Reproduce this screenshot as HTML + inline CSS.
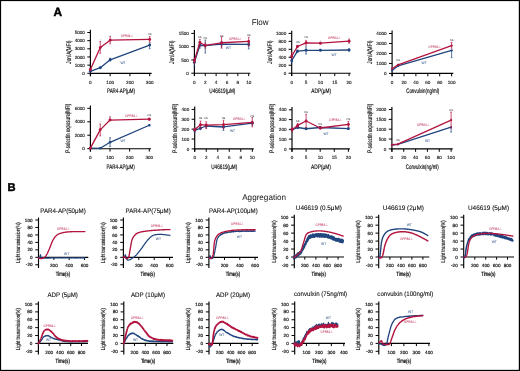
<!DOCTYPE html>
<html><head><meta charset="utf-8"><style>
html,body{margin:0;padding:0;background:#fff;}
body{width:520px;height:371px;overflow:hidden;position:relative;}
svg{position:absolute;left:0;top:0;will-change:transform;}
text{font-family:"Liberation Sans", sans-serif;text-rendering:geometricPrecision;}
</style></head><body>
<svg width="520" height="371" viewBox="0 0 520 371">
<rect x="0" y="0" width="520" height="371" fill="#fff"/>
<text transform="translate(53.50,16.30)" font-size="11.9" text-anchor="start" fill="#000" font-weight="bold" stroke="#000" stroke-width="0.45">A</text>
<text transform="translate(251.70,25.20)" font-size="8.3" text-anchor="start" fill="#111" font-weight="normal" textLength="16.90" lengthAdjust="spacingAndGlyphs" >Flow</text>
<line x1="90.40" y1="29.70" x2="90.40" y2="76.20" stroke="#000" stroke-width="1.15"/>
<line x1="89.93" y1="73.30" x2="151.60" y2="73.30" stroke="#000" stroke-width="1.15"/>
<line x1="87.30" y1="73.30" x2="90.40" y2="73.30" stroke="#000" stroke-width="1.0"/>
<text transform="translate(84.90,74.95)" font-size="4.6" text-anchor="end" fill="#222" stroke="#222" stroke-width="0.14" font-weight="normal" >0</text>
<line x1="87.30" y1="65.14" x2="90.40" y2="65.14" stroke="#000" stroke-width="1.0"/>
<text transform="translate(84.90,66.79)" font-size="4.6" text-anchor="end" fill="#222" stroke="#222" stroke-width="0.14" font-weight="normal" >1000</text>
<line x1="87.30" y1="56.98" x2="90.40" y2="56.98" stroke="#000" stroke-width="1.0"/>
<text transform="translate(84.90,58.63)" font-size="4.6" text-anchor="end" fill="#222" stroke="#222" stroke-width="0.14" font-weight="normal" >2000</text>
<line x1="87.30" y1="48.82" x2="90.40" y2="48.82" stroke="#000" stroke-width="1.0"/>
<text transform="translate(84.90,50.47)" font-size="4.6" text-anchor="end" fill="#222" stroke="#222" stroke-width="0.14" font-weight="normal" >3000</text>
<line x1="87.30" y1="40.66" x2="90.40" y2="40.66" stroke="#000" stroke-width="1.0"/>
<text transform="translate(84.90,42.31)" font-size="4.6" text-anchor="end" fill="#222" stroke="#222" stroke-width="0.14" font-weight="normal" >4000</text>
<line x1="87.30" y1="32.50" x2="90.40" y2="32.50" stroke="#000" stroke-width="1.0"/>
<text transform="translate(84.90,34.15)" font-size="4.6" text-anchor="end" fill="#222" stroke="#222" stroke-width="0.14" font-weight="normal" >5000</text>
<line x1="90.40" y1="73.30" x2="90.40" y2="76.20" stroke="#000" stroke-width="1.0"/>
<text transform="translate(90.40,83.65)" font-size="4.6" text-anchor="middle" fill="#222" stroke="#222" stroke-width="0.14" font-weight="normal" >0</text>
<line x1="110.17" y1="73.30" x2="110.17" y2="76.20" stroke="#000" stroke-width="1.0"/>
<text transform="translate(110.17,83.65)" font-size="4.6" text-anchor="middle" fill="#222" stroke="#222" stroke-width="0.14" font-weight="normal" >100</text>
<line x1="129.93" y1="73.30" x2="129.93" y2="76.20" stroke="#000" stroke-width="1.0"/>
<text transform="translate(129.93,83.65)" font-size="4.6" text-anchor="middle" fill="#222" stroke="#222" stroke-width="0.14" font-weight="normal" >200</text>
<line x1="149.70" y1="73.30" x2="149.70" y2="76.20" stroke="#000" stroke-width="1.0"/>
<text transform="translate(149.70,83.65)" font-size="4.6" text-anchor="middle" fill="#222" stroke="#222" stroke-width="0.14" font-weight="normal" >300</text>
<text transform="translate(121.00,92.70)" font-size="6.6" text-anchor="middle" fill="#000" font-weight="normal" stroke="#000" stroke-width="0.14" textLength="28.00" lengthAdjust="spacingAndGlyphs" >PAR4-AP(μM)</text>
<text transform="translate(70.50,52.10) rotate(-90)" font-size="6.6" text-anchor="middle" fill="#000" font-weight="normal" stroke="#000" stroke-width="0.14" textLength="23.20" lengthAdjust="spacingAndGlyphs" >Jon/A(MFI)</text>
<path d="M90.40,71.30 L100.28,67.70 L110.17,59.80 L149.70,45.11" fill="none" stroke="#21457F" stroke-width="1.3" stroke-linejoin="round" stroke-linecap="round"/>
<circle cx="90.40" cy="71.30" r="1.44" fill="#21457F"/>
<line x1="100.28" y1="67.21" x2="100.28" y2="68.19" stroke="#21457F" stroke-width="0.75"/>
<line x1="99.38" y1="67.21" x2="101.18" y2="67.21" stroke="#21457F" stroke-width="0.6"/>
<line x1="99.38" y1="68.19" x2="101.18" y2="68.19" stroke="#21457F" stroke-width="0.6"/>
<circle cx="100.28" cy="67.70" r="1.44" fill="#21457F"/>
<line x1="110.17" y1="58.17" x2="110.17" y2="61.03" stroke="#21457F" stroke-width="0.75"/>
<line x1="109.27" y1="58.17" x2="111.07" y2="58.17" stroke="#21457F" stroke-width="0.6"/>
<line x1="109.27" y1="61.03" x2="111.07" y2="61.03" stroke="#21457F" stroke-width="0.6"/>
<circle cx="110.17" cy="59.80" r="1.44" fill="#21457F"/>
<line x1="149.70" y1="43.07" x2="149.70" y2="48.78" stroke="#21457F" stroke-width="0.75"/>
<line x1="148.80" y1="43.07" x2="150.60" y2="43.07" stroke="#21457F" stroke-width="0.6"/>
<line x1="148.80" y1="48.78" x2="150.60" y2="48.78" stroke="#21457F" stroke-width="0.6"/>
<circle cx="149.70" cy="45.11" r="1.44" fill="#21457F"/>
<path d="M90.40,69.51 L100.28,47.60 L110.17,40.17 L149.70,39.40" fill="none" stroke="#B3143F" stroke-width="1.3" stroke-linejoin="round" stroke-linecap="round"/>
<line x1="90.40" y1="68.69" x2="90.40" y2="70.32" stroke="#B3143F" stroke-width="0.75"/>
<line x1="89.50" y1="68.69" x2="91.30" y2="68.69" stroke="#B3143F" stroke-width="0.6"/>
<line x1="89.50" y1="70.32" x2="91.30" y2="70.32" stroke="#B3143F" stroke-width="0.6"/>
<circle cx="90.40" cy="69.51" r="1.44" fill="#B3143F"/>
<line x1="100.28" y1="41.48" x2="100.28" y2="53.31" stroke="#B3143F" stroke-width="0.75"/>
<line x1="99.38" y1="41.48" x2="101.18" y2="41.48" stroke="#B3143F" stroke-width="0.6"/>
<line x1="99.38" y1="53.31" x2="101.18" y2="53.31" stroke="#B3143F" stroke-width="0.6"/>
<circle cx="100.28" cy="47.60" r="1.44" fill="#B3143F"/>
<line x1="110.17" y1="36.50" x2="110.17" y2="43.84" stroke="#B3143F" stroke-width="0.75"/>
<line x1="109.27" y1="36.50" x2="111.07" y2="36.50" stroke="#B3143F" stroke-width="0.6"/>
<line x1="109.27" y1="43.84" x2="111.07" y2="43.84" stroke="#B3143F" stroke-width="0.6"/>
<circle cx="110.17" cy="40.17" r="1.44" fill="#B3143F"/>
<line x1="149.70" y1="36.55" x2="149.70" y2="42.26" stroke="#B3143F" stroke-width="0.75"/>
<line x1="148.80" y1="36.55" x2="150.60" y2="36.55" stroke="#B3143F" stroke-width="0.6"/>
<line x1="148.80" y1="42.26" x2="150.60" y2="42.26" stroke="#B3143F" stroke-width="0.6"/>
<circle cx="149.70" cy="39.40" r="1.44" fill="#B3143F"/>
<text transform="translate(149.70,34.50)" font-size="3.3" text-anchor="middle" fill="#333" font-weight="normal" textLength="3.60" lengthAdjust="spacingAndGlyphs" >ns</text>
<text transform="translate(100.50,42.10)" font-size="4.2" text-anchor="middle" fill="#9bb" font-weight="normal" >*</text>
<text transform="translate(110.20,37.60)" font-size="4.2" text-anchor="middle" fill="#9bb" font-weight="normal" >*</text>
<text transform="translate(127.00,36.80)" font-size="3.6" text-anchor="middle" fill="#B3143F" font-weight="normal" textLength="12.50" lengthAdjust="spacingAndGlyphs" >GPR84-/-</text>
<text transform="translate(123.00,63.60)" font-size="3.6" text-anchor="middle" fill="#21457F" font-weight="normal" textLength="5.20" lengthAdjust="spacingAndGlyphs" >WT</text>
<line x1="194.40" y1="30.10" x2="194.40" y2="76.10" stroke="#000" stroke-width="1.15"/>
<line x1="193.93" y1="73.20" x2="250.30" y2="73.20" stroke="#000" stroke-width="1.15"/>
<line x1="191.30" y1="73.20" x2="194.40" y2="73.20" stroke="#000" stroke-width="1.0"/>
<text transform="translate(188.90,74.85)" font-size="4.6" text-anchor="end" fill="#222" stroke="#222" stroke-width="0.14" font-weight="normal" >0</text>
<line x1="191.30" y1="59.93" x2="194.40" y2="59.93" stroke="#000" stroke-width="1.0"/>
<text transform="translate(188.90,61.58)" font-size="4.6" text-anchor="end" fill="#222" stroke="#222" stroke-width="0.14" font-weight="normal" >500</text>
<line x1="191.30" y1="46.67" x2="194.40" y2="46.67" stroke="#000" stroke-width="1.0"/>
<text transform="translate(188.90,48.32)" font-size="4.6" text-anchor="end" fill="#222" stroke="#222" stroke-width="0.14" font-weight="normal" >1000</text>
<line x1="191.30" y1="33.40" x2="194.40" y2="33.40" stroke="#000" stroke-width="1.0"/>
<text transform="translate(188.90,35.05)" font-size="4.6" text-anchor="end" fill="#222" stroke="#222" stroke-width="0.14" font-weight="normal" >1500</text>
<line x1="194.40" y1="73.20" x2="194.40" y2="76.10" stroke="#000" stroke-width="1.0"/>
<text transform="translate(194.40,83.55)" font-size="4.6" text-anchor="middle" fill="#222" stroke="#222" stroke-width="0.14" font-weight="normal" >0</text>
<line x1="205.26" y1="73.20" x2="205.26" y2="76.10" stroke="#000" stroke-width="1.0"/>
<text transform="translate(205.26,83.55)" font-size="4.6" text-anchor="middle" fill="#222" stroke="#222" stroke-width="0.14" font-weight="normal" >2</text>
<line x1="216.12" y1="73.20" x2="216.12" y2="76.10" stroke="#000" stroke-width="1.0"/>
<text transform="translate(216.12,83.55)" font-size="4.6" text-anchor="middle" fill="#222" stroke="#222" stroke-width="0.14" font-weight="normal" >4</text>
<line x1="226.98" y1="73.20" x2="226.98" y2="76.10" stroke="#000" stroke-width="1.0"/>
<text transform="translate(226.98,83.55)" font-size="4.6" text-anchor="middle" fill="#222" stroke="#222" stroke-width="0.14" font-weight="normal" >6</text>
<line x1="237.84" y1="73.20" x2="237.84" y2="76.10" stroke="#000" stroke-width="1.0"/>
<text transform="translate(237.84,83.55)" font-size="4.6" text-anchor="middle" fill="#222" stroke="#222" stroke-width="0.14" font-weight="normal" >8</text>
<line x1="248.70" y1="73.20" x2="248.70" y2="76.10" stroke="#000" stroke-width="1.0"/>
<text transform="translate(248.70,83.55)" font-size="4.6" text-anchor="middle" fill="#222" stroke="#222" stroke-width="0.14" font-weight="normal" >10</text>
<text transform="translate(222.35,92.70)" font-size="6.6" text-anchor="middle" fill="#000" font-weight="normal" stroke="#000" stroke-width="0.14" textLength="26.00" lengthAdjust="spacingAndGlyphs" >U46619(μM)</text>
<text transform="translate(174.10,52.10) rotate(-90)" font-size="6.6" text-anchor="middle" fill="#000" font-weight="normal" stroke="#000" stroke-width="0.14" textLength="23.20" lengthAdjust="spacingAndGlyphs" >Jon/A(MFI)</text>
<path d="M194.40,62.37 L199.83,45.26 L205.26,45.61 L221.55,44.17 L248.70,44.46" fill="none" stroke="#21457F" stroke-width="1.3" stroke-linejoin="round" stroke-linecap="round"/>
<line x1="194.40" y1="60.78" x2="194.40" y2="66.89" stroke="#21457F" stroke-width="0.75"/>
<line x1="193.50" y1="60.78" x2="195.30" y2="60.78" stroke="#21457F" stroke-width="0.6"/>
<line x1="193.50" y1="66.89" x2="195.30" y2="66.89" stroke="#21457F" stroke-width="0.6"/>
<circle cx="194.40" cy="62.37" r="1.44" fill="#21457F"/>
<line x1="199.83" y1="42.34" x2="199.83" y2="48.18" stroke="#21457F" stroke-width="0.75"/>
<line x1="198.93" y1="42.34" x2="200.73" y2="42.34" stroke="#21457F" stroke-width="0.6"/>
<line x1="198.93" y1="48.18" x2="200.73" y2="48.18" stroke="#21457F" stroke-width="0.6"/>
<circle cx="199.83" cy="45.26" r="1.44" fill="#21457F"/>
<line x1="205.26" y1="40.03" x2="205.26" y2="53.03" stroke="#21457F" stroke-width="0.75"/>
<line x1="204.36" y1="40.03" x2="206.16" y2="40.03" stroke="#21457F" stroke-width="0.6"/>
<line x1="204.36" y1="53.03" x2="206.16" y2="53.03" stroke="#21457F" stroke-width="0.6"/>
<circle cx="205.26" cy="45.61" r="1.44" fill="#21457F"/>
<line x1="221.55" y1="41.52" x2="221.55" y2="46.83" stroke="#21457F" stroke-width="0.75"/>
<line x1="220.65" y1="41.52" x2="222.45" y2="41.52" stroke="#21457F" stroke-width="0.6"/>
<line x1="220.65" y1="46.83" x2="222.45" y2="46.83" stroke="#21457F" stroke-width="0.6"/>
<circle cx="221.55" cy="44.17" r="1.44" fill="#21457F"/>
<line x1="248.70" y1="42.34" x2="248.70" y2="48.98" stroke="#21457F" stroke-width="0.75"/>
<line x1="247.80" y1="42.34" x2="249.60" y2="42.34" stroke="#21457F" stroke-width="0.6"/>
<line x1="247.80" y1="48.98" x2="249.60" y2="48.98" stroke="#21457F" stroke-width="0.6"/>
<circle cx="248.70" cy="44.46" r="1.44" fill="#21457F"/>
<path d="M194.40,60.78 L199.83,42.55 L205.26,45.47 L221.55,42.77 L248.70,41.47" fill="none" stroke="#B3143F" stroke-width="1.3" stroke-linejoin="round" stroke-linecap="round"/>
<line x1="194.40" y1="58.13" x2="194.40" y2="63.44" stroke="#B3143F" stroke-width="0.75"/>
<line x1="193.50" y1="58.13" x2="195.30" y2="58.13" stroke="#B3143F" stroke-width="0.6"/>
<line x1="193.50" y1="63.44" x2="195.30" y2="63.44" stroke="#B3143F" stroke-width="0.6"/>
<circle cx="194.40" cy="60.78" r="1.44" fill="#B3143F"/>
<line x1="199.83" y1="39.37" x2="199.83" y2="45.74" stroke="#B3143F" stroke-width="0.75"/>
<line x1="198.93" y1="39.37" x2="200.73" y2="39.37" stroke="#B3143F" stroke-width="0.6"/>
<line x1="198.93" y1="45.74" x2="200.73" y2="45.74" stroke="#B3143F" stroke-width="0.6"/>
<circle cx="199.83" cy="42.55" r="1.44" fill="#B3143F"/>
<line x1="205.26" y1="42.82" x2="205.26" y2="48.13" stroke="#B3143F" stroke-width="0.75"/>
<line x1="204.36" y1="42.82" x2="206.16" y2="42.82" stroke="#B3143F" stroke-width="0.6"/>
<line x1="204.36" y1="48.13" x2="206.16" y2="48.13" stroke="#B3143F" stroke-width="0.6"/>
<circle cx="205.26" cy="45.47" r="1.44" fill="#B3143F"/>
<line x1="221.55" y1="36.80" x2="221.55" y2="48.21" stroke="#B3143F" stroke-width="0.75"/>
<line x1="220.65" y1="36.80" x2="222.45" y2="36.80" stroke="#B3143F" stroke-width="0.6"/>
<line x1="220.65" y1="48.21" x2="222.45" y2="48.21" stroke="#B3143F" stroke-width="0.6"/>
<circle cx="221.55" cy="42.77" r="1.44" fill="#B3143F"/>
<line x1="248.70" y1="37.22" x2="248.70" y2="46.11" stroke="#B3143F" stroke-width="0.75"/>
<line x1="247.80" y1="37.22" x2="249.60" y2="37.22" stroke="#B3143F" stroke-width="0.6"/>
<line x1="247.80" y1="46.11" x2="249.60" y2="46.11" stroke="#B3143F" stroke-width="0.6"/>
<circle cx="248.70" cy="41.47" r="1.44" fill="#B3143F"/>
<text transform="translate(199.70,38.10)" font-size="3.3" text-anchor="middle" fill="#333" font-weight="normal" textLength="3.60" lengthAdjust="spacingAndGlyphs" >ns</text>
<text transform="translate(205.20,38.70)" font-size="3.3" text-anchor="middle" fill="#333" font-weight="normal" textLength="3.60" lengthAdjust="spacingAndGlyphs" >ns</text>
<text transform="translate(221.60,36.70)" font-size="3.3" text-anchor="middle" fill="#333" font-weight="normal" textLength="3.60" lengthAdjust="spacingAndGlyphs" >ns</text>
<text transform="translate(248.70,35.60)" font-size="3.3" text-anchor="middle" fill="#333" font-weight="normal" textLength="3.60" lengthAdjust="spacingAndGlyphs" >ns</text>
<text transform="translate(235.20,39.70)" font-size="3.6" text-anchor="middle" fill="#B3143F" font-weight="normal" textLength="12.50" lengthAdjust="spacingAndGlyphs" >GPR84-/-</text>
<text transform="translate(228.40,49.20)" font-size="3.6" text-anchor="middle" fill="#21457F" font-weight="normal" textLength="5.20" lengthAdjust="spacingAndGlyphs" >WT</text>
<line x1="291.70" y1="30.70" x2="291.70" y2="76.10" stroke="#000" stroke-width="1.15"/>
<line x1="291.23" y1="73.20" x2="350.70" y2="73.20" stroke="#000" stroke-width="1.15"/>
<line x1="288.60" y1="73.20" x2="291.70" y2="73.20" stroke="#000" stroke-width="1.0"/>
<text transform="translate(286.20,74.85)" font-size="4.6" text-anchor="end" fill="#222" stroke="#222" stroke-width="0.14" font-weight="normal" >0</text>
<line x1="288.60" y1="65.24" x2="291.70" y2="65.24" stroke="#000" stroke-width="1.0"/>
<text transform="translate(286.20,66.89)" font-size="4.6" text-anchor="end" fill="#222" stroke="#222" stroke-width="0.14" font-weight="normal" >200</text>
<line x1="288.60" y1="57.28" x2="291.70" y2="57.28" stroke="#000" stroke-width="1.0"/>
<text transform="translate(286.20,58.93)" font-size="4.6" text-anchor="end" fill="#222" stroke="#222" stroke-width="0.14" font-weight="normal" >400</text>
<line x1="288.60" y1="49.32" x2="291.70" y2="49.32" stroke="#000" stroke-width="1.0"/>
<text transform="translate(286.20,50.97)" font-size="4.6" text-anchor="end" fill="#222" stroke="#222" stroke-width="0.14" font-weight="normal" >600</text>
<line x1="288.60" y1="41.36" x2="291.70" y2="41.36" stroke="#000" stroke-width="1.0"/>
<text transform="translate(286.20,43.01)" font-size="4.6" text-anchor="end" fill="#222" stroke="#222" stroke-width="0.14" font-weight="normal" >800</text>
<line x1="288.60" y1="33.40" x2="291.70" y2="33.40" stroke="#000" stroke-width="1.0"/>
<text transform="translate(286.20,35.05)" font-size="4.6" text-anchor="end" fill="#222" stroke="#222" stroke-width="0.14" font-weight="normal" >1000</text>
<line x1="291.70" y1="73.20" x2="291.70" y2="76.10" stroke="#000" stroke-width="1.0"/>
<text transform="translate(291.70,83.55)" font-size="4.6" text-anchor="middle" fill="#222" stroke="#222" stroke-width="0.14" font-weight="normal" >0</text>
<line x1="306.05" y1="73.20" x2="306.05" y2="76.10" stroke="#000" stroke-width="1.0"/>
<text transform="translate(306.05,83.55)" font-size="4.6" text-anchor="middle" fill="#222" stroke="#222" stroke-width="0.14" font-weight="normal" >5</text>
<line x1="320.40" y1="73.20" x2="320.40" y2="76.10" stroke="#000" stroke-width="1.0"/>
<text transform="translate(320.40,83.55)" font-size="4.6" text-anchor="middle" fill="#222" stroke="#222" stroke-width="0.14" font-weight="normal" >10</text>
<line x1="334.75" y1="73.20" x2="334.75" y2="76.10" stroke="#000" stroke-width="1.0"/>
<text transform="translate(334.75,83.55)" font-size="4.6" text-anchor="middle" fill="#222" stroke="#222" stroke-width="0.14" font-weight="normal" >15</text>
<line x1="349.10" y1="73.20" x2="349.10" y2="76.10" stroke="#000" stroke-width="1.0"/>
<text transform="translate(349.10,83.55)" font-size="4.6" text-anchor="middle" fill="#222" stroke="#222" stroke-width="0.14" font-weight="normal" >20</text>
<text transform="translate(321.20,92.70)" font-size="6.6" text-anchor="middle" fill="#000" font-weight="normal" stroke="#000" stroke-width="0.14" textLength="19.70" lengthAdjust="spacingAndGlyphs" >ADP(μM)</text>
<text transform="translate(271.50,52.10) rotate(-90)" font-size="6.6" text-anchor="middle" fill="#000" font-weight="normal" stroke="#000" stroke-width="0.14" textLength="23.20" lengthAdjust="spacingAndGlyphs" >Jon/A(MFI)</text>
<path d="M291.70,60.78 L297.44,51.19 L306.05,50.31 L320.40,50.31 L349.10,50.00" fill="none" stroke="#21457F" stroke-width="1.3" stroke-linejoin="round" stroke-linecap="round"/>
<line x1="291.70" y1="58.79" x2="291.70" y2="62.77" stroke="#21457F" stroke-width="0.75"/>
<line x1="290.80" y1="58.79" x2="292.60" y2="58.79" stroke="#21457F" stroke-width="0.6"/>
<line x1="290.80" y1="62.77" x2="292.60" y2="62.77" stroke="#21457F" stroke-width="0.6"/>
<circle cx="291.70" cy="60.78" r="1.44" fill="#21457F"/>
<line x1="297.44" y1="50.00" x2="297.44" y2="52.38" stroke="#21457F" stroke-width="0.75"/>
<line x1="296.54" y1="50.00" x2="298.34" y2="50.00" stroke="#21457F" stroke-width="0.6"/>
<line x1="296.54" y1="52.38" x2="298.34" y2="52.38" stroke="#21457F" stroke-width="0.6"/>
<circle cx="297.44" cy="51.19" r="1.44" fill="#21457F"/>
<line x1="306.05" y1="46.73" x2="306.05" y2="54.10" stroke="#21457F" stroke-width="0.75"/>
<line x1="305.15" y1="46.73" x2="306.95" y2="46.73" stroke="#21457F" stroke-width="0.6"/>
<line x1="305.15" y1="54.10" x2="306.95" y2="54.10" stroke="#21457F" stroke-width="0.6"/>
<circle cx="306.05" cy="50.31" r="1.44" fill="#21457F"/>
<line x1="320.40" y1="49.52" x2="320.40" y2="51.11" stroke="#21457F" stroke-width="0.75"/>
<line x1="319.50" y1="49.52" x2="321.30" y2="49.52" stroke="#21457F" stroke-width="0.6"/>
<line x1="319.50" y1="51.11" x2="321.30" y2="51.11" stroke="#21457F" stroke-width="0.6"/>
<circle cx="320.40" cy="50.31" r="1.44" fill="#21457F"/>
<line x1="349.10" y1="48.80" x2="349.10" y2="51.19" stroke="#21457F" stroke-width="0.75"/>
<line x1="348.20" y1="48.80" x2="350.00" y2="48.80" stroke="#21457F" stroke-width="0.6"/>
<line x1="348.20" y1="51.19" x2="350.00" y2="51.19" stroke="#21457F" stroke-width="0.6"/>
<circle cx="349.10" cy="50.00" r="1.44" fill="#21457F"/>
<path d="M291.70,56.28 L297.44,46.49 L306.05,42.79 L320.40,43.19 L349.10,41.20" fill="none" stroke="#B3143F" stroke-width="1.3" stroke-linejoin="round" stroke-linecap="round"/>
<line x1="291.70" y1="51.91" x2="291.70" y2="58.67" stroke="#B3143F" stroke-width="0.75"/>
<line x1="290.80" y1="51.91" x2="292.60" y2="51.91" stroke="#B3143F" stroke-width="0.6"/>
<line x1="290.80" y1="58.67" x2="292.60" y2="58.67" stroke="#B3143F" stroke-width="0.6"/>
<circle cx="291.70" cy="56.28" r="1.44" fill="#B3143F"/>
<line x1="297.44" y1="45.30" x2="297.44" y2="47.69" stroke="#B3143F" stroke-width="0.75"/>
<line x1="296.54" y1="45.30" x2="298.34" y2="45.30" stroke="#B3143F" stroke-width="0.6"/>
<line x1="296.54" y1="47.69" x2="298.34" y2="47.69" stroke="#B3143F" stroke-width="0.6"/>
<circle cx="297.44" cy="46.49" r="1.44" fill="#B3143F"/>
<line x1="306.05" y1="40.40" x2="306.05" y2="45.18" stroke="#B3143F" stroke-width="0.75"/>
<line x1="305.15" y1="40.40" x2="306.95" y2="40.40" stroke="#B3143F" stroke-width="0.6"/>
<line x1="305.15" y1="45.18" x2="306.95" y2="45.18" stroke="#B3143F" stroke-width="0.6"/>
<circle cx="306.05" cy="42.79" r="1.44" fill="#B3143F"/>
<line x1="320.40" y1="42.39" x2="320.40" y2="43.99" stroke="#B3143F" stroke-width="0.75"/>
<line x1="319.50" y1="42.39" x2="321.30" y2="42.39" stroke="#B3143F" stroke-width="0.6"/>
<line x1="319.50" y1="43.99" x2="321.30" y2="43.99" stroke="#B3143F" stroke-width="0.6"/>
<circle cx="320.40" cy="43.19" r="1.44" fill="#B3143F"/>
<line x1="349.10" y1="39.21" x2="349.10" y2="43.19" stroke="#B3143F" stroke-width="0.75"/>
<line x1="348.20" y1="39.21" x2="350.00" y2="39.21" stroke="#B3143F" stroke-width="0.6"/>
<line x1="348.20" y1="43.19" x2="350.00" y2="43.19" stroke="#B3143F" stroke-width="0.6"/>
<circle cx="349.10" cy="41.20" r="1.44" fill="#B3143F"/>
<text transform="translate(297.80,43.30)" font-size="3.3" text-anchor="middle" fill="#333" font-weight="normal" textLength="3.60" lengthAdjust="spacingAndGlyphs" >ns</text>
<text transform="translate(306.20,38.10)" font-size="3.3" text-anchor="middle" fill="#333" font-weight="normal" textLength="3.60" lengthAdjust="spacingAndGlyphs" >ns</text>
<text transform="translate(320.50,42.50)" font-size="4.2" text-anchor="middle" fill="#9bb" font-weight="normal" >*</text>
<text transform="translate(349.10,39.80)" font-size="4.2" text-anchor="middle" fill="#9bb" font-weight="normal" >*</text>
<text transform="translate(334.20,38.90)" font-size="3.6" text-anchor="middle" fill="#B3143F" font-weight="normal" textLength="12.50" lengthAdjust="spacingAndGlyphs" >GPR84-/-</text>
<text transform="translate(334.20,55.90)" font-size="3.6" text-anchor="middle" fill="#21457F" font-weight="normal" textLength="5.20" lengthAdjust="spacingAndGlyphs" >WT</text>
<line x1="392.10" y1="30.50" x2="392.10" y2="76.30" stroke="#000" stroke-width="1.15"/>
<line x1="391.63" y1="73.40" x2="453.30" y2="73.40" stroke="#000" stroke-width="1.15"/>
<line x1="389.00" y1="73.40" x2="392.10" y2="73.40" stroke="#000" stroke-width="1.0"/>
<text transform="translate(386.60,75.05)" font-size="4.6" text-anchor="end" fill="#222" stroke="#222" stroke-width="0.14" font-weight="normal" >0</text>
<line x1="389.00" y1="63.43" x2="392.10" y2="63.43" stroke="#000" stroke-width="1.0"/>
<text transform="translate(386.60,65.08)" font-size="4.6" text-anchor="end" fill="#222" stroke="#222" stroke-width="0.14" font-weight="normal" >1000</text>
<line x1="389.00" y1="53.45" x2="392.10" y2="53.45" stroke="#000" stroke-width="1.0"/>
<text transform="translate(386.60,55.10)" font-size="4.6" text-anchor="end" fill="#222" stroke="#222" stroke-width="0.14" font-weight="normal" >2000</text>
<line x1="389.00" y1="43.48" x2="392.10" y2="43.48" stroke="#000" stroke-width="1.0"/>
<text transform="translate(386.60,45.12)" font-size="4.6" text-anchor="end" fill="#222" stroke="#222" stroke-width="0.14" font-weight="normal" >3000</text>
<line x1="389.00" y1="33.50" x2="392.10" y2="33.50" stroke="#000" stroke-width="1.0"/>
<text transform="translate(386.60,35.15)" font-size="4.6" text-anchor="end" fill="#222" stroke="#222" stroke-width="0.14" font-weight="normal" >4000</text>
<line x1="392.10" y1="73.40" x2="392.10" y2="76.30" stroke="#000" stroke-width="1.0"/>
<text transform="translate(392.10,83.75)" font-size="4.6" text-anchor="middle" fill="#222" stroke="#222" stroke-width="0.14" font-weight="normal" >0</text>
<line x1="404.00" y1="73.40" x2="404.00" y2="76.30" stroke="#000" stroke-width="1.0"/>
<text transform="translate(404.00,83.75)" font-size="4.6" text-anchor="middle" fill="#222" stroke="#222" stroke-width="0.14" font-weight="normal" >20</text>
<line x1="415.90" y1="73.40" x2="415.90" y2="76.30" stroke="#000" stroke-width="1.0"/>
<text transform="translate(415.90,83.75)" font-size="4.6" text-anchor="middle" fill="#222" stroke="#222" stroke-width="0.14" font-weight="normal" >40</text>
<line x1="427.80" y1="73.40" x2="427.80" y2="76.30" stroke="#000" stroke-width="1.0"/>
<text transform="translate(427.80,83.75)" font-size="4.6" text-anchor="middle" fill="#222" stroke="#222" stroke-width="0.14" font-weight="normal" >60</text>
<line x1="439.70" y1="73.40" x2="439.70" y2="76.30" stroke="#000" stroke-width="1.0"/>
<text transform="translate(439.70,83.75)" font-size="4.6" text-anchor="middle" fill="#222" stroke="#222" stroke-width="0.14" font-weight="normal" >80</text>
<line x1="451.60" y1="73.40" x2="451.60" y2="76.30" stroke="#000" stroke-width="1.0"/>
<text transform="translate(451.60,83.75)" font-size="4.6" text-anchor="middle" fill="#222" stroke="#222" stroke-width="0.14" font-weight="normal" >100</text>
<text transform="translate(422.70,92.70)" font-size="6.6" text-anchor="middle" fill="#000" font-weight="normal" stroke="#000" stroke-width="0.14" textLength="33.00" lengthAdjust="spacingAndGlyphs" >Convulxin(ng/ml)</text>
<text transform="translate(371.60,52.10) rotate(-90)" font-size="6.6" text-anchor="middle" fill="#000" font-weight="normal" stroke="#000" stroke-width="0.14" textLength="23.20" lengthAdjust="spacingAndGlyphs" >Jon/A(MFI)</text>
<path d="M392.10,70.51 L398.05,65.82 L451.60,50.46" fill="none" stroke="#21457F" stroke-width="1.3" stroke-linejoin="round" stroke-linecap="round"/>
<circle cx="392.10" cy="70.51" r="1.15" fill="#21457F"/>
<line x1="398.05" y1="65.32" x2="398.05" y2="66.32" stroke="#21457F" stroke-width="0.75"/>
<line x1="397.15" y1="65.32" x2="398.95" y2="65.32" stroke="#21457F" stroke-width="0.6"/>
<line x1="397.15" y1="66.32" x2="398.95" y2="66.32" stroke="#21457F" stroke-width="0.6"/>
<circle cx="398.05" cy="65.82" r="1.15" fill="#21457F"/>
<line x1="451.60" y1="50.46" x2="451.60" y2="57.64" stroke="#21457F" stroke-width="0.75"/>
<line x1="450.70" y1="50.46" x2="452.50" y2="50.46" stroke="#21457F" stroke-width="0.6"/>
<line x1="450.70" y1="57.64" x2="452.50" y2="57.64" stroke="#21457F" stroke-width="0.6"/>
<circle cx="451.60" cy="50.46" r="1.15" fill="#21457F"/>
<path d="M392.10,68.71 L398.05,64.82 L451.60,45.67" fill="none" stroke="#B3143F" stroke-width="1.3" stroke-linejoin="round" stroke-linecap="round"/>
<circle cx="392.10" cy="68.71" r="1.15" fill="#B3143F"/>
<line x1="398.05" y1="64.32" x2="398.05" y2="65.32" stroke="#B3143F" stroke-width="0.75"/>
<line x1="397.15" y1="64.32" x2="398.95" y2="64.32" stroke="#B3143F" stroke-width="0.6"/>
<line x1="397.15" y1="65.32" x2="398.95" y2="65.32" stroke="#B3143F" stroke-width="0.6"/>
<circle cx="398.05" cy="64.82" r="1.15" fill="#B3143F"/>
<line x1="451.60" y1="42.38" x2="451.60" y2="48.26" stroke="#B3143F" stroke-width="0.75"/>
<line x1="450.70" y1="42.38" x2="452.50" y2="42.38" stroke="#B3143F" stroke-width="0.6"/>
<line x1="450.70" y1="48.26" x2="452.50" y2="48.26" stroke="#B3143F" stroke-width="0.6"/>
<circle cx="451.60" cy="45.67" r="1.15" fill="#B3143F"/>
<text transform="translate(398.10,61.40)" font-size="3.3" text-anchor="middle" fill="#333" font-weight="normal" textLength="3.60" lengthAdjust="spacingAndGlyphs" >ns</text>
<text transform="translate(451.60,41.20)" font-size="3.3" text-anchor="middle" fill="#333" font-weight="normal" textLength="3.60" lengthAdjust="spacingAndGlyphs" >ns</text>
<text transform="translate(434.80,47.50)" font-size="3.6" text-anchor="middle" fill="#B3143F" font-weight="normal" textLength="12.50" lengthAdjust="spacingAndGlyphs" >GPR84-/-</text>
<text transform="translate(424.20,64.10)" font-size="3.6" text-anchor="middle" fill="#21457F" font-weight="normal" textLength="5.20" lengthAdjust="spacingAndGlyphs" >WT</text>
<line x1="90.40" y1="105.40" x2="90.40" y2="151.60" stroke="#000" stroke-width="1.15"/>
<line x1="89.93" y1="148.70" x2="151.00" y2="148.70" stroke="#000" stroke-width="1.15"/>
<line x1="87.30" y1="148.70" x2="90.40" y2="148.70" stroke="#000" stroke-width="1.0"/>
<text transform="translate(84.90,150.35)" font-size="4.6" text-anchor="end" fill="#222" stroke="#222" stroke-width="0.14" font-weight="normal" >0</text>
<line x1="87.30" y1="135.23" x2="90.40" y2="135.23" stroke="#000" stroke-width="1.0"/>
<text transform="translate(84.90,136.88)" font-size="4.6" text-anchor="end" fill="#222" stroke="#222" stroke-width="0.14" font-weight="normal" >2000</text>
<line x1="87.30" y1="121.77" x2="90.40" y2="121.77" stroke="#000" stroke-width="1.0"/>
<text transform="translate(84.90,123.42)" font-size="4.6" text-anchor="end" fill="#222" stroke="#222" stroke-width="0.14" font-weight="normal" >4000</text>
<line x1="87.30" y1="108.30" x2="90.40" y2="108.30" stroke="#000" stroke-width="1.0"/>
<text transform="translate(84.90,109.95)" font-size="4.6" text-anchor="end" fill="#222" stroke="#222" stroke-width="0.14" font-weight="normal" >6000</text>
<line x1="90.40" y1="148.70" x2="90.40" y2="151.60" stroke="#000" stroke-width="1.0"/>
<text transform="translate(90.40,159.05)" font-size="4.6" text-anchor="middle" fill="#222" stroke="#222" stroke-width="0.14" font-weight="normal" >0</text>
<line x1="110.03" y1="148.70" x2="110.03" y2="151.60" stroke="#000" stroke-width="1.0"/>
<text transform="translate(110.03,159.05)" font-size="4.6" text-anchor="middle" fill="#222" stroke="#222" stroke-width="0.14" font-weight="normal" >100</text>
<line x1="129.67" y1="148.70" x2="129.67" y2="151.60" stroke="#000" stroke-width="1.0"/>
<text transform="translate(129.67,159.05)" font-size="4.6" text-anchor="middle" fill="#222" stroke="#222" stroke-width="0.14" font-weight="normal" >200</text>
<line x1="149.30" y1="148.70" x2="149.30" y2="151.60" stroke="#000" stroke-width="1.0"/>
<text transform="translate(149.30,159.05)" font-size="4.6" text-anchor="middle" fill="#222" stroke="#222" stroke-width="0.14" font-weight="normal" >300</text>
<text transform="translate(120.70,168.60)" font-size="6.6" text-anchor="middle" fill="#000" font-weight="normal" stroke="#000" stroke-width="0.14" textLength="28.30" lengthAdjust="spacingAndGlyphs" >PAR4-AP(μM)</text>
<text transform="translate(69.90,128.20) rotate(-90)" font-size="6.6" text-anchor="middle" fill="#000" font-weight="normal" stroke="#000" stroke-width="0.14" textLength="49.00" lengthAdjust="spacingAndGlyphs" >P-selectin exposure(MFI)</text>
<path d="M90.40,148.16 L100.22,148.30 L110.03,142.30 L149.30,125.27" fill="none" stroke="#21457F" stroke-width="1.3" stroke-linejoin="round" stroke-linecap="round"/>
<circle cx="90.40" cy="148.16" r="1.26" fill="#21457F"/>
<circle cx="100.22" cy="148.30" r="1.26" fill="#21457F"/>
<line x1="110.03" y1="137.66" x2="110.03" y2="146.68" stroke="#21457F" stroke-width="0.75"/>
<line x1="109.13" y1="137.66" x2="110.93" y2="137.66" stroke="#21457F" stroke-width="0.6"/>
<line x1="109.13" y1="146.68" x2="110.93" y2="146.68" stroke="#21457F" stroke-width="0.6"/>
<circle cx="110.03" cy="142.30" r="1.26" fill="#21457F"/>
<circle cx="149.30" cy="125.27" r="1.26" fill="#21457F"/>
<path d="M90.40,148.16 L100.22,129.85 L110.03,120.08 L149.30,119.14" fill="none" stroke="#B3143F" stroke-width="1.3" stroke-linejoin="round" stroke-linecap="round"/>
<circle cx="90.40" cy="148.16" r="1.49" fill="#B3143F"/>
<line x1="100.22" y1="123.99" x2="100.22" y2="135.91" stroke="#B3143F" stroke-width="0.75"/>
<line x1="99.32" y1="123.99" x2="101.12" y2="123.99" stroke="#B3143F" stroke-width="0.6"/>
<line x1="99.32" y1="135.91" x2="101.12" y2="135.91" stroke="#B3143F" stroke-width="0.6"/>
<circle cx="100.22" cy="129.85" r="1.49" fill="#B3143F"/>
<line x1="110.03" y1="116.72" x2="110.03" y2="120.08" stroke="#B3143F" stroke-width="0.75"/>
<line x1="109.13" y1="116.72" x2="110.93" y2="116.72" stroke="#B3143F" stroke-width="0.6"/>
<line x1="109.13" y1="120.08" x2="110.93" y2="120.08" stroke="#B3143F" stroke-width="0.6"/>
<circle cx="110.03" cy="120.08" r="1.49" fill="#B3143F"/>
<line x1="149.30" y1="118.13" x2="149.30" y2="120.15" stroke="#B3143F" stroke-width="0.75"/>
<line x1="148.40" y1="118.13" x2="150.20" y2="118.13" stroke="#B3143F" stroke-width="0.6"/>
<line x1="148.40" y1="120.15" x2="150.20" y2="120.15" stroke="#B3143F" stroke-width="0.6"/>
<circle cx="149.30" cy="119.14" r="1.49" fill="#B3143F"/>
<text transform="translate(149.30,115.70)" font-size="3.3" text-anchor="middle" fill="#333" font-weight="normal" textLength="3.60" lengthAdjust="spacingAndGlyphs" >ns</text>
<text transform="translate(110.00,119.40)" font-size="4.2" text-anchor="middle" fill="#9bb" font-weight="normal" >*</text>
<text transform="translate(100.20,124.10)" font-size="4.2" text-anchor="middle" fill="#9bb" font-weight="normal" >*</text>
<text transform="translate(131.50,116.70)" font-size="3.6" text-anchor="middle" fill="#B3143F" font-weight="normal" textLength="12.50" lengthAdjust="spacingAndGlyphs" >GPR84-/-</text>
<text transform="translate(123.00,142.30)" font-size="3.6" text-anchor="middle" fill="#21457F" font-weight="normal" textLength="5.20" lengthAdjust="spacingAndGlyphs" >WT</text>
<line x1="194.70" y1="106.60" x2="194.70" y2="151.80" stroke="#000" stroke-width="1.15"/>
<line x1="194.23" y1="148.90" x2="253.80" y2="148.90" stroke="#000" stroke-width="1.15"/>
<line x1="191.60" y1="148.90" x2="194.70" y2="148.90" stroke="#000" stroke-width="1.0"/>
<text transform="translate(189.20,150.55)" font-size="4.6" text-anchor="end" fill="#222" stroke="#222" stroke-width="0.14" font-weight="normal" >0</text>
<line x1="191.60" y1="139.03" x2="194.70" y2="139.03" stroke="#000" stroke-width="1.0"/>
<text transform="translate(189.20,140.68)" font-size="4.6" text-anchor="end" fill="#222" stroke="#222" stroke-width="0.14" font-weight="normal" >100</text>
<line x1="191.60" y1="129.15" x2="194.70" y2="129.15" stroke="#000" stroke-width="1.0"/>
<text transform="translate(189.20,130.80)" font-size="4.6" text-anchor="end" fill="#222" stroke="#222" stroke-width="0.14" font-weight="normal" >200</text>
<line x1="191.60" y1="119.28" x2="194.70" y2="119.28" stroke="#000" stroke-width="1.0"/>
<text transform="translate(189.20,120.93)" font-size="4.6" text-anchor="end" fill="#222" stroke="#222" stroke-width="0.14" font-weight="normal" >300</text>
<line x1="191.60" y1="109.40" x2="194.70" y2="109.40" stroke="#000" stroke-width="1.0"/>
<text transform="translate(189.20,111.05)" font-size="4.6" text-anchor="end" fill="#222" stroke="#222" stroke-width="0.14" font-weight="normal" >400</text>
<line x1="194.70" y1="148.90" x2="194.70" y2="151.80" stroke="#000" stroke-width="1.0"/>
<text transform="translate(194.70,159.25)" font-size="4.6" text-anchor="middle" fill="#222" stroke="#222" stroke-width="0.14" font-weight="normal" >0</text>
<line x1="206.22" y1="148.90" x2="206.22" y2="151.80" stroke="#000" stroke-width="1.0"/>
<text transform="translate(206.22,159.25)" font-size="4.6" text-anchor="middle" fill="#222" stroke="#222" stroke-width="0.14" font-weight="normal" >2</text>
<line x1="217.74" y1="148.90" x2="217.74" y2="151.80" stroke="#000" stroke-width="1.0"/>
<text transform="translate(217.74,159.25)" font-size="4.6" text-anchor="middle" fill="#222" stroke="#222" stroke-width="0.14" font-weight="normal" >4</text>
<line x1="229.26" y1="148.90" x2="229.26" y2="151.80" stroke="#000" stroke-width="1.0"/>
<text transform="translate(229.26,159.25)" font-size="4.6" text-anchor="middle" fill="#222" stroke="#222" stroke-width="0.14" font-weight="normal" >6</text>
<line x1="240.78" y1="148.90" x2="240.78" y2="151.80" stroke="#000" stroke-width="1.0"/>
<text transform="translate(240.78,159.25)" font-size="4.6" text-anchor="middle" fill="#222" stroke="#222" stroke-width="0.14" font-weight="normal" >8</text>
<line x1="252.30" y1="148.90" x2="252.30" y2="151.80" stroke="#000" stroke-width="1.0"/>
<text transform="translate(252.30,159.25)" font-size="4.6" text-anchor="middle" fill="#222" stroke="#222" stroke-width="0.14" font-weight="normal" >10</text>
<text transform="translate(224.25,168.60)" font-size="6.6" text-anchor="middle" fill="#000" font-weight="normal" stroke="#000" stroke-width="0.14" textLength="26.00" lengthAdjust="spacingAndGlyphs" >U46619(μM)</text>
<text transform="translate(176.50,128.20) rotate(-90)" font-size="6.6" text-anchor="middle" fill="#000" font-weight="normal" stroke="#000" stroke-width="0.14" textLength="49.00" lengthAdjust="spacingAndGlyphs" >P-selectin exposure(MFI)</text>
<path d="M194.70,130.14 L200.46,128.26 L206.22,125.99 L223.50,126.98 L252.30,123.23" fill="none" stroke="#21457F" stroke-width="1.3" stroke-linejoin="round" stroke-linecap="round"/>
<line x1="194.70" y1="128.16" x2="194.70" y2="132.11" stroke="#21457F" stroke-width="0.75"/>
<line x1="193.80" y1="128.16" x2="195.60" y2="128.16" stroke="#21457F" stroke-width="0.6"/>
<line x1="193.80" y1="132.11" x2="195.60" y2="132.11" stroke="#21457F" stroke-width="0.6"/>
<circle cx="194.70" cy="130.14" r="1.44" fill="#21457F"/>
<line x1="200.46" y1="126.78" x2="200.46" y2="129.74" stroke="#21457F" stroke-width="0.75"/>
<line x1="199.56" y1="126.78" x2="201.36" y2="126.78" stroke="#21457F" stroke-width="0.6"/>
<line x1="199.56" y1="129.74" x2="201.36" y2="129.74" stroke="#21457F" stroke-width="0.6"/>
<circle cx="200.46" cy="128.26" r="1.44" fill="#21457F"/>
<line x1="206.22" y1="124.02" x2="206.22" y2="127.97" stroke="#21457F" stroke-width="0.75"/>
<line x1="205.32" y1="124.02" x2="207.12" y2="124.02" stroke="#21457F" stroke-width="0.6"/>
<line x1="205.32" y1="127.97" x2="207.12" y2="127.97" stroke="#21457F" stroke-width="0.6"/>
<circle cx="206.22" cy="125.99" r="1.44" fill="#21457F"/>
<line x1="223.50" y1="124.02" x2="223.50" y2="130.43" stroke="#21457F" stroke-width="0.75"/>
<line x1="222.60" y1="124.02" x2="224.40" y2="124.02" stroke="#21457F" stroke-width="0.6"/>
<line x1="222.60" y1="130.43" x2="224.40" y2="130.43" stroke="#21457F" stroke-width="0.6"/>
<circle cx="223.50" cy="126.98" r="1.44" fill="#21457F"/>
<line x1="252.30" y1="121.25" x2="252.30" y2="125.20" stroke="#21457F" stroke-width="0.75"/>
<line x1="251.40" y1="121.25" x2="253.20" y2="121.25" stroke="#21457F" stroke-width="0.6"/>
<line x1="251.40" y1="125.20" x2="253.20" y2="125.20" stroke="#21457F" stroke-width="0.6"/>
<circle cx="252.30" cy="123.23" r="1.44" fill="#21457F"/>
<path d="M194.70,129.64 L200.46,124.71 L206.22,125.20 L223.50,124.71 L252.30,122.44" fill="none" stroke="#B3143F" stroke-width="1.3" stroke-linejoin="round" stroke-linecap="round"/>
<line x1="194.70" y1="128.16" x2="194.70" y2="131.12" stroke="#B3143F" stroke-width="0.75"/>
<line x1="193.80" y1="128.16" x2="195.60" y2="128.16" stroke="#B3143F" stroke-width="0.6"/>
<line x1="193.80" y1="131.12" x2="195.60" y2="131.12" stroke="#B3143F" stroke-width="0.6"/>
<circle cx="194.70" cy="129.64" r="1.44" fill="#B3143F"/>
<line x1="200.46" y1="121.05" x2="200.46" y2="128.36" stroke="#B3143F" stroke-width="0.75"/>
<line x1="199.56" y1="121.05" x2="201.36" y2="121.05" stroke="#B3143F" stroke-width="0.6"/>
<line x1="199.56" y1="128.36" x2="201.36" y2="128.36" stroke="#B3143F" stroke-width="0.6"/>
<circle cx="200.46" cy="124.71" r="1.44" fill="#B3143F"/>
<line x1="206.22" y1="121.74" x2="206.22" y2="128.66" stroke="#B3143F" stroke-width="0.75"/>
<line x1="205.32" y1="121.74" x2="207.12" y2="121.74" stroke="#B3143F" stroke-width="0.6"/>
<line x1="205.32" y1="128.66" x2="207.12" y2="128.66" stroke="#B3143F" stroke-width="0.6"/>
<circle cx="206.22" cy="125.20" r="1.44" fill="#B3143F"/>
<line x1="223.50" y1="120.26" x2="223.50" y2="128.66" stroke="#B3143F" stroke-width="0.75"/>
<line x1="222.60" y1="120.26" x2="224.40" y2="120.26" stroke="#B3143F" stroke-width="0.6"/>
<line x1="222.60" y1="128.66" x2="224.40" y2="128.66" stroke="#B3143F" stroke-width="0.6"/>
<circle cx="223.50" cy="124.71" r="1.44" fill="#B3143F"/>
<line x1="252.30" y1="117.50" x2="252.30" y2="126.88" stroke="#B3143F" stroke-width="0.75"/>
<line x1="251.40" y1="117.50" x2="253.20" y2="117.50" stroke="#B3143F" stroke-width="0.6"/>
<line x1="251.40" y1="126.88" x2="253.20" y2="126.88" stroke="#B3143F" stroke-width="0.6"/>
<circle cx="252.30" cy="122.44" r="1.44" fill="#B3143F"/>
<text transform="translate(200.50,119.40)" font-size="3.3" text-anchor="middle" fill="#333" font-weight="normal" textLength="3.60" lengthAdjust="spacingAndGlyphs" >ns</text>
<text transform="translate(205.90,119.40)" font-size="3.3" text-anchor="middle" fill="#333" font-weight="normal" textLength="3.60" lengthAdjust="spacingAndGlyphs" >ns</text>
<text transform="translate(223.50,119.40)" font-size="3.3" text-anchor="middle" fill="#333" font-weight="normal" textLength="3.60" lengthAdjust="spacingAndGlyphs" >ns</text>
<text transform="translate(252.30,116.70)" font-size="3.3" text-anchor="middle" fill="#333" font-weight="normal" textLength="3.60" lengthAdjust="spacingAndGlyphs" >ns</text>
<text transform="translate(239.20,120.10)" font-size="3.6" text-anchor="middle" fill="#B3143F" font-weight="normal" textLength="12.50" lengthAdjust="spacingAndGlyphs" >GPR84-/-</text>
<text transform="translate(232.50,131.80)" font-size="3.6" text-anchor="middle" fill="#21457F" font-weight="normal" textLength="5.20" lengthAdjust="spacingAndGlyphs" >WT</text>
<line x1="292.00" y1="107.00" x2="292.00" y2="151.80" stroke="#000" stroke-width="1.15"/>
<line x1="291.53" y1="148.90" x2="349.90" y2="148.90" stroke="#000" stroke-width="1.15"/>
<line x1="288.90" y1="148.90" x2="292.00" y2="148.90" stroke="#000" stroke-width="1.0"/>
<text transform="translate(286.50,150.55)" font-size="4.6" text-anchor="end" fill="#222" stroke="#222" stroke-width="0.14" font-weight="normal" >0</text>
<line x1="288.90" y1="139.12" x2="292.00" y2="139.12" stroke="#000" stroke-width="1.0"/>
<text transform="translate(286.50,140.78)" font-size="4.6" text-anchor="end" fill="#222" stroke="#222" stroke-width="0.14" font-weight="normal" >100</text>
<line x1="288.90" y1="129.35" x2="292.00" y2="129.35" stroke="#000" stroke-width="1.0"/>
<text transform="translate(286.50,131.00)" font-size="4.6" text-anchor="end" fill="#222" stroke="#222" stroke-width="0.14" font-weight="normal" >200</text>
<line x1="288.90" y1="119.58" x2="292.00" y2="119.58" stroke="#000" stroke-width="1.0"/>
<text transform="translate(286.50,121.23)" font-size="4.6" text-anchor="end" fill="#222" stroke="#222" stroke-width="0.14" font-weight="normal" >300</text>
<line x1="288.90" y1="109.80" x2="292.00" y2="109.80" stroke="#000" stroke-width="1.0"/>
<text transform="translate(286.50,111.45)" font-size="4.6" text-anchor="end" fill="#222" stroke="#222" stroke-width="0.14" font-weight="normal" >400</text>
<line x1="292.00" y1="148.90" x2="292.00" y2="151.80" stroke="#000" stroke-width="1.0"/>
<text transform="translate(292.00,159.25)" font-size="4.6" text-anchor="middle" fill="#222" stroke="#222" stroke-width="0.14" font-weight="normal" >0</text>
<line x1="306.10" y1="148.90" x2="306.10" y2="151.80" stroke="#000" stroke-width="1.0"/>
<text transform="translate(306.10,159.25)" font-size="4.6" text-anchor="middle" fill="#222" stroke="#222" stroke-width="0.14" font-weight="normal" >5</text>
<line x1="320.20" y1="148.90" x2="320.20" y2="151.80" stroke="#000" stroke-width="1.0"/>
<text transform="translate(320.20,159.25)" font-size="4.6" text-anchor="middle" fill="#222" stroke="#222" stroke-width="0.14" font-weight="normal" >10</text>
<line x1="334.30" y1="148.90" x2="334.30" y2="151.80" stroke="#000" stroke-width="1.0"/>
<text transform="translate(334.30,159.25)" font-size="4.6" text-anchor="middle" fill="#222" stroke="#222" stroke-width="0.14" font-weight="normal" >15</text>
<line x1="348.40" y1="148.90" x2="348.40" y2="151.80" stroke="#000" stroke-width="1.0"/>
<text transform="translate(348.40,159.25)" font-size="4.6" text-anchor="middle" fill="#222" stroke="#222" stroke-width="0.14" font-weight="normal" >20</text>
<text transform="translate(320.95,168.60)" font-size="6.6" text-anchor="middle" fill="#000" font-weight="normal" stroke="#000" stroke-width="0.14" textLength="19.70" lengthAdjust="spacingAndGlyphs" >ADP(μM)</text>
<text transform="translate(273.50,128.20) rotate(-90)" font-size="6.6" text-anchor="middle" fill="#000" font-weight="normal" stroke="#000" stroke-width="0.14" textLength="49.00" lengthAdjust="spacingAndGlyphs" >P-selectin exposure(MFI)</text>
<path d="M292.00,129.84 L297.64,127.49 L306.10,128.76 L320.20,127.49 L348.40,128.67" fill="none" stroke="#21457F" stroke-width="1.3" stroke-linejoin="round" stroke-linecap="round"/>
<line x1="292.00" y1="128.86" x2="292.00" y2="130.82" stroke="#21457F" stroke-width="0.75"/>
<line x1="291.10" y1="128.86" x2="292.90" y2="128.86" stroke="#21457F" stroke-width="0.6"/>
<line x1="291.10" y1="130.82" x2="292.90" y2="130.82" stroke="#21457F" stroke-width="0.6"/>
<circle cx="292.00" cy="129.84" r="1.44" fill="#21457F"/>
<line x1="297.64" y1="126.52" x2="297.64" y2="128.47" stroke="#21457F" stroke-width="0.75"/>
<line x1="296.74" y1="126.52" x2="298.54" y2="126.52" stroke="#21457F" stroke-width="0.6"/>
<line x1="296.74" y1="128.47" x2="298.54" y2="128.47" stroke="#21457F" stroke-width="0.6"/>
<circle cx="297.64" cy="127.49" r="1.44" fill="#21457F"/>
<line x1="306.10" y1="127.98" x2="306.10" y2="129.55" stroke="#21457F" stroke-width="0.75"/>
<line x1="305.20" y1="127.98" x2="307.00" y2="127.98" stroke="#21457F" stroke-width="0.6"/>
<line x1="305.20" y1="129.55" x2="307.00" y2="129.55" stroke="#21457F" stroke-width="0.6"/>
<circle cx="306.10" cy="128.76" r="1.44" fill="#21457F"/>
<line x1="320.20" y1="126.52" x2="320.20" y2="128.47" stroke="#21457F" stroke-width="0.75"/>
<line x1="319.30" y1="126.52" x2="321.10" y2="126.52" stroke="#21457F" stroke-width="0.6"/>
<line x1="319.30" y1="128.47" x2="321.10" y2="128.47" stroke="#21457F" stroke-width="0.6"/>
<circle cx="320.20" cy="127.49" r="1.44" fill="#21457F"/>
<line x1="348.40" y1="127.88" x2="348.40" y2="129.45" stroke="#21457F" stroke-width="0.75"/>
<line x1="347.50" y1="127.88" x2="349.30" y2="127.88" stroke="#21457F" stroke-width="0.6"/>
<line x1="347.50" y1="129.45" x2="349.30" y2="129.45" stroke="#21457F" stroke-width="0.6"/>
<circle cx="348.40" cy="128.67" r="1.44" fill="#21457F"/>
<path d="M292.00,129.74 L297.64,125.44 L306.10,121.04 L320.20,127.98 L348.40,124.46" fill="none" stroke="#B3143F" stroke-width="1.3" stroke-linejoin="round" stroke-linecap="round"/>
<line x1="292.00" y1="127.79" x2="292.00" y2="131.70" stroke="#B3143F" stroke-width="0.75"/>
<line x1="291.10" y1="127.79" x2="292.90" y2="127.79" stroke="#B3143F" stroke-width="0.6"/>
<line x1="291.10" y1="131.70" x2="292.90" y2="131.70" stroke="#B3143F" stroke-width="0.6"/>
<circle cx="292.00" cy="129.74" r="1.44" fill="#B3143F"/>
<line x1="297.64" y1="123.48" x2="297.64" y2="127.39" stroke="#B3143F" stroke-width="0.75"/>
<line x1="296.74" y1="123.48" x2="298.54" y2="123.48" stroke="#B3143F" stroke-width="0.6"/>
<line x1="296.74" y1="127.39" x2="298.54" y2="127.39" stroke="#B3143F" stroke-width="0.6"/>
<circle cx="297.64" cy="125.44" r="1.44" fill="#B3143F"/>
<line x1="306.10" y1="114.20" x2="306.10" y2="127.59" stroke="#B3143F" stroke-width="0.75"/>
<line x1="305.20" y1="114.20" x2="307.00" y2="114.20" stroke="#B3143F" stroke-width="0.6"/>
<line x1="305.20" y1="127.59" x2="307.00" y2="127.59" stroke="#B3143F" stroke-width="0.6"/>
<circle cx="306.10" cy="121.04" r="1.44" fill="#B3143F"/>
<line x1="320.20" y1="126.81" x2="320.20" y2="129.15" stroke="#B3143F" stroke-width="0.75"/>
<line x1="319.30" y1="126.81" x2="321.10" y2="126.81" stroke="#B3143F" stroke-width="0.6"/>
<line x1="319.30" y1="129.15" x2="321.10" y2="129.15" stroke="#B3143F" stroke-width="0.6"/>
<circle cx="320.20" cy="127.98" r="1.44" fill="#B3143F"/>
<line x1="348.40" y1="121.53" x2="348.40" y2="126.81" stroke="#B3143F" stroke-width="0.75"/>
<line x1="347.50" y1="121.53" x2="349.30" y2="121.53" stroke="#B3143F" stroke-width="0.6"/>
<line x1="347.50" y1="126.81" x2="349.30" y2="126.81" stroke="#B3143F" stroke-width="0.6"/>
<circle cx="348.40" cy="124.46" r="1.44" fill="#B3143F"/>
<text transform="translate(297.60,121.80)" font-size="3.3" text-anchor="middle" fill="#333" font-weight="normal" textLength="3.60" lengthAdjust="spacingAndGlyphs" >ns</text>
<text transform="translate(305.90,113.00)" font-size="3.3" text-anchor="middle" fill="#333" font-weight="normal" textLength="3.60" lengthAdjust="spacingAndGlyphs" >ns</text>
<text transform="translate(320.10,124.50)" font-size="3.3" text-anchor="middle" fill="#333" font-weight="normal" textLength="3.60" lengthAdjust="spacingAndGlyphs" >ns</text>
<text transform="translate(348.40,120.20)" font-size="3.3" text-anchor="middle" fill="#333" font-weight="normal" textLength="3.60" lengthAdjust="spacingAndGlyphs" >ns</text>
<text transform="translate(335.60,120.50)" font-size="3.6" text-anchor="middle" fill="#B3143F" font-weight="normal" textLength="12.50" lengthAdjust="spacingAndGlyphs" >GPR84-/-</text>
<text transform="translate(326.10,134.50)" font-size="3.6" text-anchor="middle" fill="#21457F" font-weight="normal" textLength="5.20" lengthAdjust="spacingAndGlyphs" >WT</text>
<line x1="391.90" y1="107.00" x2="391.90" y2="151.80" stroke="#000" stroke-width="1.15"/>
<line x1="391.43" y1="148.90" x2="452.70" y2="148.90" stroke="#000" stroke-width="1.15"/>
<line x1="388.80" y1="148.90" x2="391.90" y2="148.90" stroke="#000" stroke-width="1.0"/>
<text transform="translate(386.40,150.55)" font-size="4.6" text-anchor="end" fill="#222" stroke="#222" stroke-width="0.14" font-weight="normal" >0</text>
<line x1="388.80" y1="139.05" x2="391.90" y2="139.05" stroke="#000" stroke-width="1.0"/>
<text transform="translate(386.40,140.70)" font-size="4.6" text-anchor="end" fill="#222" stroke="#222" stroke-width="0.14" font-weight="normal" >500</text>
<line x1="388.80" y1="129.20" x2="391.90" y2="129.20" stroke="#000" stroke-width="1.0"/>
<text transform="translate(386.40,130.85)" font-size="4.6" text-anchor="end" fill="#222" stroke="#222" stroke-width="0.14" font-weight="normal" >1000</text>
<line x1="388.80" y1="119.35" x2="391.90" y2="119.35" stroke="#000" stroke-width="1.0"/>
<text transform="translate(386.40,121.00)" font-size="4.6" text-anchor="end" fill="#222" stroke="#222" stroke-width="0.14" font-weight="normal" >1500</text>
<line x1="388.80" y1="109.50" x2="391.90" y2="109.50" stroke="#000" stroke-width="1.0"/>
<text transform="translate(386.40,111.15)" font-size="4.6" text-anchor="end" fill="#222" stroke="#222" stroke-width="0.14" font-weight="normal" >2000</text>
<line x1="391.90" y1="148.90" x2="391.90" y2="151.80" stroke="#000" stroke-width="1.0"/>
<text transform="translate(391.90,159.25)" font-size="4.6" text-anchor="middle" fill="#222" stroke="#222" stroke-width="0.14" font-weight="normal" >0</text>
<line x1="403.74" y1="148.90" x2="403.74" y2="151.80" stroke="#000" stroke-width="1.0"/>
<text transform="translate(403.74,159.25)" font-size="4.6" text-anchor="middle" fill="#222" stroke="#222" stroke-width="0.14" font-weight="normal" >20</text>
<line x1="415.58" y1="148.90" x2="415.58" y2="151.80" stroke="#000" stroke-width="1.0"/>
<text transform="translate(415.58,159.25)" font-size="4.6" text-anchor="middle" fill="#222" stroke="#222" stroke-width="0.14" font-weight="normal" >40</text>
<line x1="427.42" y1="148.90" x2="427.42" y2="151.80" stroke="#000" stroke-width="1.0"/>
<text transform="translate(427.42,159.25)" font-size="4.6" text-anchor="middle" fill="#222" stroke="#222" stroke-width="0.14" font-weight="normal" >60</text>
<line x1="439.26" y1="148.90" x2="439.26" y2="151.80" stroke="#000" stroke-width="1.0"/>
<text transform="translate(439.26,159.25)" font-size="4.6" text-anchor="middle" fill="#222" stroke="#222" stroke-width="0.14" font-weight="normal" >80</text>
<line x1="451.10" y1="148.90" x2="451.10" y2="151.80" stroke="#000" stroke-width="1.0"/>
<text transform="translate(451.10,159.25)" font-size="4.6" text-anchor="middle" fill="#222" stroke="#222" stroke-width="0.14" font-weight="normal" >100</text>
<text transform="translate(422.30,168.80)" font-size="6.6" text-anchor="middle" fill="#000" font-weight="normal" stroke="#000" stroke-width="0.14" textLength="33.00" lengthAdjust="spacingAndGlyphs" >Convulxin(ng/ml)</text>
<text transform="translate(372.00,128.20) rotate(-90)" font-size="6.6" text-anchor="middle" fill="#000" font-weight="normal" stroke="#000" stroke-width="0.14" textLength="49.00" lengthAdjust="spacingAndGlyphs" >P-selectin exposure(MFI)</text>
<path d="M391.90,145.06 L397.82,144.47 L451.10,127.23" fill="none" stroke="#21457F" stroke-width="1.3" stroke-linejoin="round" stroke-linecap="round"/>
<circle cx="391.90" cy="145.06" r="1.03" fill="#21457F"/>
<circle cx="397.82" cy="144.47" r="1.03" fill="#21457F"/>
<line x1="451.10" y1="127.23" x2="451.10" y2="132.16" stroke="#21457F" stroke-width="0.75"/>
<line x1="450.20" y1="127.23" x2="452.00" y2="127.23" stroke="#21457F" stroke-width="0.6"/>
<line x1="450.20" y1="132.16" x2="452.00" y2="132.16" stroke="#21457F" stroke-width="0.6"/>
<circle cx="451.10" cy="127.23" r="1.03" fill="#21457F"/>
<path d="M391.90,144.76 L397.82,144.17 L451.10,120.14" fill="none" stroke="#B3143F" stroke-width="1.3" stroke-linejoin="round" stroke-linecap="round"/>
<circle cx="391.90" cy="144.76" r="1.03" fill="#B3143F"/>
<circle cx="397.82" cy="144.17" r="1.03" fill="#B3143F"/>
<line x1="451.10" y1="112.06" x2="451.10" y2="128.02" stroke="#B3143F" stroke-width="0.75"/>
<line x1="450.20" y1="112.06" x2="452.00" y2="112.06" stroke="#B3143F" stroke-width="0.6"/>
<line x1="450.20" y1="128.02" x2="452.00" y2="128.02" stroke="#B3143F" stroke-width="0.6"/>
<circle cx="451.10" cy="120.14" r="1.03" fill="#B3143F"/>
<text transform="translate(398.00,140.80)" font-size="3.3" text-anchor="middle" fill="#333" font-weight="normal" textLength="3.60" lengthAdjust="spacingAndGlyphs" >ns</text>
<text transform="translate(451.10,110.80)" font-size="3.3" text-anchor="middle" fill="#333" font-weight="normal" textLength="3.60" lengthAdjust="spacingAndGlyphs" >ns</text>
<text transform="translate(423.20,125.60)" font-size="3.6" text-anchor="middle" fill="#B3143F" font-weight="normal" textLength="12.50" lengthAdjust="spacingAndGlyphs" >GPR84-/-</text>
<text transform="translate(427.50,141.90)" font-size="3.6" text-anchor="middle" fill="#21457F" font-weight="normal" textLength="5.20" lengthAdjust="spacingAndGlyphs" >WT</text>
<text transform="translate(7.60,191.30)" font-size="11.2" text-anchor="start" fill="#000" font-weight="bold" stroke="#000" stroke-width="0.45">B</text>
<text transform="translate(242.20,200.10)" font-size="8.2" text-anchor="start" fill="#111" font-weight="normal" textLength="43.80" lengthAdjust="spacingAndGlyphs" >Aggregation</text>
<line x1="38.50" y1="217.60" x2="38.50" y2="268.06" stroke="#000" stroke-width="1.15"/>
<line x1="38.03" y1="257.30" x2="88.30" y2="257.30" stroke="#000" stroke-width="1.15"/>
<line x1="35.30" y1="264.76" x2="38.50" y2="264.76" stroke="#000" stroke-width="1.0"/>
<text transform="translate(32.50,266.36)" font-size="4.6" text-anchor="end" fill="#1a1a1a" stroke="#1a1a1a" stroke-width="0.18" font-weight="normal" >-20</text>
<line x1="35.30" y1="257.30" x2="38.50" y2="257.30" stroke="#000" stroke-width="1.0"/>
<text transform="translate(32.50,258.90)" font-size="4.6" text-anchor="end" fill="#1a1a1a" stroke="#1a1a1a" stroke-width="0.18" font-weight="normal" >0</text>
<line x1="35.30" y1="249.84" x2="38.50" y2="249.84" stroke="#000" stroke-width="1.0"/>
<text transform="translate(32.50,251.44)" font-size="4.6" text-anchor="end" fill="#1a1a1a" stroke="#1a1a1a" stroke-width="0.18" font-weight="normal" >20</text>
<line x1="35.30" y1="242.38" x2="38.50" y2="242.38" stroke="#000" stroke-width="1.0"/>
<text transform="translate(32.50,243.98)" font-size="4.6" text-anchor="end" fill="#1a1a1a" stroke="#1a1a1a" stroke-width="0.18" font-weight="normal" >40</text>
<line x1="35.30" y1="234.92" x2="38.50" y2="234.92" stroke="#000" stroke-width="1.0"/>
<text transform="translate(32.50,236.52)" font-size="4.6" text-anchor="end" fill="#1a1a1a" stroke="#1a1a1a" stroke-width="0.18" font-weight="normal" >60</text>
<line x1="35.30" y1="227.46" x2="38.50" y2="227.46" stroke="#000" stroke-width="1.0"/>
<text transform="translate(32.50,229.06)" font-size="4.6" text-anchor="end" fill="#1a1a1a" stroke="#1a1a1a" stroke-width="0.18" font-weight="normal" >80</text>
<line x1="35.30" y1="220.00" x2="38.50" y2="220.00" stroke="#000" stroke-width="1.0"/>
<text transform="translate(32.50,221.60)" font-size="4.6" text-anchor="end" fill="#1a1a1a" stroke="#1a1a1a" stroke-width="0.18" font-weight="normal" >100</text>
<line x1="53.85" y1="257.30" x2="53.85" y2="260.00" stroke="#000" stroke-width="1.0"/>
<text transform="translate(53.85,267.16)" font-size="4.6" text-anchor="middle" fill="#1a1a1a" stroke="#1a1a1a" stroke-width="0.18" font-weight="normal" >200</text>
<line x1="69.20" y1="257.30" x2="69.20" y2="260.00" stroke="#000" stroke-width="1.0"/>
<text transform="translate(69.20,267.16)" font-size="4.6" text-anchor="middle" fill="#1a1a1a" stroke="#1a1a1a" stroke-width="0.18" font-weight="normal" >400</text>
<line x1="84.55" y1="257.30" x2="84.55" y2="260.00" stroke="#000" stroke-width="1.0"/>
<text transform="translate(84.55,267.16)" font-size="4.6" text-anchor="middle" fill="#1a1a1a" stroke="#1a1a1a" stroke-width="0.18" font-weight="normal" >600</text>
<text transform="translate(63.00,213.30)" font-size="6.6" text-anchor="middle" fill="#111" font-weight="normal" textLength="45.50" lengthAdjust="spacingAndGlyphs" stroke="#111" stroke-width="0.1">PAR4-AP(50μM)</text>
<text transform="translate(62.90,276.16)" font-size="6.2" text-anchor="middle" fill="#000" font-weight="normal" textLength="14.30" lengthAdjust="spacingAndGlyphs" stroke="#000" stroke-width="0.22">Time(s)</text>
<text transform="translate(19.90,242.68) rotate(-90)" font-size="5.9" text-anchor="middle" fill="#000" font-weight="normal" textLength="40.50" lengthAdjust="spacingAndGlyphs" stroke="#000" stroke-width="0.1">Light transmission(%)</text>
<path d="M38.50,257.75 L38.79,257.77 L39.08,257.64 L39.37,257.73 L39.66,257.30 L39.95,256.42 L40.24,255.31 L40.53,254.76 L40.82,257.11 L41.11,257.89 L41.40,258.23 L41.69,258.33 L41.98,258.25 L42.27,258.10 L42.56,258.25 L42.85,258.17 L43.14,258.04 L43.43,257.94 L43.72,258.06 L44.00,258.11 L44.29,257.94 L44.58,258.22 L44.87,257.97 L45.16,258.14 L45.45,258.18 L45.74,258.18 L46.03,258.12 L46.32,257.96 L46.61,258.15 L46.90,258.02 L47.19,258.00 L47.48,258.07 L47.77,258.01 L48.06,258.15 L48.35,258.14 L48.64,258.09 L48.93,257.94 L49.22,258.01 L49.51,258.03 L49.80,257.94 L50.09,257.97 L50.38,258.01 L50.67,257.85 L50.96,257.88 L51.25,258.00 L51.54,257.90 L51.83,257.91 L52.12,257.80 L52.41,257.83 L52.70,257.96 L52.99,257.75 L53.28,258.00 L53.57,257.91 L53.86,257.81 L54.15,257.99 L54.44,257.89 L54.72,258.02 L55.01,257.83 L55.30,257.80 L55.59,257.86 L55.88,257.77 L56.17,257.93 L56.46,257.82 L56.75,257.85 L57.04,257.85 L57.33,257.89 L57.62,257.77 L57.91,257.74 L58.20,257.88 L58.49,257.82 L58.78,258.00 L59.07,257.81 L59.36,257.83 L59.65,257.72 L59.94,257.77 L60.23,257.93 L60.52,257.90 L60.81,257.82 L61.10,258.01 L61.39,257.88 L61.68,257.97 L61.97,257.98 L62.26,258.00 L62.55,257.79 L62.84,257.98 L63.13,257.94 L63.42,257.90 L63.71,257.76 L64.00,257.99 L64.29,257.88 L64.58,257.85 L64.87,257.75 L65.16,257.77 L65.45,257.76 L65.73,257.93 L66.02,257.89 L66.31,257.91 L66.60,257.75 L66.89,257.73 L67.18,257.97 L67.47,257.96 L67.76,257.95 L68.05,257.95 L68.34,257.87 L68.63,257.84 L68.92,257.94 L69.21,258.02 L69.50,257.89 L69.79,257.91 L70.08,257.85 L70.37,257.74 L70.66,257.81 L70.95,257.87 L71.24,257.84 L71.53,257.82 L71.82,258.01 L72.11,257.75 L72.40,257.79 L72.69,257.76 L72.98,257.79 L73.27,257.91 L73.56,257.90 L73.85,257.99 L74.14,257.84 L74.43,258.01 L74.72,258.01 L75.01,257.96 L75.30,257.98 L75.59,257.93 L75.88,258.01 L76.17,258.03 L76.45,257.98 L76.74,258.00 L77.03,257.92 L77.32,258.02 L77.61,257.77 L77.90,257.85 L78.19,257.99 L78.48,257.96 L78.77,257.93 L79.06,257.92 L79.35,258.00 L79.64,257.78 L79.93,257.74 L80.22,257.89 L80.51,257.89 L80.80,258.01 L81.09,258.00 L81.38,257.93 L81.67,257.96 L81.96,257.79 L82.25,257.99 L82.54,258.03 L82.83,257.75 L83.12,257.88 L83.41,257.99 L83.70,257.87 L83.99,258.03 L84.28,257.88 L84.57,257.74 L84.86,257.78" fill="none" stroke="#21457F" stroke-width="1.25" stroke-linejoin="round" stroke-linecap="round"/>
<path d="M38.50,258.07 L38.89,258.13 L39.27,258.22 L39.66,258.31 L40.05,258.41 L40.43,258.49 L40.82,258.54 L41.20,258.55 L41.59,258.50 L41.98,258.39 L42.36,258.27 L42.75,258.13 L43.14,257.97 L43.52,257.79 L43.91,257.58 L44.29,257.33 L44.68,257.04 L45.07,256.71 L45.45,256.32 L45.84,255.87 L46.23,255.34 L46.61,254.72 L47.00,254.02 L47.39,253.25 L47.77,252.43 L48.16,251.58 L48.54,250.71 L48.93,249.83 L49.32,248.96 L49.70,248.03 L50.09,247.04 L50.48,246.01 L50.86,244.96 L51.25,243.93 L51.63,242.93 L52.02,242.01 L52.41,241.18 L52.79,240.46 L53.18,239.77 L53.57,239.13 L53.95,238.51 L54.34,237.94 L54.72,237.40 L55.11,236.90 L55.50,236.43 L55.88,236.01 L56.27,235.63 L56.66,235.28 L57.04,234.98 L57.43,234.70 L57.82,234.45 L58.20,234.23 L58.59,234.03 L58.97,233.85 L59.36,233.69 L59.75,233.55 L60.13,233.42 L60.52,233.30 L60.91,233.19 L61.29,233.08 L61.68,232.98 L62.06,232.87 L62.45,232.78 L62.84,232.68 L63.22,232.60 L63.61,232.52 L64.00,232.44 L64.38,232.37 L64.77,232.30 L65.16,232.24 L65.54,232.19 L65.93,232.13 L66.31,232.09 L66.70,232.04 L67.09,232.00 L67.47,231.96 L67.86,231.93 L68.25,231.89 L68.63,231.86 L69.02,231.84 L69.40,231.81 L69.79,231.79 L70.18,231.76 L70.56,231.74 L70.95,231.73 L71.34,231.71 L71.72,231.69 L72.11,231.68 L72.50,231.67 L72.88,231.66 L73.27,231.65 L73.65,231.64 L74.04,231.63 L74.43,231.62 L74.81,231.62 L75.20,231.61 L75.59,231.61 L75.97,231.61 L76.36,231.60 L76.74,231.60 L77.13,231.60 L77.52,231.60 L77.90,231.60 L78.29,231.60 L78.68,231.60 L79.06,231.60 L79.45,231.60 L79.83,231.60 L80.22,231.60 L80.61,231.60 L80.99,231.61 L81.38,231.61 L81.77,231.61 L82.15,231.61 L82.54,231.61 L82.93,231.60 L83.31,231.60 L83.70,231.60 L84.08,231.60 L84.47,231.59 L84.86,231.59" fill="none" stroke="#B3143F" stroke-width="1.35" stroke-linejoin="round" stroke-linecap="round"/>
<text transform="translate(63.30,229.70)" font-size="3.6" text-anchor="middle" fill="#B3143F" font-weight="normal" textLength="12.50" lengthAdjust="spacingAndGlyphs" >GPR84-/-</text>
<text transform="translate(66.70,255.30)" font-size="3.6" text-anchor="middle" fill="#21457F" font-weight="normal" textLength="5.20" lengthAdjust="spacingAndGlyphs" >WT</text>
<line x1="123.40" y1="217.60" x2="123.40" y2="268.06" stroke="#000" stroke-width="1.15"/>
<line x1="122.93" y1="257.30" x2="173.00" y2="257.30" stroke="#000" stroke-width="1.15"/>
<line x1="120.20" y1="264.76" x2="123.40" y2="264.76" stroke="#000" stroke-width="1.0"/>
<text transform="translate(117.40,266.36)" font-size="4.6" text-anchor="end" fill="#1a1a1a" stroke="#1a1a1a" stroke-width="0.18" font-weight="normal" >-20</text>
<line x1="120.20" y1="257.30" x2="123.40" y2="257.30" stroke="#000" stroke-width="1.0"/>
<text transform="translate(117.40,258.90)" font-size="4.6" text-anchor="end" fill="#1a1a1a" stroke="#1a1a1a" stroke-width="0.18" font-weight="normal" >0</text>
<line x1="120.20" y1="249.84" x2="123.40" y2="249.84" stroke="#000" stroke-width="1.0"/>
<text transform="translate(117.40,251.44)" font-size="4.6" text-anchor="end" fill="#1a1a1a" stroke="#1a1a1a" stroke-width="0.18" font-weight="normal" >20</text>
<line x1="120.20" y1="242.38" x2="123.40" y2="242.38" stroke="#000" stroke-width="1.0"/>
<text transform="translate(117.40,243.98)" font-size="4.6" text-anchor="end" fill="#1a1a1a" stroke="#1a1a1a" stroke-width="0.18" font-weight="normal" >40</text>
<line x1="120.20" y1="234.92" x2="123.40" y2="234.92" stroke="#000" stroke-width="1.0"/>
<text transform="translate(117.40,236.52)" font-size="4.6" text-anchor="end" fill="#1a1a1a" stroke="#1a1a1a" stroke-width="0.18" font-weight="normal" >60</text>
<line x1="120.20" y1="227.46" x2="123.40" y2="227.46" stroke="#000" stroke-width="1.0"/>
<text transform="translate(117.40,229.06)" font-size="4.6" text-anchor="end" fill="#1a1a1a" stroke="#1a1a1a" stroke-width="0.18" font-weight="normal" >80</text>
<line x1="120.20" y1="220.00" x2="123.40" y2="220.00" stroke="#000" stroke-width="1.0"/>
<text transform="translate(117.40,221.60)" font-size="4.6" text-anchor="end" fill="#1a1a1a" stroke="#1a1a1a" stroke-width="0.18" font-weight="normal" >100</text>
<line x1="138.80" y1="257.30" x2="138.80" y2="260.00" stroke="#000" stroke-width="1.0"/>
<text transform="translate(138.80,267.16)" font-size="4.6" text-anchor="middle" fill="#1a1a1a" stroke="#1a1a1a" stroke-width="0.18" font-weight="normal" >200</text>
<line x1="154.20" y1="257.30" x2="154.20" y2="260.00" stroke="#000" stroke-width="1.0"/>
<text transform="translate(154.20,267.16)" font-size="4.6" text-anchor="middle" fill="#1a1a1a" stroke="#1a1a1a" stroke-width="0.18" font-weight="normal" >400</text>
<line x1="169.60" y1="257.30" x2="169.60" y2="260.00" stroke="#000" stroke-width="1.0"/>
<text transform="translate(169.60,267.16)" font-size="4.6" text-anchor="middle" fill="#1a1a1a" stroke="#1a1a1a" stroke-width="0.18" font-weight="normal" >600</text>
<text transform="translate(148.10,213.30)" font-size="6.6" text-anchor="middle" fill="#111" font-weight="normal" textLength="45.20" lengthAdjust="spacingAndGlyphs" stroke="#111" stroke-width="0.1">PAR4-AP(75μM)</text>
<text transform="translate(147.70,276.16)" font-size="6.2" text-anchor="middle" fill="#000" font-weight="normal" textLength="14.30" lengthAdjust="spacingAndGlyphs" stroke="#000" stroke-width="0.22">Time(s)</text>
<text transform="translate(104.80,242.68) rotate(-90)" font-size="5.9" text-anchor="middle" fill="#000" font-weight="normal" textLength="40.50" lengthAdjust="spacingAndGlyphs" stroke="#000" stroke-width="0.1">Light transmission(%)</text>
<path d="M123.40,257.70 L123.79,257.52 L124.18,257.34 L124.56,256.94 L124.95,255.73 L125.34,254.72 L125.73,255.89 L126.11,257.75 L126.50,258.69 L126.89,259.43 L127.28,259.87 L127.66,260.01 L128.05,260.06 L128.44,260.05 L128.83,260.00 L129.21,259.90 L129.60,259.77 L129.99,259.60 L130.38,259.41 L130.76,259.21 L131.15,258.99 L131.54,258.76 L131.93,258.52 L132.31,258.27 L132.70,258.01 L133.09,257.74 L133.48,257.45 L133.86,257.15 L134.25,256.84 L134.64,256.52 L135.03,256.18 L135.41,255.83 L135.80,255.46 L136.19,255.08 L136.58,254.68 L136.96,254.26 L137.35,253.82 L137.74,253.36 L138.13,252.89 L138.52,252.40 L138.90,251.91 L139.29,251.40 L139.68,250.89 L140.07,250.38 L140.45,249.86 L140.84,249.34 L141.23,248.83 L141.62,248.32 L142.00,247.80 L142.39,247.26 L142.78,246.71 L143.17,246.15 L143.55,245.59 L143.94,245.02 L144.33,244.46 L144.72,243.90 L145.10,243.34 L145.49,242.80 L145.88,242.28 L146.27,241.77 L146.65,241.28 L147.04,240.82 L147.43,240.37 L147.82,239.93 L148.20,239.49 L148.59,239.06 L148.98,238.64 L149.37,238.23 L149.75,237.84 L150.14,237.47 L150.53,237.13 L150.92,236.80 L151.30,236.50 L151.69,236.23 L152.08,235.99 L152.47,235.78 L152.86,235.59 L153.24,235.42 L153.63,235.27 L154.02,235.13 L154.41,235.01 L154.79,234.90 L155.18,234.81 L155.57,234.73 L155.96,234.66 L156.34,234.60 L156.73,234.55 L157.12,234.51 L157.51,234.47 L157.89,234.44 L158.28,234.42 L158.67,234.40 L159.06,234.39 L159.44,234.38 L159.83,234.38 L160.22,234.38 L160.61,234.39 L160.99,234.40 L161.38,234.42 L161.77,234.44 L162.16,234.46 L162.54,234.49 L162.93,234.53 L163.32,234.56 L163.71,234.60 L164.09,234.65 L164.48,234.69 L164.87,234.74 L165.26,234.78 L165.64,234.83 L166.03,234.88 L166.42,234.93 L166.81,234.98 L167.20,235.02 L167.58,235.07 L167.97,235.12 L168.36,235.16 L168.75,235.21 L169.13,235.25 L169.52,235.28 L169.91,235.32" fill="none" stroke="#21457F" stroke-width="1.25" stroke-linejoin="round" stroke-linecap="round"/>
<path d="M123.40,257.70 L123.79,257.10 L124.18,256.62 L124.56,256.70 L124.95,257.16 L125.34,257.70 L125.73,258.08 L126.11,258.31 L126.50,258.49 L126.89,258.57 L127.28,258.51 L127.66,258.30 L128.05,258.01 L128.44,257.49 L128.83,256.59 L129.21,255.07 L129.60,252.87 L129.99,250.42 L130.38,248.12 L130.76,245.87 L131.15,243.63 L131.54,241.66 L131.93,240.16 L132.31,239.00 L132.70,238.11 L133.09,237.43 L133.48,236.89 L133.86,236.38 L134.25,235.90 L134.64,235.44 L135.03,235.01 L135.41,234.61 L135.80,234.24 L136.19,233.91 L136.58,233.62 L136.96,233.36 L137.35,233.15 L137.74,232.97 L138.13,232.81 L138.52,232.66 L138.90,232.52 L139.29,232.40 L139.68,232.28 L140.07,232.17 L140.45,232.07 L140.84,231.97 L141.23,231.88 L141.62,231.80 L142.00,231.73 L142.39,231.66 L142.78,231.60 L143.17,231.53 L143.55,231.48 L143.94,231.42 L144.33,231.37 L144.72,231.32 L145.10,231.27 L145.49,231.22 L145.88,231.17 L146.27,231.12 L146.65,231.07 L147.04,231.02 L147.43,230.97 L147.82,230.92 L148.20,230.87 L148.59,230.82 L148.98,230.78 L149.37,230.73 L149.75,230.69 L150.14,230.65 L150.53,230.61 L150.92,230.58 L151.30,230.54 L151.69,230.51 L152.08,230.47 L152.47,230.44 L152.86,230.41 L153.24,230.38 L153.63,230.35 L154.02,230.32 L154.41,230.29 L154.79,230.27 L155.18,230.24 L155.57,230.21 L155.96,230.19 L156.34,230.16 L156.73,230.14 L157.12,230.12 L157.51,230.09 L157.89,230.07 L158.28,230.04 L158.67,230.02 L159.06,229.99 L159.44,229.97 L159.83,229.95 L160.22,229.92 L160.61,229.90 L160.99,229.87 L161.38,229.85 L161.77,229.83 L162.16,229.81 L162.54,229.79 L162.93,229.78 L163.32,229.76 L163.71,229.74 L164.09,229.73 L164.48,229.72 L164.87,229.70 L165.26,229.69 L165.64,229.68 L166.03,229.67 L166.42,229.65 L166.81,229.64 L167.20,229.63 L167.58,229.62 L167.97,229.61 L168.36,229.59 L168.75,229.58 L169.13,229.57 L169.52,229.55 L169.91,229.54" fill="none" stroke="#B3143F" stroke-width="1.35" stroke-linejoin="round" stroke-linecap="round"/>
<text transform="translate(157.00,226.70)" font-size="3.6" text-anchor="middle" fill="#B3143F" font-weight="normal" textLength="12.50" lengthAdjust="spacingAndGlyphs" >GPR84-/-</text>
<text transform="translate(158.40,240.20)" font-size="3.6" text-anchor="middle" fill="#21457F" font-weight="normal" textLength="5.20" lengthAdjust="spacingAndGlyphs" >WT</text>
<line x1="208.90" y1="217.60" x2="208.90" y2="268.06" stroke="#000" stroke-width="1.15"/>
<line x1="208.43" y1="257.30" x2="258.00" y2="257.30" stroke="#000" stroke-width="1.15"/>
<line x1="205.70" y1="264.76" x2="208.90" y2="264.76" stroke="#000" stroke-width="1.0"/>
<text transform="translate(202.90,266.36)" font-size="4.6" text-anchor="end" fill="#1a1a1a" stroke="#1a1a1a" stroke-width="0.18" font-weight="normal" >-20</text>
<line x1="205.70" y1="257.30" x2="208.90" y2="257.30" stroke="#000" stroke-width="1.0"/>
<text transform="translate(202.90,258.90)" font-size="4.6" text-anchor="end" fill="#1a1a1a" stroke="#1a1a1a" stroke-width="0.18" font-weight="normal" >0</text>
<line x1="205.70" y1="249.84" x2="208.90" y2="249.84" stroke="#000" stroke-width="1.0"/>
<text transform="translate(202.90,251.44)" font-size="4.6" text-anchor="end" fill="#1a1a1a" stroke="#1a1a1a" stroke-width="0.18" font-weight="normal" >20</text>
<line x1="205.70" y1="242.38" x2="208.90" y2="242.38" stroke="#000" stroke-width="1.0"/>
<text transform="translate(202.90,243.98)" font-size="4.6" text-anchor="end" fill="#1a1a1a" stroke="#1a1a1a" stroke-width="0.18" font-weight="normal" >40</text>
<line x1="205.70" y1="234.92" x2="208.90" y2="234.92" stroke="#000" stroke-width="1.0"/>
<text transform="translate(202.90,236.52)" font-size="4.6" text-anchor="end" fill="#1a1a1a" stroke="#1a1a1a" stroke-width="0.18" font-weight="normal" >60</text>
<line x1="205.70" y1="227.46" x2="208.90" y2="227.46" stroke="#000" stroke-width="1.0"/>
<text transform="translate(202.90,229.06)" font-size="4.6" text-anchor="end" fill="#1a1a1a" stroke="#1a1a1a" stroke-width="0.18" font-weight="normal" >80</text>
<line x1="205.70" y1="220.00" x2="208.90" y2="220.00" stroke="#000" stroke-width="1.0"/>
<text transform="translate(202.90,221.60)" font-size="4.6" text-anchor="end" fill="#1a1a1a" stroke="#1a1a1a" stroke-width="0.18" font-weight="normal" >100</text>
<line x1="224.50" y1="257.30" x2="224.50" y2="260.00" stroke="#000" stroke-width="1.0"/>
<text transform="translate(224.50,267.16)" font-size="4.6" text-anchor="middle" fill="#1a1a1a" stroke="#1a1a1a" stroke-width="0.18" font-weight="normal" >200</text>
<line x1="239.80" y1="257.30" x2="239.80" y2="260.00" stroke="#000" stroke-width="1.0"/>
<text transform="translate(239.80,267.16)" font-size="4.6" text-anchor="middle" fill="#1a1a1a" stroke="#1a1a1a" stroke-width="0.18" font-weight="normal" >400</text>
<line x1="255.10" y1="257.30" x2="255.10" y2="260.00" stroke="#000" stroke-width="1.0"/>
<text transform="translate(255.10,267.16)" font-size="4.6" text-anchor="middle" fill="#1a1a1a" stroke="#1a1a1a" stroke-width="0.18" font-weight="normal" >600</text>
<text transform="translate(233.40,213.30)" font-size="6.6" text-anchor="middle" fill="#111" font-weight="normal" textLength="48.70" lengthAdjust="spacingAndGlyphs" stroke="#111" stroke-width="0.1">PAR4-AP(100μM)</text>
<text transform="translate(232.95,276.16)" font-size="6.2" text-anchor="middle" fill="#000" font-weight="normal" textLength="14.30" lengthAdjust="spacingAndGlyphs" stroke="#000" stroke-width="0.22">Time(s)</text>
<text transform="translate(190.30,242.68) rotate(-90)" font-size="5.9" text-anchor="middle" fill="#000" font-weight="normal" textLength="40.50" lengthAdjust="spacingAndGlyphs" stroke="#000" stroke-width="0.1">Light transmission(%)</text>
<path d="M209.20,257.57 L209.43,256.82 L209.66,255.80 L209.89,255.72 L210.12,255.74 L210.35,256.60 L210.58,257.15 L210.81,257.96 L211.04,258.44 L211.27,258.40 L211.49,258.48 L211.72,258.56 L211.95,258.51 L212.18,258.40 L212.41,258.30 L212.64,258.43 L212.87,257.96 L213.10,257.70 L213.33,257.45 L213.56,256.87 L213.79,256.01 L214.02,255.22 L214.25,254.04 L214.48,252.91 L214.71,252.24 L214.94,250.85 L215.17,249.72 L215.40,248.50 L215.63,247.50 L215.86,246.13 L216.08,244.65 L216.31,243.25 L216.54,241.95 L216.77,240.56 L217.00,239.52 L217.23,238.96 L217.46,238.67 L217.69,238.07 L217.92,237.54 L218.15,237.63 L218.38,236.90 L218.61,236.42 L218.84,236.22 L219.07,235.99 L219.30,235.95 L219.53,235.95 L219.76,235.35 L219.99,235.49 L220.22,235.02 L220.45,234.75 L220.67,234.99 L220.90,234.84 L221.13,234.32 L221.36,234.32 L221.59,234.55 L221.82,234.44 L222.05,234.30 L222.28,233.67 L222.51,233.62 L222.74,233.95 L222.97,233.39 L223.20,233.19 L223.43,233.32 L223.66,233.43 L223.89,233.22 L224.12,233.42 L224.35,233.43 L224.58,232.72 L224.81,232.87 L225.04,232.89 L225.26,232.56 L225.49,232.84 L225.72,232.50 L225.95,232.48 L226.18,232.84 L226.41,232.77 L226.64,232.70 L226.87,232.69 L227.10,232.41 L227.33,232.59 L227.56,232.45 L227.79,232.60 L228.02,232.03 L228.25,232.37 L228.48,232.26 L228.71,232.14 L228.94,231.88 L229.17,232.17 L229.40,231.81 L229.63,232.05 L229.85,232.00 L230.08,231.97 L230.31,232.28 L230.54,231.97 L230.77,232.11 L231.00,232.20 L231.23,231.64 L231.46,232.04 L231.69,231.81 L231.92,231.61 L232.15,231.70 L232.38,231.83 L232.61,231.68 L232.84,231.64 L233.07,231.46 L233.30,231.90 L233.53,231.57 L233.76,231.76 L233.99,231.72 L234.22,231.37 L234.44,231.53 L234.67,231.48 L234.90,231.33 L235.13,231.21 L235.36,231.51 L235.59,231.38 L235.82,231.44 L236.05,231.42 L236.28,231.28 L236.51,231.43 L236.74,231.36 L236.97,231.38 L237.20,231.06 L237.43,231.21 L237.66,231.08 L237.89,231.02 L238.12,231.47 L238.35,231.26 L238.58,230.99 L238.81,231.04 L239.03,231.51 L239.26,231.50 L239.49,231.28 L239.72,231.52 L239.95,231.39 L240.18,231.49 L240.41,231.08 L240.64,231.00 L240.87,230.91 L241.10,231.40 L241.33,231.01 L241.56,231.04 L241.79,231.38 L242.02,230.88 L242.25,230.82 L242.48,231.31 L242.71,230.81 L242.94,231.18 L243.17,231.11 L243.40,230.77 L243.62,230.87 L243.85,231.32 L244.08,231.13 L244.31,231.07 L244.54,231.19 L244.77,231.28 L245.00,231.20 L245.23,230.92 L245.46,231.39 L245.69,231.03 L245.92,231.11 L246.15,231.39 L246.38,231.18 L246.61,230.98 L246.84,231.05 L247.07,231.35 L247.30,230.73 L247.53,230.86 L247.76,230.74 L247.99,231.32 L248.21,231.21 L248.44,231.36 L248.67,230.87 L248.90,231.21 L249.13,231.30 L249.36,231.11 L249.59,230.78 L249.82,230.84 L250.05,231.21 L250.28,231.29 L250.51,230.77 L250.74,231.00 L250.97,230.92 L251.20,231.33 L251.43,231.35 L251.66,230.92 L251.89,231.10 L252.12,231.34 L252.35,230.76 L252.58,230.96 L252.80,230.85 L253.03,231.33 L253.26,230.81 L253.49,231.34 L253.72,230.80 L253.95,231.07 L254.18,231.15 L254.41,231.00 L254.64,230.75 L254.87,231.19 L255.10,231.28" fill="none" stroke="#21457F" stroke-width="1.25" stroke-linejoin="round" stroke-linecap="round"/>
<path d="M209.20,257.69 L209.49,257.95 L209.77,258.24 L210.06,258.46 L210.35,258.63 L210.63,258.57 L210.92,258.36 L211.21,258.20 L211.49,257.94 L211.78,257.83 L212.07,257.47 L212.36,257.07 L212.64,256.36 L212.93,255.52 L213.22,254.13 L213.50,251.65 L213.79,248.21 L214.08,245.03 L214.36,242.69 L214.65,241.21 L214.94,239.98 L215.22,239.28 L215.51,238.42 L215.80,237.93 L216.08,237.43 L216.37,236.89 L216.66,236.53 L216.95,236.08 L217.23,235.64 L217.52,235.22 L217.81,235.04 L218.09,234.63 L218.38,234.40 L218.67,234.17 L218.95,234.01 L219.24,233.83 L219.53,233.72 L219.81,233.55 L220.10,233.42 L220.39,233.13 L220.67,233.11 L220.96,233.00 L221.25,232.90 L221.54,232.61 L221.82,232.49 L222.11,232.43 L222.40,232.42 L222.68,232.33 L222.97,232.22 L223.26,232.09 L223.54,232.08 L223.83,231.93 L224.12,231.89 L224.40,231.66 L224.69,231.58 L224.98,231.61 L225.26,231.61 L225.55,231.38 L225.84,231.46 L226.13,231.39 L226.41,231.41 L226.70,231.27 L226.99,231.20 L227.27,231.14 L227.56,231.15 L227.85,231.03 L228.13,231.09 L228.42,230.99 L228.71,230.98 L228.99,230.87 L229.28,230.90 L229.57,230.87 L229.85,230.76 L230.14,230.74 L230.43,230.62 L230.72,230.60 L231.00,230.51 L231.29,230.50 L231.58,230.45 L231.86,230.39 L232.15,230.47 L232.44,230.45 L232.72,230.27 L233.01,230.43 L233.30,230.28 L233.58,230.27 L233.87,230.38 L234.16,230.18 L234.44,230.15 L234.73,230.18 L235.02,230.14 L235.31,230.10 L235.59,230.23 L235.88,230.13 L236.17,230.11 L236.45,230.02 L236.74,230.01 L237.03,229.99 L237.31,230.03 L237.60,229.94 L237.89,229.97 L238.17,229.96 L238.46,230.05 L238.75,230.08 L239.03,230.04 L239.32,229.97 L239.61,230.02 L239.90,229.84 L240.18,229.89 L240.47,229.86 L240.76,229.85 L241.04,229.82 L241.33,229.86 L241.62,229.96 L241.90,229.77 L242.19,229.77 L242.48,229.82 L242.76,229.80 L243.05,229.77 L243.34,229.89 L243.62,229.74 L243.91,229.84 L244.20,229.88 L244.49,229.83 L244.77,229.72 L245.06,229.83 L245.35,229.71 L245.63,229.66 L245.92,229.76 L246.21,229.78 L246.49,229.76 L246.78,229.71 L247.07,229.69 L247.35,229.73 L247.64,229.72 L247.93,229.84 L248.21,229.83 L248.50,229.80 L248.79,229.69 L249.08,229.79 L249.36,229.73 L249.65,229.86 L249.94,229.85 L250.22,229.80 L250.51,229.71 L250.80,229.70 L251.08,229.71 L251.37,229.79 L251.66,229.74 L251.94,229.75 L252.23,229.75 L252.52,229.83 L252.80,229.65 L253.09,229.81 L253.38,229.63 L253.67,229.64 L253.95,229.84 L254.24,229.74 L254.53,229.66 L254.81,229.62 L255.10,229.74" fill="none" stroke="#B3143F" stroke-width="1.35" stroke-linejoin="round" stroke-linecap="round"/>
<text transform="translate(237.30,224.60)" font-size="3.6" text-anchor="middle" fill="#B3143F" font-weight="normal" textLength="12.50" lengthAdjust="spacingAndGlyphs" >GPR84-/-</text>
<text transform="translate(239.40,237.50)" font-size="3.6" text-anchor="middle" fill="#21457F" font-weight="normal" textLength="5.20" lengthAdjust="spacingAndGlyphs" >WT</text>
<line x1="294.30" y1="214.80" x2="294.30" y2="268.26" stroke="#000" stroke-width="1.15"/>
<line x1="293.83" y1="257.00" x2="344.00" y2="257.00" stroke="#000" stroke-width="1.15"/>
<line x1="291.10" y1="264.96" x2="294.30" y2="264.96" stroke="#000" stroke-width="1.0"/>
<text transform="translate(288.30,266.56)" font-size="4.6" text-anchor="end" fill="#1a1a1a" stroke="#1a1a1a" stroke-width="0.18" font-weight="normal" >-20</text>
<line x1="291.10" y1="257.00" x2="294.30" y2="257.00" stroke="#000" stroke-width="1.0"/>
<text transform="translate(288.30,258.60)" font-size="4.6" text-anchor="end" fill="#1a1a1a" stroke="#1a1a1a" stroke-width="0.18" font-weight="normal" >0</text>
<line x1="291.10" y1="249.04" x2="294.30" y2="249.04" stroke="#000" stroke-width="1.0"/>
<text transform="translate(288.30,250.64)" font-size="4.6" text-anchor="end" fill="#1a1a1a" stroke="#1a1a1a" stroke-width="0.18" font-weight="normal" >20</text>
<line x1="291.10" y1="241.08" x2="294.30" y2="241.08" stroke="#000" stroke-width="1.0"/>
<text transform="translate(288.30,242.68)" font-size="4.6" text-anchor="end" fill="#1a1a1a" stroke="#1a1a1a" stroke-width="0.18" font-weight="normal" >40</text>
<line x1="291.10" y1="233.12" x2="294.30" y2="233.12" stroke="#000" stroke-width="1.0"/>
<text transform="translate(288.30,234.72)" font-size="4.6" text-anchor="end" fill="#1a1a1a" stroke="#1a1a1a" stroke-width="0.18" font-weight="normal" >60</text>
<line x1="291.10" y1="225.16" x2="294.30" y2="225.16" stroke="#000" stroke-width="1.0"/>
<text transform="translate(288.30,226.76)" font-size="4.6" text-anchor="end" fill="#1a1a1a" stroke="#1a1a1a" stroke-width="0.18" font-weight="normal" >80</text>
<line x1="291.10" y1="217.20" x2="294.30" y2="217.20" stroke="#000" stroke-width="1.0"/>
<text transform="translate(288.30,218.80)" font-size="4.6" text-anchor="end" fill="#1a1a1a" stroke="#1a1a1a" stroke-width="0.18" font-weight="normal" >100</text>
<line x1="304.80" y1="257.00" x2="304.80" y2="259.70" stroke="#000" stroke-width="1.0"/>
<text transform="translate(304.80,267.36)" font-size="4.6" text-anchor="middle" fill="#1a1a1a" stroke="#1a1a1a" stroke-width="0.18" font-weight="normal" >200</text>
<line x1="315.90" y1="257.00" x2="315.90" y2="259.70" stroke="#000" stroke-width="1.0"/>
<text transform="translate(315.90,267.36)" font-size="4.6" text-anchor="middle" fill="#1a1a1a" stroke="#1a1a1a" stroke-width="0.18" font-weight="normal" >400</text>
<line x1="327.00" y1="257.00" x2="327.00" y2="259.70" stroke="#000" stroke-width="1.0"/>
<text transform="translate(327.00,267.36)" font-size="4.6" text-anchor="middle" fill="#1a1a1a" stroke="#1a1a1a" stroke-width="0.18" font-weight="normal" >600</text>
<line x1="338.10" y1="257.00" x2="338.10" y2="259.70" stroke="#000" stroke-width="1.0"/>
<text transform="translate(338.10,267.36)" font-size="4.6" text-anchor="middle" fill="#1a1a1a" stroke="#1a1a1a" stroke-width="0.18" font-weight="normal" >800</text>
<text transform="translate(318.90,209.80)" font-size="6.6" text-anchor="middle" fill="#111" font-weight="normal" textLength="46.10" lengthAdjust="spacingAndGlyphs" stroke="#111" stroke-width="0.1">U46619 (0.5μM)</text>
<text transform="translate(318.65,276.36)" font-size="6.2" text-anchor="middle" fill="#000" font-weight="normal" textLength="14.30" lengthAdjust="spacingAndGlyphs" stroke="#000" stroke-width="0.22">Time(s)</text>
<text transform="translate(275.70,241.38) rotate(-90)" font-size="5.9" text-anchor="middle" fill="#000" font-weight="normal" textLength="42.00" lengthAdjust="spacingAndGlyphs" stroke="#000" stroke-width="0.1">Light transmission(%)</text>
<path d="M293.70,258.53 L293.82,258.63 L293.94,256.20 L294.05,258.46 L294.17,257.19 L294.29,258.50 L294.41,257.20 L294.53,255.74 L294.64,258.27 L294.76,255.99 L294.88,256.90 L295.00,255.61 L295.11,256.10 L295.23,257.52 L295.35,255.31 L295.47,256.53 L295.59,257.91 L295.70,257.89 L295.82,256.25 L295.94,256.30 L296.06,256.68 L296.18,257.11 L296.29,256.37 L296.41,256.37 L296.53,254.61 L296.65,257.19 L296.76,254.72 L296.88,254.35 L297.00,256.55 L297.12,253.89 L297.24,254.48 L297.35,253.78 L297.47,255.64 L297.59,255.29 L297.71,255.14 L297.83,253.12 L297.94,254.35 L298.06,254.99 L298.18,254.70 L298.30,255.11 L298.41,255.76 L298.53,255.51 L298.65,253.10 L298.77,254.77 L298.89,252.62 L299.00,254.73 L299.12,254.60 L299.24,253.73 L299.36,254.67 L299.48,253.99 L299.59,252.04 L299.71,252.17 L299.83,252.30 L299.95,252.77 L300.07,251.76 L300.18,251.55 L300.30,252.68 L300.42,252.00 L300.54,254.00 L300.65,251.68 L300.77,252.42 L300.89,251.30 L301.01,251.48 L301.13,252.45 L301.24,253.03 L301.36,250.05 L301.48,252.41 L301.60,251.12 L301.72,251.34 L301.83,251.28 L301.95,249.67 L302.07,248.71 L302.19,250.78 L302.30,249.31 L302.42,250.22 L302.54,249.19 L302.66,249.49 L302.78,249.99 L302.89,249.78 L303.01,249.41 L303.13,246.96 L303.25,248.03 L303.37,248.69 L303.48,246.27 L303.60,245.76 L303.72,247.27 L303.84,248.03 L303.95,247.63 L304.07,247.73 L304.19,246.70 L304.31,247.28 L304.43,246.58 L304.54,246.30 L304.66,245.09 L304.78,243.87 L304.90,244.09 L305.02,244.94 L305.13,244.70 L305.25,244.12 L305.37,244.35 L305.49,244.23 L305.61,244.86 L305.72,243.93 L305.84,241.48 L305.96,243.91 L306.08,242.45 L306.19,241.80 L306.31,240.80 L306.43,242.61 L306.55,242.18 L306.67,242.00 L306.78,241.27 L306.90,240.87 L307.02,239.01 L307.14,239.11 L307.26,238.80 L307.37,241.28 L307.49,241.02 L307.61,238.65 L307.73,237.84 L307.84,238.99 L307.96,238.43 L308.08,240.11 L308.20,238.69 L308.32,236.82 L308.43,236.98 L308.55,236.74 L308.67,236.23 L308.79,238.41 L308.91,238.75 L309.02,238.50 L309.14,237.23 L309.26,236.63 L309.38,235.71 L309.49,236.32 L309.61,236.48 L309.73,236.02 L309.85,236.93 L309.97,236.55 L310.08,238.11 L310.20,235.68 L310.32,237.37 L310.44,235.12 L310.56,235.94 L310.67,236.97 L310.79,237.48 L310.91,237.03 L311.03,235.76 L311.14,235.52 L311.26,237.34 L311.38,237.44 L311.50,235.96 L311.62,235.73 L311.73,236.32 L311.85,236.81 L311.97,235.58 L312.09,237.44 L312.21,236.48 L312.32,235.95 L312.44,234.35 L312.56,235.33 L312.68,234.54 L312.80,235.83 L312.91,236.58 L313.03,236.52 L313.15,234.24 L313.27,235.04 L313.38,236.29 L313.50,237.19 L313.62,235.66 L313.74,235.09 L313.86,235.89 L313.97,236.40 L314.09,235.09 L314.21,234.26 L314.33,236.47 L314.45,237.08 L314.56,236.10 L314.68,235.83 L314.80,234.99 L314.92,236.53 L315.03,234.61 L315.15,234.79 L315.27,235.52 L315.39,236.47 L315.51,234.02 L315.62,236.11 L315.74,234.48 L315.86,236.35 L315.98,236.37 L316.10,234.64 L316.21,236.11 L316.33,234.01 L316.45,235.46 L316.57,236.43 L316.68,236.31 L316.80,235.68 L316.92,234.88 L317.04,233.97 L317.16,236.52 L317.27,235.73 L317.39,236.30 L317.51,233.87 L317.63,236.51 L317.75,236.79 L317.86,236.76 L317.98,235.70 L318.10,234.08 L318.22,234.13 L318.34,234.60 L318.45,233.76 L318.57,233.96 L318.69,235.88 L318.81,236.33 L318.92,233.94 L319.04,234.54 L319.16,236.82 L319.28,234.80 L319.40,235.71 L319.51,235.72 L319.63,235.86 L319.75,236.37 L319.87,236.90 L319.99,236.02 L320.10,235.80 L320.22,233.87 L320.34,236.52 L320.46,233.85 L320.57,236.26 L320.69,235.79 L320.81,234.31 L320.93,234.32 L321.05,235.56 L321.16,236.78 L321.28,235.44 L321.40,235.76 L321.52,234.03 L321.64,236.35 L321.75,235.81 L321.87,234.12 L321.99,236.88 L322.11,235.68 L322.22,234.41 L322.34,234.56 L322.46,236.88 L322.58,236.91 L322.70,236.83 L322.81,234.11 L322.93,236.23 L323.05,234.67 L323.17,234.20 L323.29,236.00 L323.40,236.22 L323.52,234.05 L323.64,235.14 L323.76,236.29 L323.88,234.85 L323.99,236.14 L324.11,236.28 L324.23,237.16 L324.35,234.78 L324.46,234.28 L324.58,235.20 L324.70,234.23 L324.82,237.17 L324.94,236.52 L325.05,235.77 L325.17,234.25 L325.29,234.27 L325.41,236.10 L325.53,236.55 L325.64,236.00 L325.76,235.81 L325.88,234.45 L326.00,236.84 L326.11,234.89 L326.23,235.11 L326.35,234.86 L326.47,235.04 L326.59,235.59 L326.70,236.51 L326.82,236.56 L326.94,236.45 L327.06,235.14 L327.18,237.41 L327.29,237.06 L327.41,235.32 L327.53,236.96 L327.65,237.58 L327.76,237.71 L327.88,236.10 L328.00,236.86 L328.12,234.81 L328.24,235.16 L328.35,234.86 L328.47,237.21 L328.59,237.82 L328.71,237.83 L328.83,236.59 L328.94,235.96 L329.06,236.84 L329.18,237.56 L329.30,237.03 L329.42,236.43 L329.53,236.30 L329.65,236.11 L329.77,235.85 L329.89,236.48 L330.00,238.26 L330.12,236.01 L330.24,237.81 L330.36,236.99 L330.48,237.65 L330.59,236.54 L330.71,238.31 L330.83,238.21 L330.95,238.26 L331.07,238.61 L331.18,236.33 L331.30,237.36 L331.42,238.21 L331.54,238.04 L331.65,236.19 L331.77,237.79 L331.89,238.72 L332.01,236.93 L332.13,237.48 L332.24,236.45 L332.36,239.33 L332.48,238.20 L332.60,237.15 L332.72,237.13 L332.83,236.95 L332.95,239.78 L333.07,239.02 L333.19,239.62 L333.30,239.45 L333.42,237.00 L333.54,238.28 L333.66,237.22 L333.78,239.05 L333.89,237.52 L334.01,238.89 L334.13,239.53 L334.25,237.93 L334.37,237.43 L334.48,240.15 L334.60,238.62 L334.72,238.59 L334.84,239.91 L334.95,239.46 L335.07,240.23 L335.19,240.06 L335.31,239.94 L335.43,238.88 L335.54,238.75 L335.66,240.22 L335.78,240.86 L335.90,239.90 L336.02,238.81 L336.13,240.42 L336.25,240.05 L336.37,240.44 L336.49,238.59 L336.61,239.41 L336.72,240.99 L336.84,240.90 L336.96,240.00 L337.08,239.55 L337.19,239.30 L337.31,241.08 L337.43,240.88 L337.55,239.22 L337.67,240.17 L337.78,240.61 L337.90,240.56 L338.02,238.54 L338.14,240.62 L338.26,239.84 L338.37,240.54 L338.49,240.39 L338.61,239.00 L338.73,238.61 L338.84,240.66 L338.96,241.22 L339.08,239.57 L339.20,241.27 L339.32,241.93 L339.43,239.11 L339.55,240.67 L339.67,239.44 L339.79,240.79 L339.91,239.31 L340.02,240.69 L340.14,241.67 L340.26,242.17 L340.38,240.50 L340.49,240.25 L340.61,239.42 L340.73,242.07 L340.85,240.41 L340.97,241.24 L341.08,240.85 L341.20,242.03 L341.32,241.62 L341.44,240.90 L341.56,239.64 L341.67,242.28 L341.79,241.10 L341.91,240.13 L342.03,239.65 L342.15,242.13 L342.26,242.39 L342.38,239.83 L342.50,239.76 L342.62,241.36 L342.73,242.76 L342.85,240.02 L342.97,241.77 L343.09,240.16 L343.21,241.10" fill="none" stroke="#21457F" stroke-width="1.7" stroke-linejoin="round" stroke-linecap="round"/>
<path d="M293.70,257.80 L294.01,257.52 L294.32,257.25 L294.63,256.98 L294.94,256.72 L295.25,256.45 L295.56,256.18 L295.87,255.91 L296.18,255.63 L296.48,255.36 L296.79,255.08 L297.10,254.79 L297.41,254.50 L297.72,254.22 L298.03,253.98 L298.34,253.75 L298.65,253.53 L298.96,253.30 L299.27,253.05 L299.58,252.76 L299.89,252.43 L300.20,252.03 L300.51,251.56 L300.82,251.01 L301.13,250.33 L301.44,249.51 L301.74,248.59 L302.05,247.59 L302.36,246.55 L302.67,245.48 L302.98,244.42 L303.29,243.40 L303.60,242.44 L303.91,241.44 L304.22,240.39 L304.53,239.32 L304.84,238.27 L305.15,237.27 L305.46,236.35 L305.77,235.55 L306.08,234.90 L306.39,234.41 L306.70,234.01 L307.00,233.66 L307.31,233.37 L307.62,233.13 L307.93,232.94 L308.24,232.78 L308.55,232.64 L308.86,232.53 L309.17,232.44 L309.48,232.34 L309.79,232.25 L310.10,232.16 L310.41,232.05 L310.72,231.95 L311.03,231.86 L311.34,231.77 L311.65,231.68 L311.96,231.61 L312.26,231.53 L312.57,231.47 L312.88,231.40 L313.19,231.35 L313.50,231.29 L313.81,231.24 L314.12,231.20 L314.43,231.16 L314.74,231.12 L315.05,231.09 L315.36,231.05 L315.67,231.03 L315.98,231.00 L316.29,230.98 L316.60,230.96 L316.91,230.94 L317.22,230.92 L317.52,230.91 L317.83,230.90 L318.14,230.89 L318.45,230.89 L318.76,230.88 L319.07,230.88 L319.38,230.89 L319.69,230.89 L320.00,230.90 L320.31,230.91 L320.62,230.92 L320.93,230.94 L321.24,230.96 L321.55,230.97 L321.86,231.00 L322.17,231.02 L322.48,231.05 L322.78,231.07 L323.09,231.10 L323.40,231.14 L323.71,231.17 L324.02,231.21 L324.33,231.24 L324.64,231.28 L324.95,231.32 L325.26,231.37 L325.57,231.41 L325.88,231.46 L326.19,231.51 L326.50,231.56 L326.81,231.61 L327.12,231.66 L327.43,231.72 L327.74,231.77 L328.04,231.83 L328.35,231.89 L328.66,231.95 L328.97,232.01 L329.28,232.08 L329.59,232.14 L329.90,232.21 L330.21,232.28 L330.52,232.35 L330.83,232.42 L331.14,232.49 L331.45,232.56 L331.76,232.63 L332.07,232.71 L332.38,232.78 L332.69,232.86 L333.00,232.94 L333.30,233.01 L333.61,233.09 L333.92,233.17 L334.23,233.25 L334.54,233.33 L334.85,233.42 L335.16,233.50 L335.47,233.59 L335.78,233.68 L336.09,233.77 L336.40,233.86 L336.71,233.96 L337.02,234.06 L337.33,234.15 L337.64,234.25 L337.95,234.35 L338.26,234.45 L338.56,234.56 L338.87,234.66 L339.18,234.76 L339.49,234.87 L339.80,234.97 L340.11,235.08 L340.42,235.18 L340.73,235.29 L341.04,235.39 L341.35,235.50 L341.66,235.60 L341.97,235.70 L342.28,235.81 L342.59,235.91 L342.90,236.01 L343.21,236.11" fill="none" stroke="#B3143F" stroke-width="1.35" stroke-linejoin="round" stroke-linecap="round"/>
<text transform="translate(321.70,225.90)" font-size="3.6" text-anchor="middle" fill="#B3143F" font-weight="normal" textLength="12.50" lengthAdjust="spacingAndGlyphs" >GPR84-/-</text>
<text transform="translate(323.70,244.50)" font-size="3.6" text-anchor="middle" fill="#21457F" font-weight="normal" textLength="5.20" lengthAdjust="spacingAndGlyphs" >WT</text>
<line x1="378.70" y1="214.80" x2="378.70" y2="268.26" stroke="#000" stroke-width="1.15"/>
<line x1="378.23" y1="257.00" x2="429.30" y2="257.00" stroke="#000" stroke-width="1.15"/>
<line x1="375.50" y1="264.96" x2="378.70" y2="264.96" stroke="#000" stroke-width="1.0"/>
<text transform="translate(372.70,266.56)" font-size="4.6" text-anchor="end" fill="#1a1a1a" stroke="#1a1a1a" stroke-width="0.18" font-weight="normal" >-20</text>
<line x1="375.50" y1="257.00" x2="378.70" y2="257.00" stroke="#000" stroke-width="1.0"/>
<text transform="translate(372.70,258.60)" font-size="4.6" text-anchor="end" fill="#1a1a1a" stroke="#1a1a1a" stroke-width="0.18" font-weight="normal" >0</text>
<line x1="375.50" y1="249.04" x2="378.70" y2="249.04" stroke="#000" stroke-width="1.0"/>
<text transform="translate(372.70,250.64)" font-size="4.6" text-anchor="end" fill="#1a1a1a" stroke="#1a1a1a" stroke-width="0.18" font-weight="normal" >20</text>
<line x1="375.50" y1="241.08" x2="378.70" y2="241.08" stroke="#000" stroke-width="1.0"/>
<text transform="translate(372.70,242.68)" font-size="4.6" text-anchor="end" fill="#1a1a1a" stroke="#1a1a1a" stroke-width="0.18" font-weight="normal" >40</text>
<line x1="375.50" y1="233.12" x2="378.70" y2="233.12" stroke="#000" stroke-width="1.0"/>
<text transform="translate(372.70,234.72)" font-size="4.6" text-anchor="end" fill="#1a1a1a" stroke="#1a1a1a" stroke-width="0.18" font-weight="normal" >60</text>
<line x1="375.50" y1="225.16" x2="378.70" y2="225.16" stroke="#000" stroke-width="1.0"/>
<text transform="translate(372.70,226.76)" font-size="4.6" text-anchor="end" fill="#1a1a1a" stroke="#1a1a1a" stroke-width="0.18" font-weight="normal" >80</text>
<line x1="375.50" y1="217.20" x2="378.70" y2="217.20" stroke="#000" stroke-width="1.0"/>
<text transform="translate(372.70,218.80)" font-size="4.6" text-anchor="end" fill="#1a1a1a" stroke="#1a1a1a" stroke-width="0.18" font-weight="normal" >100</text>
<line x1="389.90" y1="257.00" x2="389.90" y2="259.70" stroke="#000" stroke-width="1.0"/>
<text transform="translate(389.90,267.36)" font-size="4.6" text-anchor="middle" fill="#1a1a1a" stroke="#1a1a1a" stroke-width="0.18" font-weight="normal" >200</text>
<line x1="400.90" y1="257.00" x2="400.90" y2="259.70" stroke="#000" stroke-width="1.0"/>
<text transform="translate(400.90,267.36)" font-size="4.6" text-anchor="middle" fill="#1a1a1a" stroke="#1a1a1a" stroke-width="0.18" font-weight="normal" >400</text>
<line x1="411.90" y1="257.00" x2="411.90" y2="259.70" stroke="#000" stroke-width="1.0"/>
<text transform="translate(411.90,267.36)" font-size="4.6" text-anchor="middle" fill="#1a1a1a" stroke="#1a1a1a" stroke-width="0.18" font-weight="normal" >600</text>
<line x1="422.90" y1="257.00" x2="422.90" y2="259.70" stroke="#000" stroke-width="1.0"/>
<text transform="translate(422.90,267.36)" font-size="4.6" text-anchor="middle" fill="#1a1a1a" stroke="#1a1a1a" stroke-width="0.18" font-weight="normal" >800</text>
<text transform="translate(403.40,209.80)" font-size="6.6" text-anchor="middle" fill="#111" font-weight="normal" textLength="41.20" lengthAdjust="spacingAndGlyphs" stroke="#111" stroke-width="0.1">U46619 (2μM)</text>
<text transform="translate(403.50,276.36)" font-size="6.2" text-anchor="middle" fill="#000" font-weight="normal" textLength="14.30" lengthAdjust="spacingAndGlyphs" stroke="#000" stroke-width="0.22">Time(s)</text>
<text transform="translate(360.10,241.38) rotate(-90)" font-size="5.9" text-anchor="middle" fill="#000" font-weight="normal" textLength="42.00" lengthAdjust="spacingAndGlyphs" stroke="#000" stroke-width="0.1">Light transmission(%)</text>
<path d="M378.90,257.40 L379.21,257.22 L379.51,257.17 L379.82,256.62 L380.12,254.98 L380.43,252.21 L380.74,248.91 L381.04,245.71 L381.35,243.24 L381.65,241.58 L381.96,240.19 L382.27,239.03 L382.57,238.06 L382.88,237.25 L383.18,236.56 L383.49,235.96 L383.79,235.40 L384.10,234.89 L384.41,234.41 L384.71,233.97 L385.02,233.57 L385.32,233.20 L385.63,232.86 L385.94,232.55 L386.24,232.26 L386.55,232.00 L386.85,231.76 L387.16,231.54 L387.47,231.34 L387.77,231.15 L388.08,230.98 L388.38,230.82 L388.69,230.67 L389.00,230.53 L389.30,230.41 L389.61,230.29 L389.91,230.18 L390.22,230.09 L390.53,230.00 L390.83,229.91 L391.14,229.84 L391.44,229.77 L391.75,229.70 L392.06,229.64 L392.36,229.59 L392.67,229.54 L392.97,229.49 L393.28,229.44 L393.58,229.39 L393.89,229.35 L394.20,229.30 L394.50,229.26 L394.81,229.21 L395.11,229.17 L395.42,229.14 L395.73,229.10 L396.03,229.07 L396.34,229.04 L396.64,229.01 L396.95,228.99 L397.26,228.97 L397.56,228.95 L397.87,228.93 L398.17,228.91 L398.48,228.90 L398.79,228.88 L399.09,228.87 L399.40,228.87 L399.70,228.86 L400.01,228.85 L400.32,228.85 L400.62,228.85 L400.93,228.85 L401.23,228.85 L401.54,228.85 L401.85,228.86 L402.15,228.86 L402.46,228.87 L402.76,228.88 L403.07,228.88 L403.38,228.90 L403.68,228.91 L403.99,228.92 L404.29,228.93 L404.60,228.95 L404.90,228.97 L405.21,228.99 L405.52,229.01 L405.82,229.04 L406.13,229.06 L406.43,229.09 L406.74,229.12 L407.05,229.15 L407.35,229.18 L407.66,229.22 L407.96,229.25 L408.27,229.29 L408.58,229.33 L408.88,229.37 L409.19,229.41 L409.49,229.45 L409.80,229.49 L410.11,229.54 L410.41,229.58 L410.72,229.63 L411.02,229.68 L411.33,229.73 L411.64,229.78 L411.94,229.83 L412.25,229.88 L412.55,229.93 L412.86,229.98 L413.16,230.04 L413.47,230.09 L413.78,230.15 L414.08,230.20 L414.39,230.26 L414.69,230.32 L415.00,230.37 L415.31,230.43 L415.61,230.50 L415.92,230.56 L416.22,230.62 L416.53,230.69 L416.84,230.76 L417.14,230.83 L417.45,230.90 L417.75,230.97 L418.06,231.05 L418.37,231.13 L418.67,231.21 L418.98,231.30 L419.28,231.39 L419.59,231.48 L419.90,231.58 L420.20,231.68 L420.51,231.78 L420.81,231.89 L421.12,232.00 L421.43,232.12 L421.73,232.24 L422.04,232.37 L422.34,232.51 L422.65,232.66 L422.95,232.81 L423.26,232.97 L423.57,233.13 L423.87,233.29 L424.18,233.46 L424.48,233.63 L424.79,233.80 L425.10,233.97 L425.40,234.15 L425.71,234.32 L426.01,234.50 L426.32,234.67 L426.63,234.84 L426.93,235.01 L427.24,235.18 L427.54,235.35 L427.85,235.51" fill="none" stroke="#21457F" stroke-width="1.4" stroke-linejoin="round" stroke-linecap="round"/>
<path d="M378.90,257.80 L379.21,257.82 L379.51,257.89 L379.82,257.96 L380.12,258.01 L380.43,258.03 L380.74,257.98 L381.04,257.84 L381.35,257.61 L381.65,257.32 L381.96,256.93 L382.27,256.41 L382.57,255.70 L382.88,254.77 L383.18,253.54 L383.49,252.07 L383.79,250.49 L384.10,248.89 L384.41,247.40 L384.71,246.12 L385.02,245.07 L385.32,244.09 L385.63,243.18 L385.94,242.32 L386.24,241.52 L386.55,240.79 L386.85,240.11 L387.16,239.48 L387.47,238.92 L387.77,238.39 L388.08,237.89 L388.38,237.41 L388.69,236.95 L389.00,236.53 L389.30,236.12 L389.61,235.75 L389.91,235.40 L390.22,235.09 L390.53,234.80 L390.83,234.55 L391.14,234.33 L391.44,234.14 L391.75,233.98 L392.06,233.83 L392.36,233.69 L392.67,233.55 L392.97,233.42 L393.28,233.29 L393.58,233.17 L393.89,233.06 L394.20,232.96 L394.50,232.85 L394.81,232.76 L395.11,232.67 L395.42,232.59 L395.73,232.51 L396.03,232.43 L396.34,232.36 L396.64,232.30 L396.95,232.23 L397.26,232.18 L397.56,232.12 L397.87,232.07 L398.17,232.03 L398.48,231.98 L398.79,231.94 L399.09,231.91 L399.40,231.87 L399.70,231.84 L400.01,231.81 L400.32,231.78 L400.62,231.76 L400.93,231.74 L401.23,231.71 L401.54,231.70 L401.85,231.68 L402.15,231.68 L402.46,231.67 L402.76,231.67 L403.07,231.67 L403.38,231.68 L403.68,231.69 L403.99,231.71 L404.29,231.73 L404.60,231.75 L404.90,231.78 L405.21,231.80 L405.52,231.84 L405.82,231.87 L406.13,231.91 L406.43,231.95 L406.74,232.00 L407.05,232.04 L407.35,232.09 L407.66,232.15 L407.96,232.20 L408.27,232.26 L408.58,232.32 L408.88,232.38 L409.19,232.45 L409.49,232.51 L409.80,232.58 L410.11,232.65 L410.41,232.72 L410.72,232.80 L411.02,232.88 L411.33,232.97 L411.64,233.06 L411.94,233.15 L412.25,233.25 L412.55,233.36 L412.86,233.46 L413.16,233.58 L413.47,233.69 L413.78,233.81 L414.08,233.93 L414.39,234.06 L414.69,234.18 L415.00,234.31 L415.31,234.45 L415.61,234.58 L415.92,234.72 L416.22,234.85 L416.53,234.99 L416.84,235.13 L417.14,235.27 L417.45,235.42 L417.75,235.56 L418.06,235.70 L418.37,235.85 L418.67,235.99 L418.98,236.13 L419.28,236.28 L419.59,236.43 L419.90,236.59 L420.20,236.74 L420.51,236.90 L420.81,237.05 L421.12,237.21 L421.43,237.38 L421.73,237.54 L422.04,237.70 L422.34,237.87 L422.65,238.03 L422.95,238.20 L423.26,238.37 L423.57,238.54 L423.87,238.70 L424.18,238.87 L424.48,239.04 L424.79,239.21 L425.10,239.38 L425.40,239.55 L425.71,239.72 L426.01,239.89 L426.32,240.06 L426.63,240.22 L426.93,240.39 L427.24,240.56 L427.54,240.72 L427.85,240.88" fill="none" stroke="#B3143F" stroke-width="1.45" stroke-linejoin="round" stroke-linecap="round"/>
<text transform="translate(406.50,239.80)" font-size="3.6" text-anchor="middle" fill="#B3143F" font-weight="normal" textLength="12.50" lengthAdjust="spacingAndGlyphs" >GPR84-/-</text>
<text transform="translate(409.30,225.60)" font-size="3.6" text-anchor="middle" fill="#21457F" font-weight="normal" textLength="5.20" lengthAdjust="spacingAndGlyphs" >WT</text>
<line x1="463.70" y1="214.80" x2="463.70" y2="268.26" stroke="#000" stroke-width="1.15"/>
<line x1="463.23" y1="257.00" x2="514.00" y2="257.00" stroke="#000" stroke-width="1.15"/>
<line x1="460.50" y1="264.96" x2="463.70" y2="264.96" stroke="#000" stroke-width="1.0"/>
<text transform="translate(457.70,266.56)" font-size="4.6" text-anchor="end" fill="#1a1a1a" stroke="#1a1a1a" stroke-width="0.18" font-weight="normal" >-20</text>
<line x1="460.50" y1="257.00" x2="463.70" y2="257.00" stroke="#000" stroke-width="1.0"/>
<text transform="translate(457.70,258.60)" font-size="4.6" text-anchor="end" fill="#1a1a1a" stroke="#1a1a1a" stroke-width="0.18" font-weight="normal" >0</text>
<line x1="460.50" y1="249.04" x2="463.70" y2="249.04" stroke="#000" stroke-width="1.0"/>
<text transform="translate(457.70,250.64)" font-size="4.6" text-anchor="end" fill="#1a1a1a" stroke="#1a1a1a" stroke-width="0.18" font-weight="normal" >20</text>
<line x1="460.50" y1="241.08" x2="463.70" y2="241.08" stroke="#000" stroke-width="1.0"/>
<text transform="translate(457.70,242.68)" font-size="4.6" text-anchor="end" fill="#1a1a1a" stroke="#1a1a1a" stroke-width="0.18" font-weight="normal" >40</text>
<line x1="460.50" y1="233.12" x2="463.70" y2="233.12" stroke="#000" stroke-width="1.0"/>
<text transform="translate(457.70,234.72)" font-size="4.6" text-anchor="end" fill="#1a1a1a" stroke="#1a1a1a" stroke-width="0.18" font-weight="normal" >60</text>
<line x1="460.50" y1="225.16" x2="463.70" y2="225.16" stroke="#000" stroke-width="1.0"/>
<text transform="translate(457.70,226.76)" font-size="4.6" text-anchor="end" fill="#1a1a1a" stroke="#1a1a1a" stroke-width="0.18" font-weight="normal" >80</text>
<line x1="460.50" y1="217.20" x2="463.70" y2="217.20" stroke="#000" stroke-width="1.0"/>
<text transform="translate(457.70,218.80)" font-size="4.6" text-anchor="end" fill="#1a1a1a" stroke="#1a1a1a" stroke-width="0.18" font-weight="normal" >100</text>
<line x1="474.80" y1="257.00" x2="474.80" y2="259.70" stroke="#000" stroke-width="1.0"/>
<text transform="translate(474.80,267.36)" font-size="4.6" text-anchor="middle" fill="#1a1a1a" stroke="#1a1a1a" stroke-width="0.18" font-weight="normal" >200</text>
<line x1="485.70" y1="257.00" x2="485.70" y2="259.70" stroke="#000" stroke-width="1.0"/>
<text transform="translate(485.70,267.36)" font-size="4.6" text-anchor="middle" fill="#1a1a1a" stroke="#1a1a1a" stroke-width="0.18" font-weight="normal" >400</text>
<line x1="496.60" y1="257.00" x2="496.60" y2="259.70" stroke="#000" stroke-width="1.0"/>
<text transform="translate(496.60,267.36)" font-size="4.6" text-anchor="middle" fill="#1a1a1a" stroke="#1a1a1a" stroke-width="0.18" font-weight="normal" >600</text>
<line x1="507.50" y1="257.00" x2="507.50" y2="259.70" stroke="#000" stroke-width="1.0"/>
<text transform="translate(507.50,267.36)" font-size="4.6" text-anchor="middle" fill="#1a1a1a" stroke="#1a1a1a" stroke-width="0.18" font-weight="normal" >800</text>
<text transform="translate(488.50,209.80)" font-size="6.6" text-anchor="middle" fill="#111" font-weight="normal" textLength="41.10" lengthAdjust="spacingAndGlyphs" stroke="#111" stroke-width="0.1">U46619 (5μM)</text>
<text transform="translate(488.35,276.36)" font-size="6.2" text-anchor="middle" fill="#000" font-weight="normal" textLength="14.30" lengthAdjust="spacingAndGlyphs" stroke="#000" stroke-width="0.22">Time(s)</text>
<text transform="translate(445.10,241.38) rotate(-90)" font-size="5.9" text-anchor="middle" fill="#000" font-weight="normal" textLength="42.00" lengthAdjust="spacingAndGlyphs" stroke="#000" stroke-width="0.1">Light transmission(%)</text>
<path d="M463.90,256.62 L464.03,258.11 L464.16,256.57 L464.29,257.89 L464.42,257.43 L464.54,256.31 L464.67,256.22 L464.80,257.54 L464.93,257.09 L465.06,256.15 L465.19,255.22 L465.32,254.80 L465.45,254.60 L465.58,253.42 L465.71,251.37 L465.83,250.04 L465.96,251.19 L466.09,249.09 L466.22,247.82 L466.35,248.83 L466.48,246.31 L466.61,247.44 L466.74,245.71 L466.87,245.26 L466.99,244.53 L467.12,244.76 L467.25,243.97 L467.38,243.09 L467.51,242.99 L467.64,241.97 L467.77,242.05 L467.90,241.66 L468.03,242.26 L468.15,240.47 L468.28,240.45 L468.41,240.74 L468.54,239.20 L468.67,238.89 L468.80,239.41 L468.93,239.84 L469.06,238.92 L469.19,239.60 L469.32,239.36 L469.44,238.46 L469.57,239.11 L469.70,238.12 L469.83,237.81 L469.96,238.80 L470.09,237.25 L470.22,238.46 L470.35,236.79 L470.48,236.58 L470.60,237.12 L470.73,238.11 L470.86,236.94 L470.99,237.15 L471.12,235.69 L471.25,237.54 L471.38,235.73 L471.51,235.31 L471.64,235.86 L471.77,235.57 L471.89,236.98 L472.02,235.01 L472.15,236.10 L472.28,234.92 L472.41,234.94 L472.54,236.66 L472.67,235.10 L472.80,234.69 L472.93,236.68 L473.05,235.93 L473.18,234.90 L473.31,236.26 L473.44,234.44 L473.57,235.86 L473.70,234.51 L473.83,236.06 L473.96,235.14 L474.09,234.09 L474.21,235.73 L474.34,235.55 L474.47,234.92 L474.60,235.32 L474.73,235.94 L474.86,235.55 L474.99,235.55 L475.12,233.66 L475.25,234.23 L475.38,233.67 L475.50,235.37 L475.63,233.86 L475.76,235.42 L475.89,234.39 L476.02,234.11 L476.15,234.73 L476.28,233.48 L476.41,234.20 L476.54,234.11 L476.66,233.36 L476.79,235.19 L476.92,233.04 L477.05,233.88 L477.18,234.42 L477.31,233.43 L477.44,234.67 L477.57,232.91 L477.70,233.88 L477.83,234.37 L477.95,233.38 L478.08,234.12 L478.21,234.73 L478.34,233.36 L478.47,235.00 L478.60,233.13 L478.73,234.46 L478.86,233.52 L478.99,232.67 L479.11,233.60 L479.24,233.40 L479.37,234.22 L479.50,234.94 L479.63,234.85 L479.76,234.55 L479.89,233.42 L480.02,233.84 L480.15,233.63 L480.27,232.70 L480.40,234.51 L480.53,234.26 L480.66,233.23 L480.79,234.72 L480.92,234.76 L481.05,233.90 L481.18,234.48 L481.31,233.87 L481.44,234.18 L481.56,233.31 L481.69,233.28 L481.82,234.19 L481.95,233.18 L482.08,233.52 L482.21,234.33 L482.34,232.40 L482.47,234.05 L482.60,234.27 L482.72,234.39 L482.85,233.09 L482.98,232.52 L483.11,232.73 L483.24,233.63 L483.37,233.96 L483.50,234.55 L483.63,233.04 L483.76,233.23 L483.89,233.74 L484.01,233.03 L484.14,233.51 L484.27,232.33 L484.40,232.81 L484.53,233.97 L484.66,232.41 L484.79,234.46 L484.92,233.30 L485.05,233.60 L485.17,234.00 L485.30,234.43 L485.43,232.72 L485.56,234.55 L485.69,233.27 L485.82,232.34 L485.95,234.25 L486.08,234.12 L486.21,233.15 L486.33,233.40 L486.46,233.09 L486.59,232.69 L486.72,234.22 L486.85,233.91 L486.98,233.94 L487.11,234.55 L487.24,232.55 L487.37,232.82 L487.50,232.99 L487.62,234.70 L487.75,232.71 L487.88,232.96 L488.01,233.64 L488.14,233.00 L488.27,233.70 L488.40,234.26 L488.53,234.56 L488.66,234.28 L488.78,234.75 L488.91,234.06 L489.04,233.09 L489.17,233.24 L489.30,232.90 L489.43,233.24 L489.56,234.32 L489.69,233.65 L489.82,233.95 L489.94,233.13 L490.07,233.79 L490.20,234.42 L490.33,233.54 L490.46,232.79 L490.59,234.60 L490.72,233.04 L490.85,235.13 L490.98,234.57 L491.11,234.65 L491.23,233.46 L491.36,233.00 L491.49,233.50 L491.62,234.53 L491.75,233.23 L491.88,234.57 L492.01,234.81 L492.14,233.24 L492.27,233.93 L492.39,233.80 L492.52,233.90 L492.65,233.17 L492.78,234.42 L492.91,233.56 L493.04,233.92 L493.17,233.57 L493.30,234.60 L493.43,233.94 L493.56,234.34 L493.68,234.99 L493.81,235.25 L493.94,234.29 L494.07,235.62 L494.20,233.66 L494.33,235.52 L494.46,235.83 L494.59,235.67 L494.72,233.73 L494.84,235.15 L494.97,235.67 L495.10,235.96 L495.23,235.96 L495.36,234.44 L495.49,234.60 L495.62,234.48 L495.75,234.42 L495.88,236.05 L496.00,234.82 L496.13,235.39 L496.26,234.34 L496.39,234.36 L496.52,234.22 L496.65,236.22 L496.78,234.33 L496.91,234.25 L497.04,234.20 L497.17,236.23 L497.29,236.03 L497.42,236.28 L497.55,236.50 L497.68,234.59 L497.81,234.70 L497.94,235.16 L498.07,234.74 L498.20,235.23 L498.33,236.09 L498.45,236.57 L498.58,236.61 L498.71,235.06 L498.84,236.42 L498.97,236.18 L499.10,235.97 L499.23,236.96 L499.36,236.44 L499.49,236.41 L499.62,235.41 L499.74,236.28 L499.87,236.43 L500.00,234.93 L500.13,236.06 L500.26,235.27 L500.39,235.87 L500.52,237.31 L500.65,236.43 L500.78,236.41 L500.90,235.65 L501.03,236.71 L501.16,235.89 L501.29,236.33 L501.42,237.13 L501.55,235.63 L501.68,237.51 L501.81,235.81 L501.94,237.40 L502.06,237.85 L502.19,237.41 L502.32,236.11 L502.45,235.63 L502.58,238.00 L502.71,236.88 L502.84,236.92 L502.97,236.23 L503.10,237.73 L503.23,237.03 L503.35,237.42 L503.48,236.30 L503.61,237.71 L503.74,236.12 L503.87,237.73 L504.00,237.94 L504.13,236.82 L504.26,237.34 L504.39,238.31 L504.51,237.09 L504.64,238.46 L504.77,236.81 L504.90,237.07 L505.03,236.89 L505.16,237.31 L505.29,238.01 L505.42,237.94 L505.55,237.99 L505.68,236.85 L505.80,238.81 L505.93,236.94 L506.06,239.04 L506.19,238.65 L506.32,238.56 L506.45,237.07 L506.58,238.07 L506.71,238.41 L506.84,237.24 L506.96,238.84 L507.09,238.34 L507.22,238.21 L507.35,237.72 L507.48,237.77 L507.61,238.07 L507.74,238.82 L507.87,238.92 L508.00,239.37 L508.12,237.77 L508.25,238.25 L508.38,238.10 L508.51,239.51 L508.64,238.91 L508.77,238.15 L508.90,238.66 L509.03,239.79 L509.16,239.03 L509.29,238.06 L509.41,239.65 L509.54,239.81 L509.67,239.59 L509.80,238.67 L509.93,238.38 L510.06,240.07 L510.19,240.11 L510.32,239.94 L510.45,239.79 L510.57,239.37 L510.70,240.28 L510.83,239.92 L510.96,240.30 L511.09,238.46 L511.22,239.10 L511.35,240.64 L511.48,238.62 L511.61,240.72 L511.74,240.09 L511.86,238.70 L511.99,239.20 L512.12,239.39 L512.25,240.15 L512.38,240.76 L512.51,239.75 L512.64,241.06 L512.77,240.86 L512.90,240.47" fill="none" stroke="#21457F" stroke-width="1.45" stroke-linejoin="round" stroke-linecap="round"/>
<path d="M463.90,257.40 L464.21,257.37 L464.51,257.38 L464.82,257.37 L465.12,257.30 L465.43,257.11 L465.74,256.78 L466.04,256.42 L466.35,255.96 L466.66,255.32 L466.96,254.40 L467.27,253.12 L467.57,251.38 L467.88,249.36 L468.19,247.25 L468.49,245.24 L468.80,243.53 L469.11,242.31 L469.41,241.41 L469.72,240.62 L470.02,239.94 L470.33,239.34 L470.64,238.82 L470.94,238.38 L471.25,237.99 L471.56,237.65 L471.86,237.34 L472.17,237.07 L472.47,236.81 L472.78,236.57 L473.09,236.34 L473.39,236.14 L473.70,235.94 L474.01,235.76 L474.31,235.60 L474.62,235.45 L474.92,235.31 L475.23,235.18 L475.54,235.06 L475.84,234.95 L476.15,234.85 L476.46,234.76 L476.76,234.67 L477.07,234.59 L477.37,234.51 L477.68,234.44 L477.99,234.38 L478.29,234.31 L478.60,234.25 L478.90,234.18 L479.21,234.12 L479.52,234.06 L479.82,234.00 L480.13,233.94 L480.44,233.89 L480.74,233.84 L481.05,233.80 L481.35,233.75 L481.66,233.71 L481.97,233.68 L482.27,233.65 L482.58,233.62 L482.89,233.59 L483.19,233.56 L483.50,233.54 L483.80,233.52 L484.11,233.50 L484.42,233.48 L484.72,233.47 L485.03,233.46 L485.34,233.44 L485.64,233.43 L485.95,233.43 L486.25,233.42 L486.56,233.41 L486.87,233.41 L487.17,233.41 L487.48,233.40 L487.79,233.40 L488.09,233.40 L488.40,233.40 L488.70,233.40 L489.01,233.40 L489.32,233.40 L489.62,233.41 L489.93,233.41 L490.24,233.42 L490.54,233.43 L490.85,233.44 L491.15,233.45 L491.46,233.46 L491.77,233.48 L492.07,233.49 L492.38,233.51 L492.68,233.52 L492.99,233.54 L493.30,233.56 L493.60,233.58 L493.91,233.60 L494.22,233.63 L494.52,233.65 L494.83,233.67 L495.13,233.70 L495.44,233.72 L495.75,233.75 L496.05,233.78 L496.36,233.81 L496.67,233.83 L496.97,233.86 L497.28,233.89 L497.58,233.93 L497.89,233.96 L498.20,233.99 L498.50,234.02 L498.81,234.05 L499.12,234.09 L499.42,234.12 L499.73,234.16 L500.03,234.19 L500.34,234.23 L500.65,234.27 L500.95,234.30 L501.26,234.34 L501.57,234.38 L501.87,234.42 L502.18,234.47 L502.48,234.51 L502.79,234.55 L503.10,234.59 L503.40,234.64 L503.71,234.68 L504.02,234.73 L504.32,234.77 L504.63,234.82 L504.93,234.87 L505.24,234.91 L505.55,234.96 L505.85,235.01 L506.16,235.05 L506.46,235.10 L506.77,235.15 L507.08,235.20 L507.38,235.25 L507.69,235.30 L508.00,235.34 L508.30,235.39 L508.61,235.44 L508.91,235.49 L509.22,235.54 L509.53,235.59 L509.83,235.64 L510.14,235.69 L510.45,235.73 L510.75,235.78 L511.06,235.83 L511.36,235.88 L511.67,235.92 L511.98,235.97 L512.28,236.02 L512.59,236.06 L512.90,236.11" fill="none" stroke="#B3143F" stroke-width="1.35" stroke-linejoin="round" stroke-linecap="round"/>
<text transform="translate(495.40,230.40)" font-size="3.6" text-anchor="middle" fill="#B3143F" font-weight="normal" textLength="12.50" lengthAdjust="spacingAndGlyphs" >GPR84-/-</text>
<text transform="translate(494.30,242.90)" font-size="3.6" text-anchor="middle" fill="#21457F" font-weight="normal" textLength="5.20" lengthAdjust="spacingAndGlyphs" >WT</text>
<line x1="38.40" y1="301.60" x2="38.40" y2="354.58" stroke="#000" stroke-width="1.15"/>
<line x1="37.93" y1="343.40" x2="88.00" y2="343.40" stroke="#000" stroke-width="1.15"/>
<line x1="35.20" y1="351.28" x2="38.40" y2="351.28" stroke="#000" stroke-width="1.0"/>
<text transform="translate(32.40,352.88)" font-size="4.6" text-anchor="end" fill="#1a1a1a" stroke="#1a1a1a" stroke-width="0.18" font-weight="normal" >-20</text>
<line x1="35.20" y1="343.40" x2="38.40" y2="343.40" stroke="#000" stroke-width="1.0"/>
<text transform="translate(32.40,345.00)" font-size="4.6" text-anchor="end" fill="#1a1a1a" stroke="#1a1a1a" stroke-width="0.18" font-weight="normal" >0</text>
<line x1="35.20" y1="335.52" x2="38.40" y2="335.52" stroke="#000" stroke-width="1.0"/>
<text transform="translate(32.40,337.12)" font-size="4.6" text-anchor="end" fill="#1a1a1a" stroke="#1a1a1a" stroke-width="0.18" font-weight="normal" >20</text>
<line x1="35.20" y1="327.64" x2="38.40" y2="327.64" stroke="#000" stroke-width="1.0"/>
<text transform="translate(32.40,329.24)" font-size="4.6" text-anchor="end" fill="#1a1a1a" stroke="#1a1a1a" stroke-width="0.18" font-weight="normal" >40</text>
<line x1="35.20" y1="319.76" x2="38.40" y2="319.76" stroke="#000" stroke-width="1.0"/>
<text transform="translate(32.40,321.36)" font-size="4.6" text-anchor="end" fill="#1a1a1a" stroke="#1a1a1a" stroke-width="0.18" font-weight="normal" >60</text>
<line x1="35.20" y1="311.88" x2="38.40" y2="311.88" stroke="#000" stroke-width="1.0"/>
<text transform="translate(32.40,313.48)" font-size="4.6" text-anchor="end" fill="#1a1a1a" stroke="#1a1a1a" stroke-width="0.18" font-weight="normal" >80</text>
<line x1="35.20" y1="304.00" x2="38.40" y2="304.00" stroke="#000" stroke-width="1.0"/>
<text transform="translate(32.40,305.60)" font-size="4.6" text-anchor="end" fill="#1a1a1a" stroke="#1a1a1a" stroke-width="0.18" font-weight="normal" >100</text>
<line x1="49.17" y1="343.40" x2="49.17" y2="346.10" stroke="#000" stroke-width="1.0"/>
<text transform="translate(49.17,353.68)" font-size="4.6" text-anchor="middle" fill="#1a1a1a" stroke="#1a1a1a" stroke-width="0.18" font-weight="normal" >200</text>
<line x1="59.94" y1="343.40" x2="59.94" y2="346.10" stroke="#000" stroke-width="1.0"/>
<text transform="translate(59.94,353.68)" font-size="4.6" text-anchor="middle" fill="#1a1a1a" stroke="#1a1a1a" stroke-width="0.18" font-weight="normal" >400</text>
<line x1="70.71" y1="343.40" x2="70.71" y2="346.10" stroke="#000" stroke-width="1.0"/>
<text transform="translate(70.71,353.68)" font-size="4.6" text-anchor="middle" fill="#1a1a1a" stroke="#1a1a1a" stroke-width="0.18" font-weight="normal" >600</text>
<line x1="81.48" y1="343.40" x2="81.48" y2="346.10" stroke="#000" stroke-width="1.0"/>
<text transform="translate(81.48,353.68)" font-size="4.6" text-anchor="middle" fill="#1a1a1a" stroke="#1a1a1a" stroke-width="0.18" font-weight="normal" >800</text>
<text transform="translate(62.70,296.50)" font-size="6.6" text-anchor="middle" fill="#111" font-weight="normal" textLength="30.40" lengthAdjust="spacingAndGlyphs" stroke="#111" stroke-width="0.1">ADP (5μM)</text>
<text transform="translate(62.70,362.68)" font-size="6.2" text-anchor="middle" fill="#000" font-weight="normal" textLength="14.30" lengthAdjust="spacingAndGlyphs" stroke="#000" stroke-width="0.22">Time(s)</text>
<text transform="translate(19.80,329.14) rotate(-90)" font-size="5.9" text-anchor="middle" fill="#000" font-weight="normal" textLength="42.00" lengthAdjust="spacingAndGlyphs" stroke="#000" stroke-width="0.1">Light transmission(%)</text>
<path d="M38.40,343.98 L38.65,343.55 L38.89,343.12 L39.14,342.88 L39.38,342.68 L39.63,342.35 L39.87,342.14 L40.12,341.98 L40.37,341.51 L40.61,341.29 L40.86,340.85 L41.10,340.47 L41.35,340.32 L41.60,339.89 L41.84,339.42 L42.09,339.14 L42.33,338.81 L42.58,338.21 L42.82,337.76 L43.07,337.45 L43.32,337.16 L43.56,336.84 L43.81,336.70 L44.05,336.54 L44.30,336.46 L44.55,336.38 L44.79,336.13 L45.04,336.23 L45.28,336.00 L45.53,335.78 L45.77,335.73 L46.02,335.71 L46.27,335.82 L46.51,335.72 L46.76,335.69 L47.00,335.61 L47.25,335.70 L47.50,335.61 L47.74,335.54 L47.99,335.88 L48.23,335.75 L48.48,335.78 L48.72,336.03 L48.97,336.10 L49.22,336.03 L49.46,336.53 L49.71,336.48 L49.95,336.77 L50.20,336.68 L50.45,336.78 L50.69,337.10 L50.94,337.42 L51.18,337.38 L51.43,337.54 L51.67,337.61 L51.92,337.82 L52.17,337.89 L52.41,337.92 L52.66,338.13 L52.90,338.27 L53.15,338.14 L53.40,338.52 L53.64,338.41 L53.89,338.61 L54.13,338.54 L54.38,338.86 L54.62,338.60 L54.87,338.92 L55.12,339.11 L55.36,339.09 L55.61,339.11 L55.85,339.33 L56.10,339.23 L56.35,339.30 L56.59,339.25 L56.84,339.45 L57.08,339.55 L57.33,339.63 L57.57,339.48 L57.82,339.47 L58.07,339.69 L58.31,339.88 L58.56,339.71 L58.80,339.93 L59.05,340.07 L59.30,340.16 L59.54,339.97 L59.79,340.03 L60.03,340.17 L60.28,340.30 L60.52,340.34 L60.77,340.54 L61.02,340.33 L61.26,340.64 L61.51,340.60 L61.75,340.60 L62.00,340.67 L62.25,340.88 L62.49,341.01 L62.74,340.98 L62.98,341.20 L63.23,340.98 L63.47,341.23 L63.72,341.08 L63.97,341.36 L64.21,341.36 L64.46,341.45 L64.70,341.41 L64.95,341.53 L65.19,341.62 L65.44,341.36 L65.69,341.54 L65.93,341.57 L66.18,341.56 L66.42,341.50 L66.67,341.53 L66.92,341.46 L67.16,341.46 L67.41,341.59 L67.65,341.38 L67.90,341.42 L68.14,341.74 L68.39,341.44 L68.64,341.42 L68.88,341.48 L69.13,341.74 L69.37,341.47 L69.62,341.56 L69.87,341.81 L70.11,341.81 L70.36,341.45 L70.60,341.57 L70.85,341.73 L71.09,341.80 L71.34,341.78 L71.59,341.75 L71.83,341.54 L72.08,341.71 L72.32,341.79 L72.57,341.50 L72.82,341.55 L73.06,341.79 L73.31,341.51 L73.55,341.62 L73.80,341.56 L74.04,341.60 L74.29,341.51 L74.54,341.56 L74.78,341.54 L75.03,341.79 L75.27,341.59 L75.52,341.66 L75.77,341.58 L76.01,341.69 L76.26,341.52 L76.50,341.65 L76.75,341.76 L76.99,341.77 L77.24,341.81 L77.49,341.67 L77.73,341.84 L77.98,341.67 L78.22,341.80 L78.47,341.66 L78.72,341.66 L78.96,341.64 L79.21,341.51 L79.45,341.85 L79.70,341.52 L79.94,341.66 L80.19,341.62 L80.44,341.58 L80.68,341.51 L80.93,341.69 L81.17,341.67 L81.42,341.46 L81.67,341.80 L81.91,341.58 L82.16,341.58 L82.40,341.82 L82.65,341.59 L82.89,341.56 L83.14,341.46 L83.39,341.69 L83.63,341.44 L83.88,341.62 L84.12,341.63 L84.37,341.47 L84.62,341.81 L84.86,341.54 L85.11,341.57 L85.35,341.69 L85.60,341.48 L85.84,341.68 L86.09,341.63 L86.34,341.62 L86.58,341.52 L86.83,341.74 L87.07,341.65 L87.32,341.66 L87.57,341.61" fill="none" stroke="#21457F" stroke-width="1.35" stroke-linejoin="round" stroke-linecap="round"/>
<path d="M38.40,343.62 L38.62,343.44 L38.85,342.68 L39.07,342.45 L39.29,341.94 L39.52,341.60 L39.74,341.01 L39.96,340.29 L40.19,339.99 L40.41,339.44 L40.63,339.21 L40.86,338.72 L41.08,338.22 L41.31,337.52 L41.53,336.91 L41.75,336.21 L41.98,335.98 L42.20,334.96 L42.42,334.23 L42.65,333.79 L42.87,333.47 L43.09,332.79 L43.32,332.46 L43.54,331.93 L43.76,331.18 L43.99,331.08 L44.21,330.80 L44.43,330.50 L44.66,330.22 L44.88,330.20 L45.10,330.04 L45.33,329.89 L45.55,329.72 L45.77,329.67 L46.00,329.53 L46.22,329.72 L46.45,329.41 L46.67,329.48 L46.89,329.28 L47.12,329.62 L47.34,329.57 L47.56,329.66 L47.79,329.26 L48.01,329.22 L48.23,329.41 L48.46,329.64 L48.68,329.48 L48.90,329.60 L49.13,329.85 L49.35,330.16 L49.57,330.29 L49.80,330.38 L50.02,330.62 L50.24,330.74 L50.47,330.81 L50.69,330.85 L50.91,331.53 L51.14,331.45 L51.36,331.95 L51.59,332.11 L51.81,331.93 L52.03,332.26 L52.26,332.30 L52.48,332.79 L52.70,333.27 L52.93,333.31 L53.15,333.46 L53.37,333.53 L53.60,333.77 L53.82,334.32 L54.04,334.62 L54.27,335.06 L54.49,335.03 L54.71,335.54 L54.94,335.83 L55.16,336.16 L55.38,336.42 L55.61,336.28 L55.83,336.82 L56.05,336.57 L56.28,337.26 L56.50,337.02 L56.73,337.60 L56.95,337.83 L57.17,337.60 L57.40,338.02 L57.62,337.90 L57.84,338.35 L58.07,338.56 L58.29,338.30 L58.51,338.46 L58.74,338.51 L58.96,338.70 L59.18,339.17 L59.41,338.98 L59.63,339.04 L59.85,339.28 L60.08,339.11 L60.30,339.58 L60.52,339.28 L60.75,339.50 L60.97,339.97 L61.19,340.04 L61.42,339.76 L61.64,339.74 L61.87,340.21 L62.09,340.15 L62.31,339.98 L62.54,340.35 L62.76,340.02 L62.98,340.28 L63.21,340.57 L63.43,340.45 L63.65,340.38 L63.88,340.50 L64.10,340.41 L64.32,340.75 L64.55,340.43 L64.77,340.70 L64.99,340.58 L65.22,340.62 L65.44,340.77 L65.66,340.82 L65.89,340.63 L66.11,340.57 L66.33,340.68 L66.56,340.82 L66.78,341.00 L67.01,341.15 L67.23,340.66 L67.45,340.83 L67.68,340.78 L67.90,341.07 L68.12,340.93 L68.35,340.74 L68.57,340.84 L68.79,340.97 L69.02,341.15 L69.24,341.09 L69.46,340.85 L69.69,341.14 L69.91,340.98 L70.13,341.03 L70.36,340.87 L70.58,340.93 L70.80,341.22 L71.03,341.39 L71.25,341.25 L71.47,341.16 L71.70,341.08 L71.92,340.95 L72.15,340.92 L72.37,341.39 L72.59,340.95 L72.82,340.97 L73.04,340.94 L73.26,341.10 L73.49,341.27 L73.71,340.95 L73.93,340.97 L74.16,341.04 L74.38,340.92 L74.60,341.23 L74.83,341.37 L75.05,341.11 L75.27,340.97 L75.50,341.30 L75.72,341.00 L75.94,340.89 L76.17,341.28 L76.39,341.07 L76.61,341.03 L76.84,341.14 L77.06,341.28 L77.29,341.25 L77.51,340.97 L77.73,340.94 L77.96,341.12 L78.18,341.32 L78.40,340.92 L78.63,340.94 L78.85,341.23 L79.07,341.03 L79.30,340.85 L79.52,340.85 L79.74,341.05 L79.97,341.07 L80.19,341.00 L80.41,341.21 L80.64,341.21 L80.86,341.21 L81.08,340.91 L81.31,341.10 L81.53,340.98 L81.75,341.06 L81.98,340.99 L82.20,341.19 L82.43,341.24 L82.65,340.71 L82.87,341.05 L83.10,341.19 L83.32,340.89 L83.54,340.80 L83.77,341.15 L83.99,340.90 L84.21,341.03 L84.44,340.93 L84.66,341.20 L84.88,341.19 L85.11,340.65 L85.33,340.72 L85.55,340.92 L85.78,340.87 L86.00,341.04 L86.22,340.75 L86.45,340.94 L86.67,340.65 L86.89,340.75 L87.12,340.71 L87.34,340.63 L87.57,341.02" fill="none" stroke="#B3143F" stroke-width="1.6" stroke-linejoin="round" stroke-linecap="round"/>
<text transform="translate(49.80,326.50)" font-size="3.6" text-anchor="middle" fill="#B3143F" font-weight="normal" textLength="12.50" lengthAdjust="spacingAndGlyphs" >GPR84-/-</text>
<text transform="translate(48.50,341.40)" font-size="3.6" text-anchor="middle" fill="#21457F" font-weight="normal" textLength="5.20" lengthAdjust="spacingAndGlyphs" >WT</text>
<line x1="123.80" y1="301.60" x2="123.80" y2="354.58" stroke="#000" stroke-width="1.15"/>
<line x1="123.33" y1="343.40" x2="173.30" y2="343.40" stroke="#000" stroke-width="1.15"/>
<line x1="120.60" y1="351.28" x2="123.80" y2="351.28" stroke="#000" stroke-width="1.0"/>
<text transform="translate(117.80,352.88)" font-size="4.6" text-anchor="end" fill="#1a1a1a" stroke="#1a1a1a" stroke-width="0.18" font-weight="normal" >-20</text>
<line x1="120.60" y1="343.40" x2="123.80" y2="343.40" stroke="#000" stroke-width="1.0"/>
<text transform="translate(117.80,345.00)" font-size="4.6" text-anchor="end" fill="#1a1a1a" stroke="#1a1a1a" stroke-width="0.18" font-weight="normal" >0</text>
<line x1="120.60" y1="335.52" x2="123.80" y2="335.52" stroke="#000" stroke-width="1.0"/>
<text transform="translate(117.80,337.12)" font-size="4.6" text-anchor="end" fill="#1a1a1a" stroke="#1a1a1a" stroke-width="0.18" font-weight="normal" >20</text>
<line x1="120.60" y1="327.64" x2="123.80" y2="327.64" stroke="#000" stroke-width="1.0"/>
<text transform="translate(117.80,329.24)" font-size="4.6" text-anchor="end" fill="#1a1a1a" stroke="#1a1a1a" stroke-width="0.18" font-weight="normal" >40</text>
<line x1="120.60" y1="319.76" x2="123.80" y2="319.76" stroke="#000" stroke-width="1.0"/>
<text transform="translate(117.80,321.36)" font-size="4.6" text-anchor="end" fill="#1a1a1a" stroke="#1a1a1a" stroke-width="0.18" font-weight="normal" >60</text>
<line x1="120.60" y1="311.88" x2="123.80" y2="311.88" stroke="#000" stroke-width="1.0"/>
<text transform="translate(117.80,313.48)" font-size="4.6" text-anchor="end" fill="#1a1a1a" stroke="#1a1a1a" stroke-width="0.18" font-weight="normal" >80</text>
<line x1="120.60" y1="304.00" x2="123.80" y2="304.00" stroke="#000" stroke-width="1.0"/>
<text transform="translate(117.80,305.60)" font-size="4.6" text-anchor="end" fill="#1a1a1a" stroke="#1a1a1a" stroke-width="0.18" font-weight="normal" >100</text>
<line x1="134.45" y1="343.40" x2="134.45" y2="346.10" stroke="#000" stroke-width="1.0"/>
<text transform="translate(134.45,353.68)" font-size="4.6" text-anchor="middle" fill="#1a1a1a" stroke="#1a1a1a" stroke-width="0.18" font-weight="normal" >200</text>
<line x1="145.30" y1="343.40" x2="145.30" y2="346.10" stroke="#000" stroke-width="1.0"/>
<text transform="translate(145.30,353.68)" font-size="4.6" text-anchor="middle" fill="#1a1a1a" stroke="#1a1a1a" stroke-width="0.18" font-weight="normal" >400</text>
<line x1="156.15" y1="343.40" x2="156.15" y2="346.10" stroke="#000" stroke-width="1.0"/>
<text transform="translate(156.15,353.68)" font-size="4.6" text-anchor="middle" fill="#1a1a1a" stroke="#1a1a1a" stroke-width="0.18" font-weight="normal" >600</text>
<line x1="167.00" y1="343.40" x2="167.00" y2="346.10" stroke="#000" stroke-width="1.0"/>
<text transform="translate(167.00,353.68)" font-size="4.6" text-anchor="middle" fill="#1a1a1a" stroke="#1a1a1a" stroke-width="0.18" font-weight="normal" >800</text>
<text transform="translate(148.00,296.50)" font-size="6.6" text-anchor="middle" fill="#111" font-weight="normal" textLength="34.00" lengthAdjust="spacingAndGlyphs" stroke="#111" stroke-width="0.1">ADP (10μM)</text>
<text transform="translate(148.05,362.68)" font-size="6.2" text-anchor="middle" fill="#000" font-weight="normal" textLength="14.30" lengthAdjust="spacingAndGlyphs" stroke="#000" stroke-width="0.22">Time(s)</text>
<text transform="translate(105.20,329.14) rotate(-90)" font-size="5.9" text-anchor="middle" fill="#000" font-weight="normal" textLength="42.00" lengthAdjust="spacingAndGlyphs" stroke="#000" stroke-width="0.1">Light transmission(%)</text>
<path d="M123.60,344.02 L123.84,343.44 L124.09,342.93 L124.33,342.46 L124.58,341.95 L124.82,341.19 L125.06,340.53 L125.31,340.23 L125.55,339.52 L125.80,339.09 L126.04,339.08 L126.29,338.44 L126.53,338.14 L126.77,337.89 L127.02,337.12 L127.26,337.08 L127.51,336.58 L127.75,336.21 L127.99,335.73 L128.24,335.56 L128.48,335.41 L128.73,335.12 L128.97,335.02 L129.21,334.43 L129.46,334.23 L129.70,334.43 L129.95,334.36 L130.19,334.11 L130.44,333.94 L130.68,333.57 L130.92,333.46 L131.17,333.41 L131.41,333.71 L131.66,333.30 L131.90,333.28 L132.14,333.27 L132.39,333.09 L132.63,333.52 L132.88,333.48 L133.12,333.20 L133.37,333.14 L133.61,333.30 L133.85,333.54 L134.10,333.48 L134.34,333.51 L134.59,333.94 L134.83,333.97 L135.07,334.15 L135.32,334.37 L135.56,334.37 L135.81,334.69 L136.05,334.83 L136.29,335.06 L136.54,334.99 L136.78,335.48 L137.03,335.32 L137.27,335.73 L137.52,335.96 L137.76,335.69 L138.00,336.19 L138.25,336.01 L138.49,336.21 L138.74,336.37 L138.98,336.89 L139.22,336.92 L139.47,337.26 L139.71,337.04 L139.96,337.25 L140.20,337.52 L140.44,337.78 L140.69,338.00 L140.93,337.93 L141.18,338.26 L141.42,338.34 L141.67,338.72 L141.91,338.83 L142.15,339.04 L142.40,338.86 L142.64,339.06 L142.89,339.37 L143.13,339.14 L143.37,339.53 L143.62,339.57 L143.86,339.79 L144.11,339.84 L144.35,339.67 L144.59,340.00 L144.84,340.18 L145.08,340.11 L145.33,340.28 L145.57,340.09 L145.82,340.54 L146.06,340.21 L146.30,340.72 L146.55,340.39 L146.79,340.56 L147.04,340.84 L147.28,340.77 L147.52,340.91 L147.77,340.97 L148.01,341.04 L148.26,341.01 L148.50,340.75 L148.74,340.77 L148.99,340.83 L149.23,341.24 L149.48,341.17 L149.72,340.90 L149.97,341.32 L150.21,341.02 L150.45,341.24 L150.70,340.94 L150.94,341.41 L151.19,341.05 L151.43,341.28 L151.67,341.39 L151.92,341.47 L152.16,341.10 L152.41,341.25 L152.65,341.43 L152.89,341.32 L153.14,341.11 L153.38,341.45 L153.63,341.29 L153.87,341.51 L154.12,341.50 L154.36,341.23 L154.60,341.27 L154.85,341.52 L155.09,341.58 L155.34,341.59 L155.58,341.35 L155.82,341.41 L156.07,341.52 L156.31,341.56 L156.56,341.38 L156.80,341.34 L157.05,341.29 L157.29,341.41 L157.53,341.59 L157.78,341.66 L158.02,341.35 L158.27,341.51 L158.51,341.37 L158.75,341.69 L159.00,341.33 L159.24,341.56 L159.49,341.33 L159.73,341.32 L159.97,341.50 L160.22,341.73 L160.46,341.31 L160.71,341.51 L160.95,341.33 L161.20,341.62 L161.44,341.66 L161.68,341.36 L161.93,341.58 L162.17,341.68 L162.42,341.58 L162.66,341.48 L162.90,341.76 L163.15,341.52 L163.39,341.55 L163.64,341.52 L163.88,341.71 L164.12,341.43 L164.37,341.38 L164.61,341.36 L164.86,341.62 L165.10,341.44 L165.35,341.60 L165.59,341.42 L165.83,341.75 L166.08,341.37 L166.32,341.33 L166.57,341.55 L166.81,341.54 L167.05,341.54 L167.30,341.54 L167.54,341.78 L167.79,341.34 L168.03,341.69 L168.27,341.71 L168.52,341.75 L168.76,341.69 L169.01,341.42 L169.25,341.80 L169.50,341.77 L169.74,341.49 L169.98,341.73 L170.23,341.82 L170.47,341.55 L170.72,341.56 L170.96,341.59 L171.20,341.51 L171.45,341.80 L171.69,341.44 L171.94,341.52 L172.18,341.84 L172.43,341.81" fill="none" stroke="#21457F" stroke-width="1.45" stroke-linejoin="round" stroke-linecap="round"/>
<path d="M123.60,343.81 L123.82,342.90 L124.04,342.17 L124.27,341.38 L124.49,340.25 L124.71,339.55 L124.93,338.28 L125.15,337.17 L125.38,336.84 L125.60,335.62 L125.82,334.61 L126.04,334.21 L126.26,332.83 L126.49,331.84 L126.71,331.38 L126.93,330.47 L127.15,329.30 L127.37,328.77 L127.59,328.18 L127.82,327.17 L128.04,326.84 L128.26,326.77 L128.48,326.47 L128.70,326.05 L128.93,325.65 L129.15,324.93 L129.37,324.80 L129.59,324.47 L129.81,324.31 L130.04,324.08 L130.26,324.50 L130.48,323.95 L130.70,323.43 L130.92,323.28 L131.15,323.66 L131.37,323.37 L131.59,323.05 L131.81,323.11 L132.03,322.85 L132.26,323.08 L132.48,322.68 L132.70,322.51 L132.92,322.79 L133.14,322.61 L133.37,321.87 L133.59,321.95 L133.81,321.77 L134.03,321.95 L134.25,321.77 L134.47,321.68 L134.70,321.66 L134.92,322.32 L135.14,321.85 L135.36,322.16 L135.58,321.85 L135.81,322.21 L136.03,322.04 L136.25,321.79 L136.47,322.10 L136.69,322.46 L136.92,322.34 L137.14,322.50 L137.36,322.20 L137.58,322.84 L137.80,322.95 L138.03,322.81 L138.25,323.38 L138.47,323.16 L138.69,323.04 L138.91,323.56 L139.14,323.94 L139.36,323.98 L139.58,324.14 L139.80,324.66 L140.02,324.91 L140.24,325.15 L140.47,325.27 L140.69,325.45 L140.91,325.81 L141.13,326.13 L141.35,326.54 L141.58,326.46 L141.80,326.53 L142.02,327.01 L142.24,327.34 L142.46,327.58 L142.69,328.23 L142.91,328.13 L143.13,328.63 L143.35,328.86 L143.57,329.10 L143.80,329.50 L144.02,329.91 L144.24,330.24 L144.46,330.54 L144.68,330.59 L144.91,330.99 L145.13,331.12 L145.35,331.87 L145.57,331.91 L145.79,331.81 L146.02,332.60 L146.24,332.66 L146.46,333.01 L146.68,333.47 L146.90,333.22 L147.12,334.05 L147.35,333.97 L147.57,334.73 L147.79,335.08 L148.01,334.71 L148.23,335.30 L148.46,335.85 L148.68,335.82 L148.90,336.00 L149.12,335.98 L149.34,336.67 L149.57,336.75 L149.79,336.35 L150.01,336.68 L150.23,337.30 L150.45,337.31 L150.68,337.44 L150.90,337.33 L151.12,337.51 L151.34,337.45 L151.56,337.60 L151.79,337.95 L152.01,337.89 L152.23,338.00 L152.45,338.09 L152.67,338.41 L152.89,338.26 L153.12,338.41 L153.34,338.34 L153.56,339.04 L153.78,338.53 L154.00,339.29 L154.23,338.76 L154.45,338.96 L154.67,339.10 L154.89,338.79 L155.11,339.15 L155.34,339.33 L155.56,339.09 L155.78,339.07 L156.00,339.32 L156.22,339.54 L156.45,339.53 L156.67,339.56 L156.89,339.39 L157.11,339.77 L157.33,339.72 L157.56,339.63 L157.78,339.79 L158.00,339.88 L158.22,339.54 L158.44,339.52 L158.67,339.82 L158.89,339.89 L159.11,340.13 L159.33,340.06 L159.55,340.21 L159.77,339.89 L160.00,339.91 L160.22,340.32 L160.44,339.68 L160.66,340.17 L160.88,339.78 L161.11,339.81 L161.33,339.73 L161.55,340.34 L161.77,340.18 L161.99,339.81 L162.22,340.54 L162.44,340.52 L162.66,340.13 L162.88,340.20 L163.10,339.88 L163.33,340.01 L163.55,340.20 L163.77,339.85 L163.99,340.24 L164.21,340.25 L164.44,340.13 L164.66,340.37 L164.88,340.41 L165.10,340.23 L165.32,340.43 L165.55,339.97 L165.77,340.19 L165.99,340.32 L166.21,340.67 L166.43,340.46 L166.65,340.45 L166.88,340.33 L167.10,340.33 L167.32,340.09 L167.54,340.03 L167.76,340.42 L167.99,340.46 L168.21,340.33 L168.43,340.04 L168.65,340.57 L168.87,340.43 L169.10,340.21 L169.32,340.73 L169.54,340.63 L169.76,340.12 L169.98,340.25 L170.21,340.50 L170.43,340.83 L170.65,340.23 L170.87,340.40 L171.09,340.31 L171.32,340.19 L171.54,340.28 L171.76,340.66 L171.98,340.89 L172.20,340.80 L172.43,340.64" fill="none" stroke="#B3143F" stroke-width="1.7" stroke-linejoin="round" stroke-linecap="round"/>
<text transform="translate(137.30,318.50)" font-size="3.6" text-anchor="middle" fill="#B3143F" font-weight="normal" textLength="12.50" lengthAdjust="spacingAndGlyphs" >GPR84-/-</text>
<text transform="translate(135.50,340.60)" font-size="3.6" text-anchor="middle" fill="#21457F" font-weight="normal" textLength="5.20" lengthAdjust="spacingAndGlyphs" >WT</text>
<line x1="209.00" y1="301.60" x2="209.00" y2="354.58" stroke="#000" stroke-width="1.15"/>
<line x1="208.53" y1="343.40" x2="258.50" y2="343.40" stroke="#000" stroke-width="1.15"/>
<line x1="205.80" y1="351.28" x2="209.00" y2="351.28" stroke="#000" stroke-width="1.0"/>
<text transform="translate(203.00,352.88)" font-size="4.6" text-anchor="end" fill="#1a1a1a" stroke="#1a1a1a" stroke-width="0.18" font-weight="normal" >-20</text>
<line x1="205.80" y1="343.40" x2="209.00" y2="343.40" stroke="#000" stroke-width="1.0"/>
<text transform="translate(203.00,345.00)" font-size="4.6" text-anchor="end" fill="#1a1a1a" stroke="#1a1a1a" stroke-width="0.18" font-weight="normal" >0</text>
<line x1="205.80" y1="335.52" x2="209.00" y2="335.52" stroke="#000" stroke-width="1.0"/>
<text transform="translate(203.00,337.12)" font-size="4.6" text-anchor="end" fill="#1a1a1a" stroke="#1a1a1a" stroke-width="0.18" font-weight="normal" >20</text>
<line x1="205.80" y1="327.64" x2="209.00" y2="327.64" stroke="#000" stroke-width="1.0"/>
<text transform="translate(203.00,329.24)" font-size="4.6" text-anchor="end" fill="#1a1a1a" stroke="#1a1a1a" stroke-width="0.18" font-weight="normal" >40</text>
<line x1="205.80" y1="319.76" x2="209.00" y2="319.76" stroke="#000" stroke-width="1.0"/>
<text transform="translate(203.00,321.36)" font-size="4.6" text-anchor="end" fill="#1a1a1a" stroke="#1a1a1a" stroke-width="0.18" font-weight="normal" >60</text>
<line x1="205.80" y1="311.88" x2="209.00" y2="311.88" stroke="#000" stroke-width="1.0"/>
<text transform="translate(203.00,313.48)" font-size="4.6" text-anchor="end" fill="#1a1a1a" stroke="#1a1a1a" stroke-width="0.18" font-weight="normal" >80</text>
<line x1="205.80" y1="304.00" x2="209.00" y2="304.00" stroke="#000" stroke-width="1.0"/>
<text transform="translate(203.00,305.60)" font-size="4.6" text-anchor="end" fill="#1a1a1a" stroke="#1a1a1a" stroke-width="0.18" font-weight="normal" >100</text>
<line x1="219.65" y1="343.40" x2="219.65" y2="346.10" stroke="#000" stroke-width="1.0"/>
<text transform="translate(219.65,353.68)" font-size="4.6" text-anchor="middle" fill="#1a1a1a" stroke="#1a1a1a" stroke-width="0.18" font-weight="normal" >200</text>
<line x1="230.50" y1="343.40" x2="230.50" y2="346.10" stroke="#000" stroke-width="1.0"/>
<text transform="translate(230.50,353.68)" font-size="4.6" text-anchor="middle" fill="#1a1a1a" stroke="#1a1a1a" stroke-width="0.18" font-weight="normal" >400</text>
<line x1="241.35" y1="343.40" x2="241.35" y2="346.10" stroke="#000" stroke-width="1.0"/>
<text transform="translate(241.35,353.68)" font-size="4.6" text-anchor="middle" fill="#1a1a1a" stroke="#1a1a1a" stroke-width="0.18" font-weight="normal" >600</text>
<line x1="252.20" y1="343.40" x2="252.20" y2="346.10" stroke="#000" stroke-width="1.0"/>
<text transform="translate(252.20,353.68)" font-size="4.6" text-anchor="middle" fill="#1a1a1a" stroke="#1a1a1a" stroke-width="0.18" font-weight="normal" >800</text>
<text transform="translate(233.00,296.50)" font-size="6.6" text-anchor="middle" fill="#111" font-weight="normal" textLength="34.00" lengthAdjust="spacingAndGlyphs" stroke="#111" stroke-width="0.1">ADP (20μM)</text>
<text transform="translate(233.25,362.68)" font-size="6.2" text-anchor="middle" fill="#000" font-weight="normal" textLength="14.30" lengthAdjust="spacingAndGlyphs" stroke="#000" stroke-width="0.22">Time(s)</text>
<text transform="translate(190.40,329.14) rotate(-90)" font-size="5.9" text-anchor="middle" fill="#000" font-weight="normal" textLength="42.00" lengthAdjust="spacingAndGlyphs" stroke="#000" stroke-width="0.1">Light transmission(%)</text>
<path d="M208.80,343.80 L209.04,344.56 L209.29,345.29 L209.53,345.82 L209.78,346.43 L210.02,346.92 L210.26,346.76 L210.51,346.69 L210.75,346.50 L210.99,345.80 L211.24,345.07 L211.48,344.72 L211.73,344.12 L211.97,343.94 L212.21,343.37 L212.46,342.69 L212.70,342.29 L212.95,341.71 L213.19,341.29 L213.43,340.50 L213.68,339.76 L213.92,339.11 L214.16,338.18 L214.41,337.45 L214.65,336.51 L214.90,335.95 L215.14,335.35 L215.38,334.88 L215.63,334.37 L215.87,333.74 L216.12,333.64 L216.36,333.31 L216.60,332.95 L216.85,332.50 L217.09,332.09 L217.33,331.88 L217.58,331.54 L217.82,331.57 L218.07,331.35 L218.31,330.83 L218.55,330.79 L218.80,330.44 L219.04,330.40 L219.29,330.30 L219.53,330.11 L219.77,330.04 L220.02,329.61 L220.26,329.63 L220.50,329.63 L220.75,329.52 L220.99,329.49 L221.24,329.59 L221.48,329.25 L221.72,329.39 L221.97,329.28 L222.21,329.56 L222.46,329.58 L222.70,329.83 L222.94,330.04 L223.19,329.84 L223.43,330.02 L223.68,330.41 L223.92,330.35 L224.16,330.57 L224.41,330.96 L224.65,331.04 L224.89,331.09 L225.14,331.46 L225.38,331.47 L225.63,331.93 L225.87,332.05 L226.11,332.08 L226.36,332.43 L226.60,332.53 L226.85,332.44 L227.09,332.72 L227.33,332.74 L227.58,333.09 L227.82,333.25 L228.06,333.31 L228.31,333.52 L228.55,333.35 L228.80,333.75 L229.04,333.79 L229.28,334.10 L229.53,334.07 L229.77,334.27 L230.02,334.40 L230.26,334.67 L230.50,334.78 L230.75,334.63 L230.99,334.95 L231.23,335.12 L231.48,335.27 L231.72,335.36 L231.97,335.50 L232.21,335.70 L232.45,335.57 L232.70,335.82 L232.94,336.00 L233.19,335.89 L233.43,336.24 L233.67,336.27 L233.92,336.14 L234.16,336.51 L234.40,336.48 L234.65,336.41 L234.89,336.50 L235.14,336.83 L235.38,336.83 L235.62,336.76 L235.87,336.97 L236.11,336.81 L236.36,337.18 L236.60,336.95 L236.84,337.20 L237.09,337.37 L237.33,337.35 L237.57,337.53 L237.82,337.37 L238.06,337.60 L238.31,337.41 L238.55,337.59 L238.79,337.73 L239.04,337.83 L239.28,337.74 L239.53,337.95 L239.77,337.74 L240.01,338.08 L240.26,337.97 L240.50,338.01 L240.74,338.16 L240.99,338.01 L241.23,338.21 L241.48,338.14 L241.72,338.22 L241.96,338.36 L242.21,338.37 L242.45,338.53 L242.70,338.53 L242.94,338.30 L243.18,338.55 L243.43,338.45 L243.67,338.71 L243.91,338.57 L244.16,338.68 L244.40,338.66 L244.65,338.78 L244.89,338.90 L245.13,338.84 L245.38,338.91 L245.62,338.98 L245.87,338.78 L246.11,338.98 L246.35,338.96 L246.60,338.79 L246.84,338.87 L247.09,338.86 L247.33,338.89 L247.57,339.20 L247.82,339.17 L248.06,339.29 L248.30,339.05 L248.55,339.08 L248.79,339.22 L249.04,339.22 L249.28,339.14 L249.52,339.14 L249.77,339.34 L250.01,339.12 L250.26,339.33 L250.50,339.24 L250.74,339.43 L250.99,339.47 L251.23,339.17 L251.47,339.26 L251.72,339.28 L251.96,339.56 L252.21,339.57 L252.45,339.54 L252.69,339.53 L252.94,339.51 L253.18,339.49 L253.43,339.64 L253.67,339.54 L253.91,339.43 L254.16,339.62 L254.40,339.37 L254.64,339.49 L254.89,339.45 L255.13,339.64 L255.38,339.59 L255.62,339.50 L255.86,339.65 L256.11,339.80 L256.35,339.49 L256.60,339.53 L256.84,339.73 L257.08,339.85 L257.33,339.55 L257.57,339.66" fill="none" stroke="#21457F" stroke-width="1.4" stroke-linejoin="round" stroke-linecap="round"/>
<path d="M208.80,344.12 L209.02,344.06 L209.24,344.24 L209.47,343.85 L209.69,344.36 L209.91,343.95 L210.13,344.16 L210.35,344.71 L210.57,344.35 L210.80,344.62 L211.02,344.40 L211.24,344.35 L211.46,344.83 L211.68,345.13 L211.90,344.57 L212.13,344.71 L212.35,343.65 L212.57,342.50 L212.79,340.61 L213.01,338.39 L213.23,336.31 L213.46,334.38 L213.68,333.02 L213.90,331.49 L214.12,330.78 L214.34,329.90 L214.56,328.88 L214.79,328.79 L215.01,327.76 L215.23,327.74 L215.45,326.81 L215.67,326.32 L215.89,326.33 L216.12,325.78 L216.34,325.17 L216.56,325.11 L216.78,324.90 L217.00,324.85 L217.22,324.73 L217.45,324.29 L217.67,324.02 L217.89,323.96 L218.11,323.68 L218.33,323.62 L218.55,323.04 L218.78,322.90 L219.00,323.05 L219.22,322.90 L219.44,322.57 L219.66,322.50 L219.88,322.04 L220.11,322.35 L220.33,322.29 L220.55,321.79 L220.77,322.24 L220.99,321.87 L221.21,321.98 L221.44,321.58 L221.66,321.73 L221.88,321.54 L222.10,321.94 L222.32,321.59 L222.54,321.66 L222.77,321.79 L222.99,321.62 L223.21,321.64 L223.43,322.22 L223.65,322.19 L223.87,322.23 L224.10,322.45 L224.32,322.67 L224.54,322.63 L224.76,322.82 L224.98,322.59 L225.20,322.91 L225.43,323.28 L225.65,323.27 L225.87,323.30 L226.09,323.51 L226.31,323.78 L226.53,323.98 L226.76,324.14 L226.98,323.58 L227.20,323.88 L227.42,324.50 L227.64,324.19 L227.86,324.16 L228.09,324.60 L228.31,325.08 L228.53,324.97 L228.75,325.17 L228.97,325.50 L229.20,325.41 L229.42,325.95 L229.64,325.47 L229.86,325.83 L230.08,326.00 L230.30,325.94 L230.53,326.30 L230.75,326.74 L230.97,326.89 L231.19,327.11 L231.41,327.34 L231.63,326.95 L231.86,327.03 L232.08,327.55 L232.30,327.75 L232.52,327.56 L232.74,327.53 L232.96,327.59 L233.19,328.25 L233.41,327.93 L233.63,328.02 L233.85,328.20 L234.07,328.60 L234.29,328.82 L234.52,328.48 L234.74,328.95 L234.96,329.02 L235.18,329.00 L235.40,329.24 L235.62,329.02 L235.85,329.55 L236.07,329.80 L236.29,329.53 L236.51,329.60 L236.73,329.57 L236.95,329.76 L237.18,329.72 L237.40,329.80 L237.62,330.23 L237.84,330.33 L238.06,330.68 L238.28,330.69 L238.51,330.59 L238.73,331.06 L238.95,330.73 L239.17,331.22 L239.39,331.13 L239.61,330.86 L239.84,331.60 L240.06,331.75 L240.28,331.58 L240.50,331.87 L240.72,331.61 L240.94,332.24 L241.17,331.76 L241.39,331.87 L241.61,332.05 L241.83,332.42 L242.05,332.65 L242.27,332.50 L242.50,332.73 L242.72,332.92 L242.94,333.10 L243.16,333.16 L243.38,333.12 L243.60,333.13 L243.83,333.20 L244.05,333.84 L244.27,333.87 L244.49,333.89 L244.71,333.92 L244.93,334.19 L245.16,334.41 L245.38,334.61 L245.60,334.55 L245.82,334.56 L246.04,334.31 L246.26,334.46 L246.49,334.60 L246.71,334.62 L246.93,334.73 L247.15,335.07 L247.37,335.03 L247.59,335.65 L247.82,335.30 L248.04,335.43 L248.26,335.74 L248.48,335.62 L248.70,335.43 L248.93,335.84 L249.15,335.79 L249.37,336.11 L249.59,336.14 L249.81,335.82 L250.03,336.50 L250.26,336.45 L250.48,336.16 L250.70,336.38 L250.92,336.70 L251.14,336.35 L251.36,336.60 L251.59,336.51 L251.81,336.68 L252.03,336.65 L252.25,336.68 L252.47,336.85 L252.69,337.10 L252.92,337.10 L253.14,336.64 L253.36,336.93 L253.58,337.29 L253.80,336.80 L254.02,337.28 L254.25,337.44 L254.47,337.18 L254.69,337.42 L254.91,337.30 L255.13,337.30 L255.35,337.58 L255.58,337.38 L255.80,337.76 L256.02,337.52 L256.24,337.52 L256.46,337.93 L256.68,337.74 L256.91,338.03 L257.13,337.82 L257.35,337.58 L257.57,337.85" fill="none" stroke="#B3143F" stroke-width="1.7" stroke-linejoin="round" stroke-linecap="round"/>
<text transform="translate(222.50,318.50)" font-size="3.6" text-anchor="middle" fill="#B3143F" font-weight="normal" textLength="12.50" lengthAdjust="spacingAndGlyphs" >GPR84-/-</text>
<text transform="translate(221.80,336.00)" font-size="3.6" text-anchor="middle" fill="#21457F" font-weight="normal" textLength="5.20" lengthAdjust="spacingAndGlyphs" >WT</text>
<line x1="294.70" y1="301.60" x2="294.70" y2="354.58" stroke="#000" stroke-width="1.15"/>
<line x1="294.23" y1="343.40" x2="345.00" y2="343.40" stroke="#000" stroke-width="1.15"/>
<line x1="291.50" y1="351.28" x2="294.70" y2="351.28" stroke="#000" stroke-width="1.0"/>
<text transform="translate(288.70,352.88)" font-size="4.6" text-anchor="end" fill="#1a1a1a" stroke="#1a1a1a" stroke-width="0.18" font-weight="normal" >-20</text>
<line x1="291.50" y1="343.40" x2="294.70" y2="343.40" stroke="#000" stroke-width="1.0"/>
<text transform="translate(288.70,345.00)" font-size="4.6" text-anchor="end" fill="#1a1a1a" stroke="#1a1a1a" stroke-width="0.18" font-weight="normal" >0</text>
<line x1="291.50" y1="335.52" x2="294.70" y2="335.52" stroke="#000" stroke-width="1.0"/>
<text transform="translate(288.70,337.12)" font-size="4.6" text-anchor="end" fill="#1a1a1a" stroke="#1a1a1a" stroke-width="0.18" font-weight="normal" >20</text>
<line x1="291.50" y1="327.64" x2="294.70" y2="327.64" stroke="#000" stroke-width="1.0"/>
<text transform="translate(288.70,329.24)" font-size="4.6" text-anchor="end" fill="#1a1a1a" stroke="#1a1a1a" stroke-width="0.18" font-weight="normal" >40</text>
<line x1="291.50" y1="319.76" x2="294.70" y2="319.76" stroke="#000" stroke-width="1.0"/>
<text transform="translate(288.70,321.36)" font-size="4.6" text-anchor="end" fill="#1a1a1a" stroke="#1a1a1a" stroke-width="0.18" font-weight="normal" >60</text>
<line x1="291.50" y1="311.88" x2="294.70" y2="311.88" stroke="#000" stroke-width="1.0"/>
<text transform="translate(288.70,313.48)" font-size="4.6" text-anchor="end" fill="#1a1a1a" stroke="#1a1a1a" stroke-width="0.18" font-weight="normal" >80</text>
<line x1="291.50" y1="304.00" x2="294.70" y2="304.00" stroke="#000" stroke-width="1.0"/>
<text transform="translate(288.70,305.60)" font-size="4.6" text-anchor="end" fill="#1a1a1a" stroke="#1a1a1a" stroke-width="0.18" font-weight="normal" >100</text>
<line x1="306.45" y1="343.40" x2="306.45" y2="346.10" stroke="#000" stroke-width="1.0"/>
<text transform="translate(306.45,353.68)" font-size="4.6" text-anchor="middle" fill="#1a1a1a" stroke="#1a1a1a" stroke-width="0.18" font-weight="normal" >100</text>
<line x1="318.90" y1="343.40" x2="318.90" y2="346.10" stroke="#000" stroke-width="1.0"/>
<text transform="translate(318.90,353.68)" font-size="4.6" text-anchor="middle" fill="#1a1a1a" stroke="#1a1a1a" stroke-width="0.18" font-weight="normal" >200</text>
<line x1="331.35" y1="343.40" x2="331.35" y2="346.10" stroke="#000" stroke-width="1.0"/>
<text transform="translate(331.35,353.68)" font-size="4.6" text-anchor="middle" fill="#1a1a1a" stroke="#1a1a1a" stroke-width="0.18" font-weight="normal" >300</text>
<line x1="343.80" y1="343.40" x2="343.80" y2="346.10" stroke="#000" stroke-width="1.0"/>
<text transform="translate(343.80,353.68)" font-size="4.6" text-anchor="middle" fill="#1a1a1a" stroke="#1a1a1a" stroke-width="0.18" font-weight="normal" >400</text>
<text transform="translate(320.60,295.60)" font-size="6.6" text-anchor="middle" fill="#111" font-weight="normal" textLength="53.10" lengthAdjust="spacingAndGlyphs" stroke="#111" stroke-width="0.1">convulxin (75ng/ml)</text>
<text transform="translate(319.35,362.68)" font-size="6.2" text-anchor="middle" fill="#000" font-weight="normal" textLength="14.30" lengthAdjust="spacingAndGlyphs" stroke="#000" stroke-width="0.22">Time(s)</text>
<text transform="translate(276.10,329.14) rotate(-90)" font-size="5.9" text-anchor="middle" fill="#000" font-weight="normal" textLength="42.00" lengthAdjust="spacingAndGlyphs" stroke="#000" stroke-width="0.1">Light transmission(%)</text>
<path d="M294.00,342.87 L294.34,342.63 L294.67,345.37 L295.01,341.55 L295.35,342.70 L295.69,345.36 L296.02,342.17 L296.36,344.02 L296.70,344.90 L297.03,341.37 L297.37,342.95 L297.71,341.84 L298.05,344.16 L298.38,340.59 L298.72,342.86 L299.06,341.48 L299.39,340.86 L299.73,344.09 L300.07,343.73 L300.41,345.93 L300.74,345.50 L301.08,343.41 L301.42,344.13 L301.75,341.54 L302.09,342.10 L302.43,340.39 L302.76,341.04 L303.10,338.75 L303.44,338.18 L303.78,340.44 L304.11,337.16 L304.45,338.17 L304.79,335.65 L305.12,335.37 L305.46,334.10 L305.80,336.53 L306.14,334.84 L306.47,332.70 L306.81,331.27 L307.15,331.78 L307.48,334.31 L307.82,331.51 L308.16,333.35 L308.50,331.08 L308.83,329.68 L309.17,332.38 L309.51,328.59 L309.84,329.42 L310.18,331.00 L310.52,331.03 L310.86,329.71 L311.19,327.79 L311.53,328.69 L311.87,330.50 L312.20,330.70 L312.54,330.10 L312.88,326.91 L313.22,329.39 L313.55,327.60 L313.89,328.56 L314.23,326.67 L314.56,327.82 L314.90,328.68 L315.24,325.36 L315.57,326.67 L315.91,325.87 L316.25,325.22 L316.59,324.48 L316.92,328.41 L317.26,326.87 L317.60,327.60 L317.93,325.98 L318.27,324.27 L318.61,324.50 L318.95,327.73 L319.28,327.01 L319.62,324.18 L319.96,324.71 L320.29,325.89 L320.63,325.46 L320.97,326.78 L321.31,323.75 L321.64,325.65 L321.98,323.52 L322.32,324.61 L322.65,326.88 L322.99,325.73 L323.33,326.17 L323.67,323.19 L324.00,324.47 L324.34,326.79 L324.68,326.21 L325.01,325.34 L325.35,324.85 L325.69,324.35 L326.03,325.14 L326.36,325.26 L326.70,326.75 L327.04,324.24 L327.37,325.29 L327.71,326.63 L328.05,324.71 L328.38,322.42 L328.72,326.49 L329.06,326.04 L329.40,323.76 L329.73,325.48 L330.07,325.48 L330.41,324.49 L330.74,325.53 L331.08,324.20 L331.42,324.38 L331.76,322.54 L332.09,322.39 L332.43,326.56 L332.77,324.30 L333.10,323.40 L333.44,322.98 L333.78,323.43 L334.12,324.06 L334.45,324.08 L334.79,325.28 L335.13,325.66 L335.46,323.45 L335.80,323.14 L336.14,322.88 L336.48,324.02 L336.81,325.68 L337.15,323.71 L337.49,323.83 L337.82,324.85" fill="none" stroke="#21457F" stroke-width="1.2" stroke-linejoin="round" stroke-linecap="round"/>
<path d="M294.00,343.71 L294.26,344.77 L294.52,344.10 L294.77,344.66 L295.03,345.94 L295.29,345.02 L295.55,345.13 L295.80,342.83 L296.06,344.68 L296.32,345.15 L296.58,345.64 L296.84,345.72 L297.09,345.37 L297.35,346.17 L297.61,346.67 L297.87,343.64 L298.12,345.15 L298.38,345.19 L298.64,344.76 L298.90,345.71 L299.16,346.17 L299.41,346.51 L299.67,345.64 L299.93,345.56 L300.19,344.01 L300.44,344.53 L300.70,343.04 L300.96,345.01 L301.22,342.77 L301.48,343.76 L301.73,345.30 L301.99,344.67 L302.25,342.92 L302.51,341.09 L302.76,342.90 L303.02,340.95 L303.28,341.68 L303.54,339.59 L303.80,341.90 L304.05,339.88 L304.31,337.88 L304.57,339.58 L304.83,339.15 L305.08,339.50 L305.34,338.49 L305.60,337.62 L305.86,335.56 L306.12,336.77 L306.37,335.64 L306.63,335.87 L306.89,334.01 L307.15,332.68 L307.40,333.08 L307.66,334.36 L307.92,332.15 L308.18,331.05 L308.44,332.05 L308.69,333.63 L308.95,330.79 L309.21,330.31 L309.47,331.97 L309.73,332.47 L309.98,332.07 L310.24,330.63 L310.50,329.23 L310.76,329.87 L311.01,328.68 L311.27,331.02 L311.53,330.44 L311.79,328.78 L312.05,328.97 L312.30,329.68 L312.56,328.55 L312.82,329.62 L313.08,330.47 L313.33,329.06 L313.59,330.24 L313.85,328.05 L314.11,328.96 L314.37,328.27 L314.62,327.78 L314.88,328.88 L315.14,328.04 L315.40,329.53 L315.65,326.20 L315.91,327.39 L316.17,325.80 L316.43,329.01 L316.69,326.95 L316.94,326.48 L317.20,327.81 L317.46,328.58 L317.72,328.29 L317.97,328.28 L318.23,326.00 L318.49,328.35 L318.75,325.74 L319.01,327.08 L319.26,326.62 L319.52,326.41 L319.78,326.49 L320.04,326.09 L320.29,326.25 L320.55,327.18 L320.81,325.70 L321.07,327.38 L321.33,325.75 L321.58,325.54 L321.84,325.47 L322.10,327.10 L322.36,325.43 L322.61,324.68 L322.87,326.52 L323.13,327.11 L323.39,326.22 L323.65,324.71 L323.90,327.56 L324.16,327.97 L324.42,326.29 L324.68,325.63 L324.93,325.18 L325.19,326.62 L325.45,324.38 L325.71,327.06 L325.97,325.16 L326.22,327.51 L326.48,327.71 L326.74,327.32 L327.00,327.56 L327.25,325.98 L327.51,325.78 L327.77,327.09 L328.03,324.39 L328.29,326.41 L328.54,327.17 L328.80,327.06 L329.06,325.06 L329.32,324.40 L329.57,327.09 L329.83,327.55 L330.09,324.89 L330.35,326.79 L330.61,324.16 L330.86,325.87 L331.12,325.39 L331.38,326.42 L331.64,324.80 L331.89,326.01 L332.15,326.50 L332.41,324.45 L332.67,327.28 L332.93,325.07 L333.18,327.44 L333.44,325.39 L333.70,326.27 L333.96,324.64 L334.21,327.50 L334.47,325.72 L334.73,326.28 L334.99,324.48 L335.25,324.40 L335.50,325.54 L335.76,326.98 L336.02,326.89 L336.28,326.86 L336.54,326.26 L336.79,326.99 L337.05,327.10 L337.31,325.14 L337.57,325.56 L337.82,326.78" fill="none" stroke="#B3143F" stroke-width="1.5" stroke-linejoin="round" stroke-linecap="round"/>
<text transform="translate(326.70,333.30)" font-size="3.6" text-anchor="middle" fill="#B3143F" font-weight="normal" textLength="12.50" lengthAdjust="spacingAndGlyphs" >GPR84-/-</text>
<text transform="translate(328.40,318.70)" font-size="3.6" text-anchor="middle" fill="#21457F" font-weight="normal" textLength="5.20" lengthAdjust="spacingAndGlyphs" >WT</text>
<line x1="378.80" y1="301.60" x2="378.80" y2="354.58" stroke="#000" stroke-width="1.15"/>
<line x1="378.33" y1="343.40" x2="430.00" y2="343.40" stroke="#000" stroke-width="1.15"/>
<line x1="375.60" y1="351.28" x2="378.80" y2="351.28" stroke="#000" stroke-width="1.0"/>
<text transform="translate(372.80,352.88)" font-size="4.6" text-anchor="end" fill="#1a1a1a" stroke="#1a1a1a" stroke-width="0.18" font-weight="normal" >-20</text>
<line x1="375.60" y1="343.40" x2="378.80" y2="343.40" stroke="#000" stroke-width="1.0"/>
<text transform="translate(372.80,345.00)" font-size="4.6" text-anchor="end" fill="#1a1a1a" stroke="#1a1a1a" stroke-width="0.18" font-weight="normal" >0</text>
<line x1="375.60" y1="335.52" x2="378.80" y2="335.52" stroke="#000" stroke-width="1.0"/>
<text transform="translate(372.80,337.12)" font-size="4.6" text-anchor="end" fill="#1a1a1a" stroke="#1a1a1a" stroke-width="0.18" font-weight="normal" >20</text>
<line x1="375.60" y1="327.64" x2="378.80" y2="327.64" stroke="#000" stroke-width="1.0"/>
<text transform="translate(372.80,329.24)" font-size="4.6" text-anchor="end" fill="#1a1a1a" stroke="#1a1a1a" stroke-width="0.18" font-weight="normal" >40</text>
<line x1="375.60" y1="319.76" x2="378.80" y2="319.76" stroke="#000" stroke-width="1.0"/>
<text transform="translate(372.80,321.36)" font-size="4.6" text-anchor="end" fill="#1a1a1a" stroke="#1a1a1a" stroke-width="0.18" font-weight="normal" >60</text>
<line x1="375.60" y1="311.88" x2="378.80" y2="311.88" stroke="#000" stroke-width="1.0"/>
<text transform="translate(372.80,313.48)" font-size="4.6" text-anchor="end" fill="#1a1a1a" stroke="#1a1a1a" stroke-width="0.18" font-weight="normal" >80</text>
<line x1="375.60" y1="304.00" x2="378.80" y2="304.00" stroke="#000" stroke-width="1.0"/>
<text transform="translate(372.80,305.60)" font-size="4.6" text-anchor="end" fill="#1a1a1a" stroke="#1a1a1a" stroke-width="0.18" font-weight="normal" >100</text>
<line x1="391.40" y1="343.40" x2="391.40" y2="346.10" stroke="#000" stroke-width="1.0"/>
<text transform="translate(391.40,353.68)" font-size="4.6" text-anchor="middle" fill="#1a1a1a" stroke="#1a1a1a" stroke-width="0.18" font-weight="normal" >100</text>
<line x1="403.90" y1="343.40" x2="403.90" y2="346.10" stroke="#000" stroke-width="1.0"/>
<text transform="translate(403.90,353.68)" font-size="4.6" text-anchor="middle" fill="#1a1a1a" stroke="#1a1a1a" stroke-width="0.18" font-weight="normal" >200</text>
<line x1="416.40" y1="343.40" x2="416.40" y2="346.10" stroke="#000" stroke-width="1.0"/>
<text transform="translate(416.40,353.68)" font-size="4.6" text-anchor="middle" fill="#1a1a1a" stroke="#1a1a1a" stroke-width="0.18" font-weight="normal" >300</text>
<line x1="428.90" y1="343.40" x2="428.90" y2="346.10" stroke="#000" stroke-width="1.0"/>
<text transform="translate(428.90,353.68)" font-size="4.6" text-anchor="middle" fill="#1a1a1a" stroke="#1a1a1a" stroke-width="0.18" font-weight="normal" >400</text>
<text transform="translate(405.30,295.60)" font-size="6.6" text-anchor="middle" fill="#111" font-weight="normal" textLength="55.90" lengthAdjust="spacingAndGlyphs" stroke="#111" stroke-width="0.1">convulxin (100ng/ml)</text>
<text transform="translate(403.90,362.68)" font-size="6.2" text-anchor="middle" fill="#000" font-weight="normal" textLength="14.30" lengthAdjust="spacingAndGlyphs" stroke="#000" stroke-width="0.22">Time(s)</text>
<text transform="translate(360.20,329.14) rotate(-90)" font-size="5.9" text-anchor="middle" fill="#000" font-weight="normal" textLength="42.00" lengthAdjust="spacingAndGlyphs" stroke="#000" stroke-width="0.1">Light transmission(%)</text>
<path d="M378.90,343.64 L379.19,343.93 L379.48,343.85 L379.78,344.01 L380.07,343.82 L380.36,343.86 L380.65,344.09 L380.95,343.99 L381.24,344.04 L381.53,344.31 L381.82,344.44 L382.12,344.58 L382.41,344.66 L382.70,345.09 L383.00,345.10 L383.29,345.27 L383.58,345.39 L383.87,345.35 L384.16,345.25 L384.46,345.46 L384.75,345.23 L385.04,345.35 L385.33,345.11 L385.63,344.91 L385.92,344.85 L386.21,344.25 L386.50,343.69 L386.80,343.15 L387.09,342.18 L387.38,340.89 L387.67,339.24 L387.97,338.13 L388.26,336.49 L388.55,335.53 L388.84,334.21 L389.14,333.27 L389.43,332.11 L389.72,330.83 L390.01,329.92 L390.31,328.80 L390.60,327.62 L390.89,326.75 L391.19,325.85 L391.48,325.04 L391.77,324.61 L392.06,323.87 L392.35,323.07 L392.65,322.52 L392.94,322.19 L393.23,321.55 L393.52,321.18 L393.82,320.69 L394.11,320.40 L394.40,320.07 L394.69,319.44 L394.99,319.37 L395.28,318.92 L395.57,318.93 L395.86,318.60 L396.16,318.52 L396.45,318.26 L396.74,318.19 L397.03,317.90 L397.33,317.96 L397.62,317.66 L397.91,317.64 L398.20,317.68 L398.50,317.53 L398.79,317.41 L399.08,317.21 L399.38,317.34 L399.67,317.33 L399.96,317.05 L400.25,317.03 L400.54,317.04 L400.84,317.15 L401.13,317.15 L401.42,317.09 L401.71,317.12 L402.01,317.10 L402.30,316.92 L402.59,316.92 L402.88,316.84 L403.18,316.87 L403.47,316.94 L403.76,316.69 L404.05,316.66 L404.35,316.66 L404.64,316.63 L404.93,316.55 L405.22,316.42 L405.52,316.42 L405.81,316.44 L406.10,316.51 L406.39,316.50 L406.69,316.44 L406.98,316.24 L407.27,316.39 L407.56,316.36 L407.86,316.33 L408.15,316.38 L408.44,316.09 L408.73,316.37 L409.03,316.16 L409.32,316.03 L409.61,316.22 L409.90,316.08 L410.20,316.13 L410.49,316.15 L410.78,316.14 L411.07,316.14 L411.37,315.89 L411.66,315.89 L411.95,315.83 L412.25,316.08 L412.54,315.85 L412.83,315.95 L413.12,315.83 L413.41,315.84 L413.71,315.89 L414.00,315.67 L414.29,315.96 L414.58,315.71 L414.88,315.66 L415.17,315.75 L415.46,315.71 L415.75,315.57 L416.05,315.79 L416.34,315.66 L416.63,315.61 L416.92,315.71 L417.22,315.59 L417.51,315.68 L417.80,315.63 L418.09,315.59 L418.39,315.56 L418.68,315.66 L418.97,315.55 L419.26,315.56 L419.56,315.65 L419.85,315.52 L420.14,315.62 L420.43,315.40 L420.73,315.53 L421.02,315.44 L421.31,315.49 L421.60,315.49 L421.90,315.56 L422.19,315.57 L422.48,315.31 L422.77,315.42" fill="none" stroke="#21457F" stroke-width="1.35" stroke-linejoin="round" stroke-linecap="round"/>
<path d="M378.90,343.00 L379.19,342.75 L379.48,342.35 L379.78,342.21 L380.07,341.91 L380.36,341.39 L380.65,341.24 L380.95,340.97 L381.24,340.77 L381.53,340.71 L381.82,340.96 L382.12,342.21 L382.41,343.26 L382.70,343.75 L383.00,343.99 L383.29,344.32 L383.58,344.34 L383.87,344.29 L384.16,344.31 L384.46,344.23 L384.75,344.14 L385.04,344.29 L385.33,344.39 L385.63,344.57 L385.92,344.54 L386.21,344.40 L386.50,344.53 L386.80,344.62 L387.09,344.60 L387.38,344.48 L387.67,344.50 L387.97,344.70 L388.26,344.54 L388.55,344.60 L388.84,344.47 L389.14,344.39 L389.43,344.10 L389.72,343.73 L390.01,343.21 L390.31,342.70 L390.60,341.90 L390.89,340.97 L391.19,340.26 L391.48,339.32 L391.77,338.24 L392.06,337.49 L392.35,336.63 L392.65,335.87 L392.94,334.89 L393.23,334.32 L393.52,333.33 L393.82,332.47 L394.11,331.90 L394.40,331.09 L394.69,330.28 L394.99,329.70 L395.28,329.21 L395.57,328.78 L395.86,328.13 L396.16,327.65 L396.45,327.05 L396.74,326.72 L397.03,326.23 L397.33,325.72 L397.62,325.25 L397.91,324.99 L398.20,324.60 L398.50,324.17 L398.79,323.72 L399.08,323.62 L399.38,323.06 L399.67,322.84 L399.96,322.66 L400.25,322.29 L400.54,322.14 L400.84,321.97 L401.13,321.51 L401.42,321.40 L401.71,321.13 L402.01,320.93 L402.30,320.60 L402.59,320.45 L402.88,320.49 L403.18,320.14 L403.47,320.01 L403.76,319.84 L404.05,319.57 L404.35,319.55 L404.64,319.39 L404.93,319.11 L405.22,319.12 L405.52,318.97 L405.81,318.84 L406.10,318.62 L406.39,318.55 L406.69,318.41 L406.98,318.41 L407.27,318.42 L407.56,318.11 L407.86,318.05 L408.15,317.89 L408.44,317.79 L408.73,317.91 L409.03,317.79 L409.32,317.75 L409.61,317.43 L409.90,317.58 L410.20,317.51 L410.49,317.22 L410.78,317.21 L411.07,317.30 L411.37,317.03 L411.66,316.96 L411.95,316.96 L412.25,317.04 L412.54,316.77 L412.83,316.80 L413.12,316.69 L413.41,316.51 L413.71,316.51 L414.00,316.45 L414.29,316.63 L414.58,316.52 L414.88,316.42 L415.17,316.54 L415.46,316.20 L415.75,316.39 L416.05,316.35 L416.34,316.31 L416.63,316.29 L416.92,316.07 L417.22,316.14 L417.51,316.12 L417.80,316.12 L418.09,316.21 L418.39,316.11 L418.68,315.90 L418.97,315.90 L419.26,315.85 L419.56,316.02 L419.85,316.01 L420.14,316.03 L420.43,315.85 L420.73,315.88 L421.02,315.82 L421.31,315.79 L421.60,315.73 L421.90,315.77 L422.19,315.60 L422.48,315.76 L422.77,315.50" fill="none" stroke="#B3143F" stroke-width="1.4" stroke-linejoin="round" stroke-linecap="round"/>
<text transform="translate(410.30,323.00)" font-size="3.6" text-anchor="middle" fill="#B3143F" font-weight="normal" textLength="12.50" lengthAdjust="spacingAndGlyphs" >GPR84-/-</text>
<text transform="translate(410.70,313.10)" font-size="3.6" text-anchor="middle" fill="#21457F" font-weight="normal" textLength="5.20" lengthAdjust="spacingAndGlyphs" >WT</text>
<rect x="0" y="0" width="520" height="1.1" fill="#000"/>
<rect x="0" y="0" width="1.1" height="371" fill="#000"/>
<rect x="518.8" y="0" width="1.2" height="371" fill="#000"/>
<rect x="0" y="369.85" width="520" height="1.15" fill="#000"/>
</svg>
</body></html>
